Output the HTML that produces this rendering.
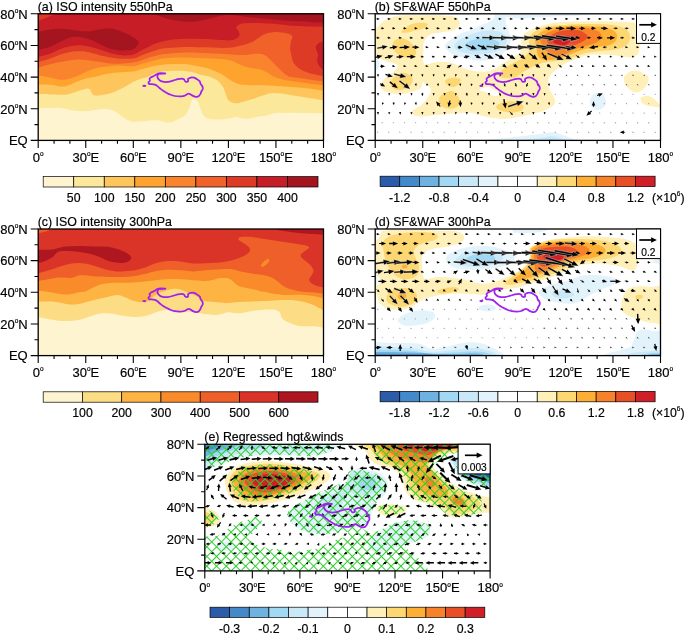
<!DOCTYPE html>
<html><head><meta charset="utf-8"><title>Figure</title>
<style>html,body{margin:0;padding:0;background:#fff}svg{display:block}</style></head>
<body>
<svg width="685" height="634" viewBox="0 0 685 634" font-family="'Liberation Sans', sans-serif" fill="#000"><style>text{stroke:#000;stroke-width:0.18px}</style>
<rect width="685" height="634" fill="#fff"/>
<defs><pattern id="hatch" patternUnits="userSpaceOnUse" width="6.86" height="6.86" patternTransform="translate(260.2 560.6) rotate(45)"><path d="M0 0.5H6.86M0.5 0V6.86" stroke="#2BD02B" stroke-width="1.0" fill="none"/></pattern></defs>
<clipPath id="clipa"><rect x="38.20" y="13.80" width="285.30" height="126.60"/></clipPath>
<g clip-path="url(#clipa)">
<rect x="36.2" y="11.8" width="289.3" height="130.6" fill="#FEF4CF"/>
<path d="M38.2 108.3C40.3 108.2 46.9 108.0 50.9 108.0C54.8 107.9 58.3 107.5 62.0 108.0C65.7 108.4 69.1 110.0 73.1 110.5C77.0 111.0 81.5 111.3 85.8 111.1C90.0 110.9 95.0 109.7 98.4 109.4C101.9 109.0 103.7 108.8 106.4 109.1C109.0 109.4 111.9 110.1 114.3 111.1C116.7 112.2 118.8 114.0 120.6 115.2C122.5 116.5 123.8 117.8 125.4 118.7C127.0 119.6 128.8 120.3 130.1 120.8C131.5 121.3 131.2 121.6 133.3 121.7C135.4 121.8 139.6 121.5 142.8 121.3C146.0 121.0 149.7 120.6 152.3 120.5C155.0 120.3 156.5 120.0 158.7 120.3C160.8 120.6 162.9 121.9 165.0 122.2C167.1 122.5 169.2 122.6 171.3 122.2C173.5 121.8 175.6 120.5 177.7 119.5C179.8 118.5 182.4 117.2 184.0 116.0C185.6 114.9 186.1 114.4 187.2 112.5C188.2 110.7 189.6 106.9 190.4 104.8C191.2 102.7 191.3 101.1 191.9 100.0C192.6 99.0 193.5 98.6 194.3 98.6C195.1 98.6 195.9 99.0 196.7 100.0C197.5 101.1 198.3 102.8 199.1 104.8C199.9 106.7 200.5 109.8 201.5 111.8C202.4 113.7 203.3 115.5 204.6 116.7C205.9 117.8 207.3 118.2 209.4 118.7C211.5 119.2 214.1 119.5 217.3 119.5C220.5 119.5 225.4 119.1 228.4 118.7C231.4 118.3 233.0 117.0 235.4 117.0C237.7 116.9 240.0 118.1 242.3 118.4C244.7 118.7 247.1 119.0 249.5 118.7C251.8 118.5 253.7 117.5 256.5 117.0C259.3 116.5 263.2 116.2 266.3 115.6C269.3 114.9 271.6 113.6 274.7 113.2C277.7 112.7 280.5 112.9 284.5 112.9C288.5 112.8 292.0 112.8 298.5 112.9C305.0 112.9 319.3 113.1 323.5 113.2L328.5 113.2L328.5 8.8L33.2 8.8L33.2 108.3Z" fill="#FBE89A"/>
<path d="M38.2 94.0C40.8 94.1 49.3 94.4 54.1 94.5C58.8 94.6 63.0 95.0 66.7 94.5C70.4 94.0 73.3 92.5 76.2 91.7C79.1 90.8 82.2 89.8 84.2 89.3C86.1 88.8 87.1 88.3 88.1 88.5C89.2 88.7 89.8 89.4 90.5 90.2C91.2 91.1 91.3 92.8 92.1 93.7C92.9 94.6 93.7 95.4 95.3 95.6C96.8 95.9 99.0 95.6 101.6 95.1C104.2 94.7 107.9 94.1 111.1 93.1C114.3 92.1 117.7 90.4 120.6 89.0C123.5 87.6 126.4 85.9 128.5 84.7C130.7 83.5 131.5 82.8 133.3 81.8C135.1 80.9 137.3 79.9 139.6 79.2C142.0 78.4 145.2 78.0 147.6 77.1C149.9 76.2 151.5 74.4 153.9 73.5C156.3 72.5 158.7 71.9 161.8 71.4C165.0 71.0 169.2 70.8 172.9 70.8C176.6 70.7 180.6 70.8 184.0 71.1C187.5 71.4 190.6 71.7 193.5 72.4C196.4 73.0 198.8 74.2 201.5 74.9C204.1 75.6 207.0 75.9 209.4 76.6C211.8 77.4 214.1 78.6 215.7 79.5C217.3 80.3 217.7 80.6 218.9 81.8C220.1 83.1 221.8 85.0 222.9 86.8C223.9 88.5 224.3 90.1 225.2 92.3C226.2 94.5 226.7 98.4 228.4 100.2C230.1 102.0 233.0 102.9 235.4 103.2C237.7 103.5 239.3 102.7 242.3 101.9C245.4 101.2 250.1 99.9 253.6 98.8C257.1 97.7 260.4 96.2 263.4 95.3C266.5 94.4 268.8 93.5 271.8 93.2C274.9 93.0 278.4 93.2 281.7 93.6C284.9 93.9 287.5 94.7 291.5 95.3C295.5 95.9 300.3 96.5 305.6 97.4C310.9 98.2 320.5 99.7 323.5 100.2L328.5 100.2L328.5 8.8L33.2 8.8L33.2 94.0Z" fill="#FDC55B"/>
<path d="M38.2 84.4C40.3 84.4 46.9 84.3 50.9 84.7C54.8 85.1 58.8 86.6 62.0 86.6C65.1 86.6 67.3 85.6 69.9 84.7C72.5 83.8 75.2 82.2 77.8 81.2C80.5 80.2 83.1 79.2 85.8 78.5C88.4 77.8 90.5 77.8 93.7 77.1C96.8 76.4 100.8 75.0 104.8 74.3C108.7 73.5 112.7 72.8 117.5 72.4C122.2 71.9 129.3 71.9 133.3 71.4C137.3 70.9 138.6 70.0 141.2 69.3C143.9 68.7 146.5 67.9 149.2 67.3C151.8 66.6 154.4 65.9 157.1 65.4C159.7 64.9 161.0 64.7 165.0 64.4C169.0 64.2 176.9 64.1 180.9 64.1C184.8 64.1 186.1 64.1 188.8 64.4C191.4 64.7 194.1 65.3 196.7 65.9C199.3 66.4 202.0 66.9 204.6 67.6C207.3 68.3 209.9 69.0 212.6 70.0C215.2 71.0 217.8 72.2 220.5 73.6C223.1 75.1 225.9 77.2 228.4 78.7C230.9 80.2 233.0 81.8 235.4 82.8C237.7 83.8 238.8 84.3 242.3 84.7C245.9 85.1 251.8 85.0 256.5 85.2C261.1 85.3 265.7 85.2 270.4 85.5C275.1 85.7 279.8 86.3 284.5 86.6C289.2 86.9 293.8 87.1 298.5 87.5C303.1 87.9 308.4 88.4 312.6 89.0C316.7 89.5 321.7 90.7 323.5 91.0L328.5 91.0L328.5 8.8L33.2 8.8L33.2 84.4Z" fill="#FDA32E"/>
<path d="M38.2 75.5C39.8 75.8 43.7 76.4 47.7 77.1C51.7 77.8 57.5 79.9 62.0 79.9C66.5 79.9 70.7 78.4 74.7 77.1C78.6 75.8 82.1 73.6 85.8 72.0C89.4 70.5 92.9 68.9 96.8 67.9C100.8 67.0 105.6 66.8 109.5 66.3C113.5 65.9 116.7 65.4 120.6 65.4C124.6 65.4 129.9 66.6 133.3 66.3C136.7 66.1 138.6 64.9 141.2 64.1C143.9 63.4 146.5 62.5 149.2 61.7C151.8 61.0 154.4 60.3 157.1 59.7C159.7 59.1 161.0 58.6 165.0 58.3C169.0 57.9 175.6 57.5 180.9 57.5C186.1 57.4 191.4 57.8 196.7 58.0C202.0 58.1 207.3 58.3 212.6 58.6C217.8 58.9 224.6 59.2 228.4 59.9C232.2 60.5 233.0 61.4 235.4 62.4C237.7 63.3 240.0 64.7 242.3 65.5C244.7 66.4 246.7 67.2 249.5 67.8C252.3 68.4 256.5 68.5 259.3 69.2C262.1 69.9 264.2 70.8 266.3 71.9C268.4 72.9 270.4 74.5 271.8 75.4C273.2 76.2 272.6 76.3 274.7 77.1C276.8 77.9 280.5 79.1 284.5 79.9C288.5 80.8 293.8 81.3 298.5 82.0C303.1 82.7 308.4 83.5 312.6 84.1C316.7 84.6 321.7 85.2 323.5 85.5L328.5 85.5L328.5 8.8L33.2 8.8L33.2 75.5Z" fill="#F9842D"/>
<path d="M38.2 67.9C40.3 67.3 46.9 65.2 50.9 64.1C54.8 63.1 58.3 62.5 62.0 61.7C65.7 61.0 69.6 60.2 73.1 59.9C76.5 59.5 79.1 59.5 82.6 59.7C86.0 59.9 90.0 60.5 93.7 61.0C97.4 61.5 100.8 62.2 104.8 62.7C108.7 63.2 112.7 63.8 117.5 63.8C122.2 63.8 129.3 63.1 133.3 62.5C137.3 62.0 138.6 61.2 141.2 60.3C143.9 59.5 146.5 58.3 149.2 57.5C151.8 56.7 154.4 56.0 157.1 55.4C159.7 54.8 161.0 54.4 165.0 54.0C169.0 53.5 175.6 52.9 180.9 52.7C186.1 52.5 191.4 52.6 196.7 52.7C202.0 52.8 207.3 53.1 212.6 53.4C217.8 53.6 223.4 53.9 228.4 54.2C233.4 54.4 237.7 55.2 242.3 55.1C247.0 55.0 252.9 53.8 256.5 53.7C260.0 53.6 261.3 53.7 263.4 54.5C265.5 55.3 267.3 56.9 269.1 58.6C271.0 60.2 272.8 62.4 274.7 64.3C276.5 66.2 278.4 68.1 280.2 69.8C282.1 71.6 284.0 73.5 285.9 74.7C287.9 75.9 288.3 76.4 291.8 77.1C295.3 77.8 301.7 78.4 307.0 79.2C312.3 79.9 320.8 81.0 323.5 81.4L328.5 81.4L328.5 8.8L33.2 8.8L33.2 67.9Z" fill="#F0622A"/>
<path d="M38.2 62.4C40.3 61.7 46.9 59.7 50.9 58.3C54.8 56.9 58.3 55.1 62.0 54.0C65.7 52.9 69.6 52.1 73.1 51.6C76.5 51.2 79.1 51.0 82.6 51.3C86.0 51.6 90.0 52.5 93.7 53.4C97.4 54.2 100.8 55.4 104.8 56.2C108.7 57.1 112.7 58.1 117.5 58.4C122.2 58.8 129.3 58.9 133.3 58.4C137.3 57.9 138.6 56.4 141.2 55.4C143.9 54.4 146.5 53.3 149.2 52.4C151.8 51.5 154.4 50.6 157.1 49.9C159.7 49.2 161.0 48.7 165.0 48.3C169.0 47.9 175.6 47.4 180.9 47.2C186.1 47.0 191.4 47.1 196.7 47.2C202.0 47.2 207.3 47.4 212.6 47.5C217.8 47.6 223.4 48.2 228.4 47.8C233.4 47.5 238.1 46.4 242.3 45.3C246.5 44.2 250.3 42.8 253.6 41.2C256.9 39.5 259.4 36.9 262.0 35.5C264.6 34.1 266.4 33.4 269.0 32.8C271.6 32.2 274.5 31.9 277.5 32.0C280.6 32.1 284.9 32.7 287.4 33.4C289.8 34.1 291.7 34.9 292.3 36.3C292.9 37.7 291.2 39.7 290.8 41.8C290.5 43.9 290.0 46.5 290.1 48.8C290.2 51.1 291.0 53.6 291.5 55.7C292.0 57.8 292.0 59.6 292.9 61.4C293.9 63.3 295.3 65.3 297.2 67.0C299.1 68.6 301.6 70.1 304.2 71.2C306.7 72.4 309.3 73.3 312.6 74.1C315.8 74.9 321.7 75.8 323.5 76.2L328.5 76.2L328.5 8.8L33.2 8.8L33.2 62.4Z" fill="#DE3B27"/>
<path d="M38.2 56.8C40.3 56.3 46.9 54.8 50.9 53.4C54.8 52.0 58.3 49.7 62.0 48.5C65.7 47.2 69.6 46.3 73.1 45.8C76.5 45.3 79.1 45.1 82.6 45.5C86.0 45.8 90.0 46.8 93.7 47.8C97.4 48.8 100.8 50.1 104.8 51.3C108.7 52.5 114.0 54.1 117.5 54.8C120.9 55.5 122.7 55.4 125.4 55.4C128.0 55.4 130.7 55.4 133.3 54.6C135.9 53.8 138.6 51.9 141.2 50.5C143.9 49.1 146.5 47.7 149.2 46.4C151.8 45.1 154.4 43.8 157.1 42.9C159.7 42.0 162.4 41.4 165.0 40.9C167.6 40.3 169.0 39.8 172.9 39.4C176.9 39.1 183.5 38.9 188.8 38.8C194.1 38.8 198.0 38.9 204.6 39.1C211.2 39.4 223.3 40.4 228.4 40.4C233.5 40.4 233.5 39.9 235.4 39.1C237.2 38.3 239.0 36.9 239.5 35.5C240.0 34.1 238.8 31.9 238.2 30.6C237.7 29.3 236.0 28.8 236.2 27.7C236.4 26.7 237.3 25.0 239.5 24.2C241.7 23.5 244.3 23.1 249.5 23.0C254.6 22.9 263.4 23.2 270.4 23.6C277.4 24.1 284.5 25.2 291.5 25.7C298.5 26.2 307.1 26.5 312.4 26.6C317.7 26.8 321.7 26.6 323.5 26.6L328.5 26.6L328.5 8.8L33.2 8.8L33.2 56.8Z" fill="#C61D27"/>
<path d="M35.0 22.3L46.1 17.9L55.6 13.5L35.0 10.6Z" fill="#DE3B27" />
<path d="M326.7 39.9C326.1 35.0 324.8 40.6 323.5 41.2C322.2 41.7 319.9 42.2 318.6 43.2C317.3 44.3 315.8 45.5 315.7 47.3C315.6 49.2 317.7 52.1 318.0 54.5C318.2 56.8 316.8 59.3 317.2 61.4C317.5 63.5 319.0 65.6 320.0 67.0C321.1 68.4 322.4 69.2 323.5 69.8C324.6 70.5 326.1 75.8 326.7 70.8C327.2 65.8 327.2 44.8 326.7 39.9Z" fill="#C61D27" />
<path d="M33.4 32.2C34.2 29.2 34.8 32.4 38.2 31.8C41.6 31.3 49.3 29.4 54.1 29.0C58.8 28.6 61.4 28.9 66.7 29.3C72.0 29.7 79.9 31.5 85.8 31.5C91.6 31.5 97.1 29.8 101.6 29.3C106.1 28.9 108.7 28.2 112.7 28.8C116.7 29.5 121.9 31.8 125.4 33.3C128.8 34.7 131.1 35.9 133.3 37.4C135.5 38.9 138.8 40.3 138.8 42.3C138.8 44.3 135.5 47.9 133.3 49.2C131.1 50.6 128.0 50.0 125.4 50.2C122.7 50.4 120.1 50.5 117.5 50.2C114.8 49.9 112.2 49.3 109.5 48.5C106.9 47.6 104.2 46.2 101.6 45.0C99.0 43.7 96.3 42.0 93.7 40.9C91.0 39.7 88.4 38.9 85.8 38.2C83.1 37.5 80.5 36.9 77.8 36.7C75.2 36.6 72.5 36.7 69.9 37.4C67.3 38.1 65.1 39.4 62.0 40.9C58.8 42.4 54.8 44.9 50.9 46.4C46.9 47.9 41.1 49.0 38.2 49.6C35.3 50.1 34.2 52.8 33.4 49.9C32.7 47.0 32.7 35.2 33.4 32.2Z" fill="#A5151F" />
<path d="M152.3 13.0C154.4 14.5 160.8 16.6 165.0 17.9C169.2 19.2 173.7 20.1 177.7 20.8C181.6 21.4 185.1 21.7 188.8 21.7C192.5 21.7 195.9 21.4 199.9 20.8C203.8 20.1 208.3 18.9 212.6 17.9C216.8 17.0 221.3 15.5 225.2 15.1C229.2 14.6 232.4 15.0 236.3 15.4C240.3 15.8 243.3 16.6 249.0 17.3C254.7 17.9 263.3 18.5 270.4 19.2C277.5 19.8 284.8 20.6 291.8 21.1C298.8 21.6 307.1 21.9 312.4 22.2C317.7 22.4 320.6 22.5 323.5 22.5C326.4 22.6 328.8 24.7 329.8 22.5C330.9 20.3 359.4 11.3 329.8 9.1C300.3 6.8 181.9 8.4 152.3 9.1C122.7 9.7 150.2 11.5 152.3 13.0Z" fill="#A5151F" />
<path d="M164.6 73.3C163.6 73.2 159.8 73.0 158.4 73.3C156.9 73.5 156.7 74.3 155.9 74.8C155.1 75.3 154.2 75.8 153.4 76.2C152.6 76.7 151.6 77.0 150.9 77.4C150.3 77.9 149.7 78.4 149.5 78.9C149.4 79.5 150.1 80.1 149.9 80.7C149.8 81.3 148.7 81.9 148.5 82.4C148.4 82.9 148.6 83.6 149.1 83.9C149.7 84.2 151.0 84.0 151.9 84.1C152.9 84.2 154.0 84.4 154.9 84.7C155.8 85.0 156.6 85.5 157.4 86.1C158.2 86.7 159.0 87.5 159.9 88.3C160.8 89.0 161.7 89.8 162.8 90.5C164.0 91.3 165.5 92.2 166.8 92.9C168.1 93.6 169.5 94.3 170.8 94.8C172.1 95.3 173.3 95.7 174.8 96.0C176.3 96.3 178.2 96.4 179.7 96.4C181.3 96.4 183.0 96.1 184.2 95.8C185.4 95.5 185.9 94.9 186.7 94.5C187.4 94.2 188.0 93.6 188.7 93.6C189.3 93.6 189.9 94.0 190.7 94.4C191.4 94.8 192.2 95.5 193.1 95.9C194.0 96.3 195.2 96.8 196.1 96.9C197.0 97.0 197.9 96.8 198.6 96.3C199.3 95.8 199.9 94.8 200.4 94.0C200.8 93.2 201.0 92.3 201.4 91.4C201.8 90.6 202.6 89.7 202.8 88.9C202.9 88.0 202.7 87.2 202.4 86.4C202.0 85.6 201.0 84.7 200.6 83.9C200.2 83.1 200.4 82.2 199.8 81.4C199.2 80.7 198.1 79.9 197.1 79.3C196.2 78.7 195.2 78.0 194.1 77.7C193.1 77.5 191.7 77.4 190.7 77.6C189.6 77.8 188.5 78.3 188.1 78.9C187.6 79.5 188.5 80.9 188.1 81.3C187.6 81.7 186.0 81.8 185.3 81.4C184.6 81.1 184.5 79.7 183.9 79.2C183.3 78.8 182.7 78.6 181.7 78.6C180.7 78.6 179.2 78.9 177.7 79.2C176.3 79.6 174.4 80.3 172.8 80.7C171.1 81.2 169.5 81.7 167.8 81.9C166.2 82.1 164.2 82.0 162.8 81.7C161.5 81.4 160.4 80.9 159.6 80.3C158.7 79.7 158.0 78.7 157.7 77.9C157.3 77.2 157.3 76.4 157.5 75.8C157.7 75.1 157.7 74.3 158.9 74.0C160.1 73.6 163.7 73.8 164.6 73.7C165.6 73.6 165.7 73.3 164.6 73.3Z" fill="none" stroke="#A020F0" stroke-width="1.75" stroke-linejoin="round"/>
<ellipse cx="144.3" cy="85.9" rx="2.0" ry="1.1" fill="#A020F0"/>
</g>
<path d="M38.20 140.40v7.5M54.05 140.40v3.4M69.90 140.40v3.4M85.75 140.40v7.5M101.60 140.40v3.4M117.45 140.40v3.4M133.30 140.40v7.5M149.15 140.40v3.4M165.00 140.40v3.4M180.85 140.40v7.5M196.70 140.40v3.4M212.55 140.40v3.4M228.40 140.40v7.5M244.25 140.40v3.4M260.10 140.40v3.4M275.95 140.40v7.5M291.80 140.40v3.4M307.65 140.40v3.4M323.50 140.40v7.5M38.20 140.40h-7.5M38.20 124.58h-3.7M38.20 108.75h-7.5M38.20 92.92h-3.7M38.20 77.10h-7.5M38.20 61.28h-3.7M38.20 45.45h-7.5M38.20 29.62h-3.7M38.20 13.80h-7.5" stroke="#000" stroke-width="1.1" fill="none"/>
<rect x="38.20" y="13.80" width="285.30" height="126.60" fill="none" stroke="#000" stroke-width="1.3"/>
<text x="27.7" y="18.5" text-anchor="end" font-size="13">80<tspan font-size="6.5" dy="-5.5">o</tspan><tspan dy="5.5">N</tspan></text>
<text x="27.7" y="50.2" text-anchor="end" font-size="13">60<tspan font-size="6.5" dy="-5.5">o</tspan><tspan dy="5.5">N</tspan></text>
<text x="27.7" y="81.8" text-anchor="end" font-size="13">40<tspan font-size="6.5" dy="-5.5">o</tspan><tspan dy="5.5">N</tspan></text>
<text x="27.7" y="113.5" text-anchor="end" font-size="13">20<tspan font-size="6.5" dy="-5.5">o</tspan><tspan dy="5.5">N</tspan></text>
<text x="27.7" y="145.1" text-anchor="end" font-size="13">EQ</text>
<text x="38.2" y="161.7" text-anchor="middle" font-size="13">0<tspan font-size="6.5" dy="-5.5">o</tspan></text>
<text x="85.8" y="161.7" text-anchor="middle" font-size="13">30<tspan font-size="6.5" dy="-5.5">o</tspan><tspan dy="5.5">E</tspan></text>
<text x="133.3" y="161.7" text-anchor="middle" font-size="13">60<tspan font-size="6.5" dy="-5.5">o</tspan><tspan dy="5.5">E</tspan></text>
<text x="180.9" y="161.7" text-anchor="middle" font-size="13">90<tspan font-size="6.5" dy="-5.5">o</tspan><tspan dy="5.5">E</tspan></text>
<text x="228.4" y="161.7" text-anchor="middle" font-size="13">120<tspan font-size="6.5" dy="-5.5">o</tspan><tspan dy="5.5">E</tspan></text>
<text x="275.9" y="161.7" text-anchor="middle" font-size="13">150<tspan font-size="6.5" dy="-5.5">o</tspan><tspan dy="5.5">E</tspan></text>
<text x="323.5" y="161.7" text-anchor="middle" font-size="13">180<tspan font-size="6.5" dy="-5.5">o</tspan></text>
<text x="37.7" y="10.9" font-size="12.4">(a) ISO intensity 550hPa</text>
<clipPath id="clipb"><rect x="375.20" y="13.80" width="285.30" height="126.60"/></clipPath>
<g clip-path="url(#clipb)">
<path d="M372.9 31.7C373.9 26.7 376.4 28.3 378.1 26.5C379.9 24.8 380.9 22.9 383.4 21.3C385.8 19.7 389.3 17.9 392.7 16.9C396.2 15.9 397.8 15.5 404.2 15.3C410.7 15.0 424.4 15.2 431.4 15.3C438.3 15.3 442.0 15.4 446.0 15.7C450.0 16.0 453.1 16.2 455.4 17.1C457.6 18.1 459.0 19.7 459.6 21.3C460.1 22.9 459.6 25.0 458.5 26.5C457.5 28.0 456.1 29.3 453.3 30.3C450.5 31.2 445.3 31.6 441.8 32.2C438.3 32.8 435.0 32.9 432.4 33.8C429.8 34.8 427.6 36.3 426.1 38.0C424.7 39.7 423.9 42.0 423.4 44.3C423.0 46.5 423.6 49.1 423.4 51.6C423.3 54.0 422.5 56.6 422.6 58.9C422.7 61.1 424.5 64.0 424.3 65.1C424.1 66.3 421.4 64.4 421.4 66.0C421.4 67.6 424.0 71.5 424.0 75.0C424.0 78.5 422.6 84.2 421.4 86.8C420.2 89.3 418.6 89.3 416.7 90.3C414.8 91.3 412.2 91.9 409.7 92.6C407.2 93.2 404.2 94.0 401.5 94.2C398.8 94.4 396.1 94.0 393.4 93.5C390.7 93.0 387.2 92.3 385.2 91.5C383.1 90.7 381.9 89.7 381.1 88.6C380.3 87.5 380.2 86.3 380.5 85.0C380.8 83.7 381.7 82.5 382.9 81.0C384.1 79.5 385.9 77.7 387.5 76.3C389.1 74.9 390.7 74.0 392.2 72.8C393.7 71.6 395.4 70.6 396.3 69.3C397.2 68.0 398.0 66.3 397.5 65.2C397.0 64.1 395.1 63.5 393.4 62.9C391.7 62.3 389.6 62.4 387.5 61.7C385.4 61.0 382.4 59.5 380.5 58.8C378.6 58.1 377.4 57.8 376.0 57.5C374.6 57.2 372.5 61.3 372.0 57.0C371.5 52.7 371.9 36.8 372.9 31.7Z" fill="#FEF0B8" />
<path d="M421.4 66.0C423.1 64.6 427.4 64.2 430.5 63.5C433.6 62.8 436.5 61.8 440.0 61.7C443.5 61.6 448.4 62.1 451.7 62.9C455.0 63.7 457.0 65.2 459.9 66.4C462.8 67.6 466.1 69.0 469.2 69.9C472.3 70.8 475.7 71.3 478.6 71.6C481.5 71.9 484.2 72.0 486.7 71.6C489.2 71.2 491.4 70.4 493.7 69.3C496.0 68.2 498.3 66.7 500.7 65.2C503.1 63.7 505.5 62.0 507.8 60.5C510.1 59.0 512.4 57.7 514.4 56.4C516.4 55.1 518.6 54.3 519.9 52.8C521.2 51.3 521.8 49.4 522.0 47.3C522.2 45.2 521.1 42.5 521.3 40.4C521.5 38.3 522.2 36.3 523.4 34.8C524.6 33.3 526.3 32.5 528.3 31.3C530.3 30.2 532.4 28.9 535.2 27.9C538.0 26.9 541.4 26.0 544.9 25.1C548.4 24.2 552.6 23.1 556.0 22.6C559.4 22.1 561.2 22.2 565.0 22.0C568.8 21.8 574.3 21.7 579.0 21.6C583.7 21.5 588.3 21.4 593.0 21.3C597.7 21.2 602.3 21.2 607.0 21.3C611.7 21.4 616.8 21.5 621.0 21.7C625.2 21.9 629.5 21.9 632.3 22.4C635.0 22.9 636.2 22.9 637.5 24.5C638.8 26.1 639.6 28.7 640.0 32.0C640.4 35.3 639.9 41.0 639.8 44.1C639.7 47.2 639.8 48.5 639.3 50.4C638.8 52.3 637.9 54.1 636.5 55.3C635.1 56.5 633.0 57.2 630.9 57.4C628.8 57.6 626.7 57.1 623.9 56.7C621.1 56.4 617.3 55.6 614.0 55.3C610.7 54.9 607.7 54.7 604.2 54.6C600.7 54.5 596.3 54.4 593.0 54.6C589.7 54.8 587.4 55.3 584.6 56.0C581.8 56.7 578.8 57.8 576.2 58.8C573.6 59.8 571.1 60.9 569.2 61.7C567.3 62.5 566.7 62.8 565.0 63.8C563.3 64.8 560.8 66.4 558.8 67.8C556.8 69.2 554.8 70.8 553.2 72.3C551.6 73.8 549.8 75.3 549.0 77.0C548.2 78.7 548.5 80.8 548.5 82.5C548.5 84.2 548.6 85.8 549.0 87.4C549.4 89.0 550.2 90.8 551.0 92.3C551.8 93.8 552.8 95.0 553.5 96.4C554.2 97.8 554.9 99.2 555.0 100.6C555.1 102.0 555.0 103.4 554.0 104.7C553.0 106.0 551.2 107.0 549.0 108.2C546.8 109.4 544.0 110.7 541.0 111.7C538.0 112.7 534.5 113.4 531.0 114.2C527.5 115.0 523.5 116.1 520.0 116.8C516.5 117.5 513.0 117.9 510.2 118.3C507.4 118.7 505.4 119.2 503.3 119.3C501.2 119.3 500.2 118.9 497.7 118.6C495.1 118.2 491.2 117.8 488.0 117.2C484.8 116.6 481.3 115.5 478.3 114.8C475.3 114.1 474.5 113.0 470.0 112.8C465.5 112.6 456.7 113.4 451.3 113.8C445.9 114.2 442.0 114.6 437.4 115.1C432.8 115.5 427.2 116.4 423.5 116.5C419.8 116.6 417.1 116.4 415.2 115.8C413.2 115.2 412.0 114.1 411.8 113.1C411.6 112.1 412.4 110.8 413.8 109.6C415.2 108.4 418.4 107.5 420.2 106.1C422.0 104.7 423.5 103.0 424.9 101.4C426.3 99.8 427.4 98.2 428.4 96.7C429.4 95.2 430.4 93.6 430.7 92.1C431.0 90.5 431.0 88.6 430.2 87.4C429.4 86.2 427.5 86.2 426.1 85.0C424.7 83.8 423.0 82.2 422.0 80.0C421.0 77.8 420.1 74.3 420.0 72.0C419.9 69.7 419.6 67.4 421.4 66.0Z" fill="#FEF0B8" />
<path d="M479.7 89.1C480.3 88.5 482.6 87.7 484.4 87.4C486.1 87.1 488.4 86.9 490.2 87.4C491.9 87.9 493.3 89.2 494.9 90.3C496.5 91.4 499.2 92.8 499.6 93.8C500.0 94.8 498.6 95.9 497.2 96.1C495.8 96.3 493.3 95.7 491.4 95.0C489.5 94.3 487.4 92.8 485.6 92.1C483.9 91.4 481.9 91.4 480.9 90.9C479.9 90.4 479.1 89.7 479.7 89.1Z" fill="#fff" />
<path d="M623.9 77.0C623.8 78.2 623.9 80.7 624.6 82.6C625.3 84.5 626.4 86.6 628.1 88.2C629.9 89.8 632.8 92.1 635.1 92.4C637.4 92.8 640.1 91.6 642.1 90.3C644.1 89.0 646.0 86.9 647.0 84.7C648.0 82.5 649.0 78.9 648.4 77.0C647.8 75.1 645.2 74.3 643.5 73.3C641.8 72.3 639.8 71.4 637.9 71.0C636.0 70.6 633.9 70.5 632.3 70.8C630.7 71.1 629.3 72.1 628.1 72.9C626.9 73.7 626.0 74.8 625.3 75.5C624.6 76.2 624.0 75.8 623.9 77.0Z" fill="#FEF0B8" />
<path d="M640.7 98.0C641.2 96.8 643.3 96.1 644.9 95.9C646.5 95.7 648.6 95.8 650.5 96.6C652.4 97.4 654.6 99.5 656.1 100.8C657.6 102.1 658.5 103.4 659.6 104.3C660.8 105.2 662.4 105.4 663.0 106.0C663.6 106.6 664.4 107.9 663.0 108.0C661.6 108.1 657.2 107.1 654.7 106.7C652.2 106.3 649.8 106.3 647.7 105.7C645.6 105.1 643.3 104.2 642.1 102.9C640.9 101.6 640.2 99.2 640.7 98.0Z" fill="#FEF0B8" />
<path d="M401.4 32.0C401.6 30.9 405.8 27.3 408.3 25.8C410.8 24.3 413.8 23.5 416.6 23.0C419.4 22.5 423.0 22.6 424.9 23.0C426.8 23.4 427.9 24.2 427.7 25.1C427.5 26.0 425.6 27.7 423.5 28.6C421.4 29.5 418.0 29.9 415.2 30.6C412.4 31.3 409.2 32.5 406.9 32.7C404.6 32.9 401.2 33.1 401.4 32.0Z" fill="#FDD772" />
<path d="M393.0 44.5C393.0 42.3 394.2 40.7 395.8 39.7C397.4 38.7 400.4 38.0 402.7 38.3C405.0 38.6 407.6 40.0 409.7 41.7C411.8 43.4 414.2 46.6 415.2 48.7C416.2 50.8 416.6 52.7 415.9 54.2C415.2 55.7 413.3 57.2 411.1 57.7C408.9 58.2 405.2 57.8 402.7 57.0C400.1 56.2 397.4 54.9 395.8 52.8C394.2 50.7 393.0 46.7 393.0 44.5Z" fill="#FDD772" />
<path d="M390.4 83.9C390.2 82.3 391.1 80.7 392.2 79.2C393.3 77.7 394.9 76.2 396.9 75.1C398.8 74.0 401.8 72.8 403.9 72.8C406.0 72.8 408.2 74.0 409.7 75.1C411.1 76.2 412.4 77.6 412.6 79.2C412.8 80.8 412.0 82.9 410.9 84.5C409.8 86.1 408.1 87.6 406.2 88.6C404.2 89.6 401.3 90.3 399.2 90.3C397.1 90.3 394.9 89.7 393.4 88.6C391.9 87.5 390.6 85.5 390.4 83.9Z" fill="#FDD772" />
<path d="M445.0 81.2C445.4 80.3 446.8 79.0 448.5 78.4C450.2 77.8 453.4 77.6 455.4 77.7C457.4 77.8 459.6 78.2 460.3 79.1C461.0 80.0 460.4 82.0 459.6 83.2C458.8 84.4 456.9 85.8 455.4 86.4C453.9 87.0 452.1 87.1 450.6 86.7C449.1 86.3 447.3 84.8 446.4 83.9C445.5 83.0 444.6 82.1 445.0 81.2Z" fill="#FDD772" />
<path d="M438.8 99.9C438.9 98.2 440.2 96.3 441.6 95.0C443.0 93.7 445.4 93.0 447.1 92.3C448.8 91.6 450.4 90.6 452.0 90.9C453.6 91.2 455.5 92.7 456.8 94.3C458.1 95.9 459.4 98.6 459.6 100.6C459.8 102.6 459.4 104.8 458.2 106.1C457.0 107.4 454.8 108.2 452.7 108.6C450.6 108.9 447.7 108.7 445.7 108.2C443.7 107.7 442.0 106.8 440.9 105.4C439.8 104.0 438.7 101.6 438.8 99.9Z" fill="#FDD772" />
<path d="M496.4 106.1C497.0 104.9 499.6 103.5 501.9 102.7C504.2 101.9 507.4 101.3 510.2 101.3C513.0 101.3 516.3 101.9 518.5 102.7C520.7 103.5 522.8 104.8 523.4 106.1C524.0 107.4 523.5 109.2 522.0 110.3C520.5 111.3 517.3 112.2 514.4 112.4C511.5 112.6 507.4 112.2 504.7 111.7C502.0 111.2 499.8 110.5 498.4 109.6C497.0 108.7 495.8 107.2 496.4 106.1Z" fill="#FDD772" />
<path d="M547.7 26.5C543.2 27.3 540.8 28.6 538.0 30.0C535.2 31.4 532.5 32.8 531.0 34.8C529.5 36.8 529.2 39.4 529.0 41.7C528.8 44.0 530.0 46.6 529.6 48.7C529.2 50.8 528.5 52.4 526.9 54.2C525.3 56.1 522.4 58.2 519.9 59.8C517.4 61.4 514.1 62.5 511.6 63.9C509.1 65.3 506.6 66.7 504.7 68.1C502.8 69.5 501.2 70.9 500.5 72.3C499.8 73.7 499.8 75.5 500.5 76.5C501.2 77.5 503.2 78.0 505.0 78.2C506.8 78.5 509.0 78.3 511.0 78.0C513.0 77.7 515.2 77.5 517.2 76.5C519.2 75.5 520.4 73.8 522.7 72.3C525.0 70.8 528.2 68.8 531.0 67.4C533.8 66.0 536.5 64.8 539.3 63.9C542.1 63.0 544.9 62.3 547.7 61.9C550.5 61.5 553.1 61.4 556.0 61.2C558.9 61.0 561.6 61.3 565.0 60.5C568.4 59.7 572.7 57.5 576.2 56.3C579.7 55.0 582.0 53.9 586.0 53.0C590.0 52.1 595.5 51.4 600.0 50.9C604.5 50.4 609.0 50.4 612.7 49.9C616.5 49.4 619.9 48.7 622.5 47.6C625.1 46.5 626.8 45.0 628.1 43.4C629.4 41.8 630.1 39.7 630.2 37.8C630.3 35.9 629.8 33.8 628.8 32.2C627.8 30.6 626.4 29.2 623.9 28.0C621.4 26.8 618.0 25.8 614.0 25.2C610.0 24.6 605.8 24.3 600.0 24.1C594.2 23.9 584.8 24.0 579.0 24.1C573.2 24.2 570.2 24.6 565.0 25.0C559.8 25.4 552.2 25.7 547.7 26.5Z" fill="#FDD772" />
<path d="M565.0 26.2C560.2 26.4 556.8 26.7 553.2 27.4C549.6 28.1 546.3 29.1 543.5 30.6C540.7 32.1 538.0 34.4 536.6 36.2C535.2 38.1 535.2 39.6 535.2 41.7C535.2 43.8 536.1 46.4 536.6 48.7C537.1 51.0 537.1 53.8 538.0 55.6C538.9 57.4 540.0 58.9 542.1 59.6C544.2 60.3 547.6 60.1 550.4 60.0C553.2 59.9 556.4 59.3 558.8 58.8C561.2 58.3 562.1 57.9 565.0 56.8C567.9 55.7 572.7 53.3 576.2 52.0C579.7 50.7 582.3 49.6 586.0 48.8C589.7 47.9 594.9 47.4 598.6 46.9C602.3 46.4 605.7 46.3 608.4 45.5C611.1 44.7 613.3 43.4 614.8 42.0C616.2 40.6 617.0 38.7 617.1 37.1C617.2 35.5 616.7 33.6 615.5 32.2C614.3 30.8 612.4 29.6 609.8 28.7C607.2 27.8 604.7 27.1 600.0 26.6C595.3 26.1 587.6 26.0 581.8 25.9C576.0 25.8 569.8 25.9 565.0 26.2Z" fill="#FDAE35" />
<path d="M565.0 27.9C560.9 28.3 557.7 29.1 554.6 30.0C551.5 30.9 548.6 32.0 546.3 33.4C544.0 34.8 541.5 36.6 540.7 38.3C539.9 40.0 540.7 42.1 541.4 43.8C542.1 45.5 543.4 47.0 544.9 48.7C546.4 50.4 548.5 52.9 550.4 54.2C552.2 55.5 553.6 56.5 556.0 56.5C558.4 56.5 561.9 55.7 565.0 54.5C568.1 53.3 571.5 50.7 574.8 49.3C578.1 47.9 581.3 47.0 584.6 46.0C587.9 45.0 591.8 44.4 594.4 43.4C597.0 42.4 598.8 41.2 600.0 39.9C601.2 38.6 601.9 37.1 601.7 35.7C601.5 34.3 600.3 32.7 598.6 31.5C596.9 30.3 594.9 29.3 591.6 28.7C588.3 28.1 583.4 27.8 579.0 27.7C574.6 27.6 569.1 27.5 565.0 27.9Z" fill="#F68329" />
<path d="M565.0 30.3C561.6 30.7 558.7 31.6 556.0 32.7C553.3 33.8 550.5 35.5 549.0 36.9C547.5 38.3 546.8 39.6 547.0 41.0C547.2 42.4 548.9 43.9 550.4 45.2C551.9 46.5 553.6 48.1 556.0 48.7C558.4 49.3 562.3 49.5 565.0 49.0C567.7 48.5 569.4 47.0 572.0 46.0C574.6 45.0 578.1 43.8 580.4 42.7C582.7 41.6 584.8 40.4 586.0 39.2C587.2 38.0 587.9 36.9 587.4 35.7C586.9 34.5 585.1 33.1 583.2 32.2C581.3 31.3 579.2 30.4 576.2 30.1C573.2 29.8 568.4 29.9 565.0 30.3Z" fill="#E84F26" />
<path d="M565.0 36.0C563.0 36.2 560.8 36.8 558.8 37.6C556.8 38.4 553.7 40.0 553.2 41.0C552.7 42.0 554.0 43.1 556.0 43.8C558.0 44.5 563.0 45.5 565.0 45.4C567.0 45.3 566.6 44.3 567.8 43.4C569.0 42.5 571.5 41.1 572.0 39.9C572.5 38.7 571.8 37.0 570.6 36.4C569.4 35.8 567.0 35.8 565.0 36.0Z" fill="#D01F27" />
<path d="M445.0 45.2C445.9 43.2 450.0 40.3 452.7 38.3C455.4 36.3 458.1 34.7 461.0 33.4C463.9 32.1 467.1 31.8 470.0 30.6C472.9 29.5 475.3 27.9 478.3 26.5C481.3 25.1 485.4 23.7 488.0 22.3C490.6 20.9 492.8 19.9 494.0 18.2C495.2 16.5 493.5 13.0 495.5 12.0C497.5 11.0 504.3 11.0 506.0 12.0C507.7 13.0 505.4 16.0 505.5 18.2C505.6 20.4 506.1 22.8 506.6 25.1C507.2 27.4 508.0 29.9 508.8 32.0C509.6 34.1 511.4 35.8 511.6 37.6C511.8 39.5 510.9 41.2 510.2 43.1C509.5 45.0 508.8 46.9 507.4 48.7C506.0 50.6 504.2 52.6 501.9 54.2C499.6 55.8 496.6 57.4 493.6 58.4C490.6 59.4 486.9 60.1 483.9 60.5C480.9 60.9 477.8 60.7 475.5 60.5C473.2 60.3 472.4 59.7 470.0 59.1C467.6 58.5 463.9 57.8 461.0 57.0C458.1 56.2 455.0 55.4 452.7 54.2C450.4 53.1 448.4 51.6 447.1 50.1C445.8 48.6 444.1 47.2 445.0 45.2Z" fill="#E3F3FB" />
<path d="M454.1 45.2C454.3 43.4 457.0 41.4 459.6 39.7C462.2 38.0 466.9 36.1 470.0 34.8C473.1 33.5 475.3 32.7 478.3 32.0C481.3 31.3 484.8 30.7 488.0 30.6C491.2 30.5 494.9 30.6 497.7 31.3C500.5 32.0 503.2 33.3 504.7 34.8C506.2 36.3 506.8 38.5 506.8 40.4C506.8 42.2 506.0 44.3 504.7 45.9C503.4 47.5 501.4 49.0 499.1 50.1C496.8 51.2 493.8 52.1 490.8 52.8C487.8 53.5 484.6 54.0 481.1 54.2C477.6 54.4 473.8 54.8 470.0 54.2C466.2 53.6 460.8 52.3 458.2 50.8C455.6 49.3 453.9 47.1 454.1 45.2Z" fill="#C9E9F8" />
<path d="M465.2 44.5C465.2 42.9 468.1 41.9 470.0 41.0C471.9 40.1 474.3 39.5 476.9 39.0C479.4 38.5 482.5 38.2 485.3 38.3C488.1 38.4 491.3 39.0 493.6 39.7C495.9 40.4 498.4 41.2 499.1 42.4C499.8 43.5 499.1 45.4 497.7 46.6C496.3 47.8 493.6 48.8 490.8 49.4C488.0 50.0 484.6 50.1 481.1 50.3C477.6 50.5 472.6 51.8 470.0 50.8C467.4 49.8 465.2 46.1 465.2 44.5Z" fill="#A1D8F4" />
<path d="M500.0 12.0L500.0 16.5L520.0 18.5L535.0 17.5L560.0 16.2L580.0 15.6L592.0 14.2L592.0 12.0Z" fill="#E3F3FB" />
<ellipse cx="375.2" cy="64.3" rx="4.3" ry="6.2" fill="#E3F3FB"/>
<ellipse cx="597.9" cy="101.5" rx="8.1" ry="8.4" fill="#E3F3FB"/>
<path d="M475.0 142.0C459.2 141.6 483.0 140.5 488.0 139.8C493.0 139.1 499.3 138.6 505.0 138.0C510.7 137.4 516.2 136.9 522.0 136.2C527.8 135.5 535.2 134.7 540.0 134.0C544.8 133.3 548.0 132.3 551.0 132.2C554.0 132.1 555.2 132.8 558.0 133.6C560.8 134.4 565.2 136.0 568.0 137.0C570.8 138.0 572.5 138.7 575.0 139.5C577.5 140.3 599.7 141.6 583.0 142.0C566.3 142.4 490.8 142.4 475.0 142.0Z" fill="#E3F3FB" />
<path d="M512.0 142.0C505.2 141.6 524.5 140.1 530.0 139.3C535.5 138.5 541.3 137.7 545.0 137.2C548.7 136.7 549.5 136.0 552.0 136.2C554.5 136.4 556.8 137.2 560.0 138.2C563.2 139.2 579.0 141.4 571.0 142.0C563.0 142.6 518.8 142.4 512.0 142.0Z" fill="#C9E9F8" />
<path d="M532.0 142.0C529.0 141.6 542.5 140.3 546.0 139.8C549.5 139.3 550.0 138.8 553.0 139.2C556.0 139.6 567.5 141.5 564.0 142.0C560.5 142.5 535.0 142.4 532.0 142.0Z" fill="#A1D8F4" />
<ellipse cx="393.0" cy="141.2" rx="12.0" ry="1.4" fill="#FEF0B8"/>
<path d="M376.4 18.8L377.7 18.9" stroke="#000" stroke-width="0.80"/><path d="M379.8 19.0L377.1 20.0L377.2 17.7Z"/><path d="M387.5 18.8L388.8 18.9" stroke="#000" stroke-width="0.80"/><path d="M390.9 19.0L388.2 20.0L388.3 17.7Z"/><path d="M398.6 18.8L399.9 18.9" stroke="#000" stroke-width="0.80"/><path d="M401.9 19.0L399.3 20.0L399.4 17.7Z"/><path d="M409.7 18.8L411.0 18.9" stroke="#000" stroke-width="0.80"/><path d="M413.1 19.0L410.4 20.0L410.5 17.7Z"/><path d="M420.8 18.8L422.1 18.9" stroke="#000" stroke-width="0.80"/><path d="M424.1 19.0L421.5 20.0L421.6 17.7Z"/><path d="M431.9 18.8L433.2 18.9" stroke="#000" stroke-width="0.80"/><path d="M435.2 19.0L432.6 20.0L432.7 17.7Z"/><path d="M442.9 18.8L444.3 18.9" stroke="#000" stroke-width="0.80"/><path d="M446.3 19.0L443.7 20.0L443.8 17.7Z"/><path d="M454.1 18.8L455.4 18.9" stroke="#000" stroke-width="0.80"/><path d="M457.4 19.0L454.8 20.0L454.9 17.7Z"/><path d="M465.2 18.8L466.5 18.9" stroke="#000" stroke-width="0.80"/><path d="M468.6 19.0L465.9 20.0L466.0 17.7Z"/><path d="M476.2 18.8L477.6 18.9" stroke="#000" stroke-width="0.80"/><path d="M479.6 19.0L477.0 20.0L477.1 17.7Z"/><path d="M487.4 18.8L488.7 18.9" stroke="#000" stroke-width="0.80"/><path d="M490.8 19.0L488.1 20.0L488.2 17.7Z"/><path d="M498.4 18.8L499.8 18.9" stroke="#000" stroke-width="0.80"/><path d="M501.8 19.0L499.2 20.0L499.3 17.7Z"/><path d="M509.6 18.8L510.9 18.9" stroke="#000" stroke-width="0.80"/><path d="M513.0 19.0L510.3 20.0L510.4 17.7Z"/><path d="M520.6 18.8L522.0 18.9" stroke="#000" stroke-width="0.80"/><path d="M524.1 19.0L521.4 20.0L521.5 17.7Z"/><path d="M531.8 18.8L533.1 18.9" stroke="#000" stroke-width="0.80"/><path d="M535.2 19.0L532.5 20.0L532.6 17.7Z"/><path d="M542.8 18.8L544.2 18.9" stroke="#000" stroke-width="0.80"/><path d="M546.2 19.0L543.6 20.0L543.7 17.7Z"/><path d="M553.9 18.8L555.3 18.9" stroke="#000" stroke-width="0.80"/><path d="M557.4 19.0L554.7 20.0L554.8 17.7Z"/><path d="M565.0 18.8L566.4 18.9" stroke="#000" stroke-width="0.80"/><path d="M568.5 19.0L565.8 20.0L565.9 17.7Z"/><path d="M576.1 18.8L577.5 18.9" stroke="#000" stroke-width="0.80"/><path d="M579.6 19.0L576.9 20.0L577.0 17.7Z"/><path d="M587.2 18.8L588.6 18.9" stroke="#000" stroke-width="0.80"/><path d="M590.7 19.0L588.0 20.0L588.1 17.7Z"/><path d="M598.3 18.8L599.7 18.9" stroke="#000" stroke-width="0.80"/><path d="M601.8 19.0L599.1 20.0L599.2 17.7Z"/><path d="M609.4 18.8L610.8 18.9" stroke="#000" stroke-width="0.80"/><path d="M612.9 19.0L610.2 20.0L610.3 17.7Z"/><path d="M620.5 18.8L621.9 18.9" stroke="#000" stroke-width="0.80"/><path d="M624.0 19.0L621.3 20.0L621.4 17.7Z"/><path d="M631.6 18.8L633.0 18.9" stroke="#000" stroke-width="0.80"/><path d="M635.1 19.0L632.4 20.0L632.5 17.7Z"/><path d="M380.9 28.2L382.3 28.3" stroke="#000" stroke-width="0.80"/><path d="M384.3 28.4L381.7 29.4L381.8 27.1Z"/><path d="M392.1 28.2L393.4 28.3" stroke="#000" stroke-width="0.80"/><path d="M395.4 28.4L392.8 29.4L392.9 27.1Z"/><path d="M403.1 28.2L404.5 28.3" stroke="#000" stroke-width="0.80"/><path d="M406.5 28.4L403.9 29.4L404.0 27.1Z"/><path d="M414.2 28.2L415.6 28.3" stroke="#000" stroke-width="0.80"/><path d="M417.6 28.4L415.0 29.4L415.1 27.1Z"/><path d="M425.3 28.2L426.7 28.3" stroke="#000" stroke-width="0.80"/><path d="M428.7 28.4L426.1 29.4L426.2 27.1Z"/><path d="M436.4 28.2L437.8 28.3" stroke="#000" stroke-width="0.80"/><path d="M439.8 28.4L437.2 29.4L437.3 27.1Z"/><path d="M447.6 28.2L448.9 28.3" stroke="#000" stroke-width="0.80"/><path d="M450.9 28.4L448.3 29.4L448.4 27.1Z"/><path d="M458.6 28.2L460.0 28.3" stroke="#000" stroke-width="0.80"/><path d="M462.0 28.4L459.4 29.4L459.5 27.1Z"/><path d="M469.8 28.2L471.1 28.3" stroke="#000" stroke-width="0.80"/><path d="M473.1 28.4L470.5 29.4L470.6 27.1Z"/><path d="M480.8 28.2L482.2 28.3" stroke="#000" stroke-width="0.80"/><path d="M484.2 28.4L481.6 29.4L481.7 27.1Z"/><path d="M491.9 28.2L493.3 28.3" stroke="#000" stroke-width="0.80"/><path d="M495.3 28.4L492.7 29.4L492.8 27.1Z"/><path d="M503.1 28.2L504.4 28.3" stroke="#000" stroke-width="0.80"/><path d="M506.4 28.4L503.8 29.4L503.9 27.1Z"/><path d="M514.1 28.2L515.5 28.3" stroke="#000" stroke-width="0.80"/><path d="M517.5 28.4L514.9 29.4L515.0 27.1Z"/><path d="M525.2 28.2L526.6 28.3" stroke="#000" stroke-width="0.80"/><path d="M528.6 28.4L526.0 29.4L526.1 27.1Z"/><path d="M535.5 28.3L536.9 28.3" stroke="#000" stroke-width="1.07"/><path d="M540.5 28.3L536.4 30.1L536.4 26.6Z"/><path d="M545.6 28.3L548.4 28.3" stroke="#000" stroke-width="1.21"/><path d="M552.6 28.3L547.9 30.3L547.9 26.4Z"/><path d="M555.8 28.1L559.9 28.3" stroke="#000" stroke-width="1.34"/><path d="M564.8 28.5L559.3 30.5L559.5 26.1Z"/><path d="M566.3 28.1L571.3 28.3" stroke="#000" stroke-width="1.40"/><path d="M576.3 28.5L570.7 30.6L570.8 26.0Z"/><path d="M579.4 28.3L581.5 28.3" stroke="#000" stroke-width="1.14"/><path d="M585.4 28.3L581.0 30.2L581.0 26.5Z"/><path d="M591.0 28.3L592.4 28.3" stroke="#000" stroke-width="1.07"/><path d="M596.0 28.3L591.9 30.1L591.9 26.6Z"/><path d="M601.1 28.1L603.9 28.3" stroke="#000" stroke-width="1.21"/><path d="M608.1 28.5L603.3 30.2L603.5 26.3Z"/><path d="M613.5 28.3L615.9 28.3" stroke="#000" stroke-width="0.80"/><path d="M618.0 28.3L615.4 29.5L615.4 27.2Z"/><path d="M624.8 28.3L626.7 28.3" stroke="#000" stroke-width="0.80"/><path d="M628.8 28.3L626.2 29.5L626.2 27.2Z"/><path d="M376.4 37.7L377.7 37.8" stroke="#000" stroke-width="0.80"/><path d="M379.8 37.9L377.1 38.9L377.2 36.6Z"/><path d="M387.5 37.7L388.8 37.8" stroke="#000" stroke-width="0.80"/><path d="M390.9 37.9L388.2 38.9L388.3 36.6Z"/><path d="M398.6 37.7L399.9 37.8" stroke="#000" stroke-width="0.80"/><path d="M401.9 37.9L399.3 38.9L399.4 36.6Z"/><path d="M409.7 37.7L411.0 37.8" stroke="#000" stroke-width="0.80"/><path d="M413.1 37.9L410.4 38.9L410.5 36.6Z"/><path d="M420.8 37.7L422.1 37.8" stroke="#000" stroke-width="0.80"/><path d="M424.1 37.9L421.5 38.9L421.6 36.6Z"/><path d="M431.9 37.7L433.2 37.8" stroke="#000" stroke-width="0.80"/><path d="M435.2 37.9L432.6 38.9L432.7 36.6Z"/><path d="M442.9 37.7L444.3 37.8" stroke="#000" stroke-width="0.80"/><path d="M446.3 37.9L443.7 38.9L443.8 36.6Z"/><path d="M454.1 37.7L455.4 37.8" stroke="#000" stroke-width="0.80"/><path d="M457.4 37.9L454.8 38.9L454.9 36.6Z"/><path d="M465.2 37.7L466.5 37.8" stroke="#000" stroke-width="0.80"/><path d="M468.6 37.9L465.9 38.9L466.0 36.6Z"/><path d="M475.9 37.6L477.9 37.8" stroke="#000" stroke-width="0.80"/><path d="M479.9 37.9L477.3 38.9L477.4 36.6Z"/><path d="M575.4 37.5L576.7 37.7" stroke="#000" stroke-width="1.08"/><path d="M580.4 38.0L576.0 39.3L576.4 35.9Z"/><path d="M587.0 37.8L588.9 37.8" stroke="#000" stroke-width="0.80"/><path d="M591.0 37.8L588.4 38.9L588.4 36.6Z"/><path d="M597.0 37.6L599.1 37.8" stroke="#000" stroke-width="1.14"/><path d="M603.0 37.9L598.5 39.5L598.7 35.9Z"/><path d="M607.1 37.8L610.6 37.8" stroke="#000" stroke-width="1.27"/><path d="M615.1 37.8L610.1 39.9L610.1 35.7Z"/><path d="M620.2 37.8L622.1 37.8" stroke="#000" stroke-width="0.80"/><path d="M624.2 37.8L621.6 38.9L621.6 36.6Z"/><path d="M631.6 37.7L633.0 37.8" stroke="#000" stroke-width="0.80"/><path d="M635.1 37.9L632.4 38.9L632.5 36.6Z"/><path d="M389.8 47.8L393.2 47.3" stroke="#000" stroke-width="1.27"/><path d="M397.8 46.8L393.0 49.4L392.5 45.3Z"/><path d="M399.6 47.6L404.8 47.3" stroke="#000" stroke-width="1.43"/><path d="M410.0 46.9L404.5 49.6L404.2 44.9Z"/><path d="M412.4 47.2L415.2 47.2" stroke="#000" stroke-width="1.21"/><path d="M419.4 47.2L414.7 49.2L414.7 45.3Z"/><path d="M425.4 47.0L426.6 47.2" stroke="#000" stroke-width="0.80"/><path d="M428.7 47.5L425.9 48.2L426.3 46.0Z"/><path d="M436.5 47.0L437.7 47.2" stroke="#000" stroke-width="0.80"/><path d="M439.8 47.5L437.0 48.2L437.4 46.0Z"/><path d="M447.6 47.0L448.8 47.2" stroke="#000" stroke-width="0.80"/><path d="M450.9 47.5L448.1 48.2L448.5 46.0Z"/><path d="M457.8 47.1L459.2 47.2" stroke="#000" stroke-width="1.08"/><path d="M462.8 47.4L458.6 48.9L458.8 45.5Z"/><path d="M477.8 45.1L482.5 47.2" stroke="#000" stroke-width="1.42"/><path d="M487.2 49.4L481.1 49.2L483.0 44.9Z"/><path d="M580.4 47.8L582.4 47.3" stroke="#000" stroke-width="0.80"/><path d="M584.4 46.8L582.2 48.5L581.6 46.3Z"/><path d="M598.0 46.5L593.8 47.2" stroke="#000" stroke-width="1.34"/><path d="M589.0 48.0L594.0 45.0L594.7 49.3Z"/><path d="M606.6 47.2L604.8 47.2" stroke="#000" stroke-width="0.80"/><path d="M602.6 47.2L605.2 46.1L605.2 48.4Z"/><path d="M614.5 47.0L614.9 47.1" stroke="#000" stroke-width="0.60"/><path d="M617.0 47.5L614.3 48.2L614.6 45.9Z"/><path d="M625.5 47.0L626.0 47.1" stroke="#000" stroke-width="0.60"/><path d="M628.1 47.5L625.4 48.2L625.7 45.9Z"/><path d="M636.6 47.0L637.1 47.1" stroke="#000" stroke-width="0.60"/><path d="M639.2 47.5L636.5 48.2L636.8 45.9Z"/><path d="M647.8 47.0L648.2 47.1" stroke="#000" stroke-width="0.60"/><path d="M650.3 47.5L647.6 48.2L647.9 45.9Z"/><path d="M373.6 57.7L377.8 56.8" stroke="#000" stroke-width="1.35"/><path d="M382.6 55.7L377.8 59.0L376.8 54.7Z"/><path d="M385.0 57.9L388.8 56.8" stroke="#000" stroke-width="1.32"/><path d="M393.4 55.4L388.9 59.0L387.7 54.9Z"/><path d="M396.6 57.2L399.6 56.8" stroke="#000" stroke-width="1.23"/><path d="M403.9 56.2L399.4 58.8L398.8 54.9Z"/><path d="M406.9 56.7L411.0 56.7" stroke="#000" stroke-width="1.33"/><path d="M415.9 56.7L410.5 58.9L410.5 54.5Z"/><path d="M420.8 56.4L422.0 56.6" stroke="#000" stroke-width="0.80"/><path d="M424.1 57.0L421.3 57.7L421.7 55.4Z"/><path d="M431.9 56.4L433.1 56.6" stroke="#000" stroke-width="0.80"/><path d="M435.2 57.0L432.4 57.7L432.8 55.4Z"/><path d="M443.0 56.4L444.2 56.6" stroke="#000" stroke-width="0.80"/><path d="M446.3 57.0L443.5 57.7L443.9 55.4Z"/><path d="M453.2 57.4L454.7 57.0" stroke="#000" stroke-width="1.09"/><path d="M458.2 55.9L454.7 58.8L453.7 55.5Z"/><path d="M463.9 57.4L466.0 56.9" stroke="#000" stroke-width="1.15"/><path d="M469.9 55.9L465.9 58.8L465.0 55.3Z"/><path d="M474.8 55.2L477.3 56.4" stroke="#000" stroke-width="1.20"/><path d="M481.1 58.2L476.0 57.9L477.7 54.4Z"/><path d="M484.4 54.6L489.0 56.7" stroke="#000" stroke-width="1.42"/><path d="M493.8 58.8L487.6 58.6L489.5 54.4Z"/><path d="M495.4 54.1L500.2 56.7" stroke="#000" stroke-width="1.45"/><path d="M504.8 59.3L498.6 58.6L500.9 54.4Z"/><path d="M507.1 54.1L511.1 56.6" stroke="#000" stroke-width="1.39"/><path d="M515.5 59.3L509.5 58.3L511.9 54.4Z"/><path d="M519.2 54.1L522.0 56.4" stroke="#000" stroke-width="1.28"/><path d="M525.5 59.3L520.3 57.7L522.9 54.5Z"/><path d="M529.2 53.2L533.5 56.8" stroke="#000" stroke-width="1.46"/><path d="M537.7 60.1L531.6 58.3L534.7 54.6Z"/><path d="M541.9 52.7L544.4 56.5" stroke="#000" stroke-width="1.37"/><path d="M547.1 60.7L542.3 57.3L546.0 54.9Z"/><path d="M575.9 55.4L578.1 56.8" stroke="#000" stroke-width="0.80"/><path d="M579.9 57.9L577.0 57.5L578.3 55.6Z"/><path d="M587.7 56.5L588.1 56.6" stroke="#000" stroke-width="0.60"/><path d="M590.2 56.9L587.5 57.6L587.8 55.4Z"/><path d="M598.8 56.5L599.2 56.6" stroke="#000" stroke-width="0.60"/><path d="M601.3 56.9L598.6 57.6L598.9 55.4Z"/><path d="M609.9 56.5L610.3 56.6" stroke="#000" stroke-width="0.60"/><path d="M612.4 56.9L609.7 57.6L610.0 55.4Z"/><path d="M621.0 56.5L621.4 56.6" stroke="#000" stroke-width="0.60"/><path d="M623.5 56.9L620.8 57.6L621.1 55.4Z"/><path d="M632.1 56.5L632.5 56.6" stroke="#000" stroke-width="0.60"/><path d="M634.6 56.9L631.9 57.6L632.2 55.4Z"/><path d="M643.2 56.5L643.6 56.6" stroke="#000" stroke-width="0.60"/><path d="M645.8 56.9L643.0 57.6L643.3 55.4Z"/><path d="M654.2 56.5L654.7 56.6" stroke="#000" stroke-width="0.60"/><path d="M656.8 56.9L654.1 57.6L654.4 55.4Z"/><path d="M380.1 66.2L381.5 66.2" stroke="#000" stroke-width="1.07"/><path d="M385.1 66.2L381.0 67.9L381.0 64.4Z"/><path d="M392.1 65.9L393.3 66.1" stroke="#000" stroke-width="0.80"/><path d="M395.4 66.5L392.6 67.1L393.0 64.9Z"/><path d="M403.2 65.9L404.4 66.1" stroke="#000" stroke-width="0.80"/><path d="M406.5 66.5L403.7 67.1L404.1 64.9Z"/><path d="M414.3 65.9L415.5 66.1" stroke="#000" stroke-width="0.80"/><path d="M417.6 66.5L414.8 67.1L415.2 64.9Z"/><path d="M425.4 65.9L426.6 66.1" stroke="#000" stroke-width="0.80"/><path d="M428.7 66.5L425.9 67.1L426.3 64.9Z"/><path d="M436.5 65.9L437.7 66.1" stroke="#000" stroke-width="0.80"/><path d="M439.8 66.5L437.0 67.1L437.4 64.9Z"/><path d="M446.9 67.9L448.5 66.7" stroke="#000" stroke-width="1.14"/><path d="M451.6 64.4L449.1 68.5L447.0 65.5Z"/><path d="M458.3 67.2L460.5 66.1" stroke="#000" stroke-width="0.80"/><path d="M462.3 65.2L460.5 67.3L459.5 65.3Z"/><path d="M469.8 65.9L471.0 66.1" stroke="#000" stroke-width="0.80"/><path d="M473.1 66.5L470.3 67.1L470.7 64.9Z"/><path d="M480.9 65.9L482.1 66.1" stroke="#000" stroke-width="0.80"/><path d="M484.2 66.5L481.4 67.1L481.8 64.9Z"/><path d="M492.0 65.9L493.2 66.1" stroke="#000" stroke-width="0.80"/><path d="M495.3 66.5L492.5 67.1L492.9 64.9Z"/><path d="M502.8 64.7L503.8 65.5" stroke="#000" stroke-width="1.07"/><path d="M506.8 67.7L502.4 66.5L504.5 63.8Z"/><path d="M513.6 64.7L515.0 65.6" stroke="#000" stroke-width="1.10"/><path d="M518.1 67.7L513.6 66.7L515.5 63.8Z"/><path d="M524.4 64.7L526.1 65.6" stroke="#000" stroke-width="1.13"/><path d="M529.4 67.7L524.8 66.9L526.6 63.8Z"/><path d="M535.6 64.7L537.2 65.6" stroke="#000" stroke-width="1.12"/><path d="M540.4 67.7L535.8 66.9L537.7 63.8Z"/><path d="M547.0 64.7L548.2 65.5" stroke="#000" stroke-width="1.09"/><path d="M551.2 67.7L546.8 66.6L548.8 63.8Z"/><path d="M558.5 64.8L560.4 66.3" stroke="#000" stroke-width="0.80"/><path d="M562.0 67.6L559.3 66.9L560.7 65.0Z"/><path d="M569.7 65.9L570.9 66.1" stroke="#000" stroke-width="0.80"/><path d="M573.0 66.5L570.2 67.1L570.6 64.9Z"/><path d="M581.1 66.0L581.6 66.0" stroke="#000" stroke-width="0.60"/><path d="M583.7 66.4L581.0 67.1L581.3 64.8Z"/><path d="M592.2 66.0L592.7 66.0" stroke="#000" stroke-width="0.60"/><path d="M594.8 66.4L592.1 67.1L592.4 64.8Z"/><path d="M603.4 66.0L603.8 66.0" stroke="#000" stroke-width="0.60"/><path d="M605.9 66.4L603.2 67.1L603.5 64.8Z"/><path d="M614.5 66.0L614.9 66.0" stroke="#000" stroke-width="0.60"/><path d="M617.0 66.4L614.3 67.1L614.6 64.8Z"/><path d="M625.5 66.0L626.0 66.0" stroke="#000" stroke-width="0.60"/><path d="M628.1 66.4L625.4 67.1L625.7 64.8Z"/><path d="M636.6 66.0L637.1 66.0" stroke="#000" stroke-width="0.60"/><path d="M639.2 66.4L636.5 67.1L636.8 64.8Z"/><path d="M647.8 66.0L648.2 66.0" stroke="#000" stroke-width="0.60"/><path d="M650.3 66.4L647.6 67.1L647.9 64.8Z"/><path d="M377.9 74.3L378.0 74.8" stroke="#000" stroke-width="0.60"/><path d="M378.2 76.9L376.8 74.4L379.0 74.2Z"/><path d="M385.5 74.3L388.6 75.4" stroke="#000" stroke-width="1.25"/><path d="M392.8 76.8L387.5 77.2L388.8 73.3Z"/><path d="M411.6 74.4L411.5 74.9" stroke="#000" stroke-width="0.60"/><path d="M411.2 76.8L410.5 74.2L412.6 74.6Z"/><path d="M422.3 74.3L422.4 74.8" stroke="#000" stroke-width="0.60"/><path d="M422.6 76.9L421.2 74.4L423.4 74.2Z"/><path d="M433.8 74.4L433.7 74.9" stroke="#000" stroke-width="0.60"/><path d="M433.4 76.8L432.7 74.2L434.8 74.6Z"/><path d="M444.5 74.3L444.6 74.8" stroke="#000" stroke-width="0.60"/><path d="M444.8 76.9L443.4 74.4L445.6 74.2Z"/><path d="M455.9 74.4L455.9 74.9" stroke="#000" stroke-width="0.60"/><path d="M455.6 76.8L454.9 74.2L457.0 74.6Z"/><path d="M466.7 74.3L466.8 74.8" stroke="#000" stroke-width="0.60"/><path d="M467.0 76.9L465.6 74.4L467.8 74.2Z"/><path d="M478.1 74.4L478.1 74.9" stroke="#000" stroke-width="0.60"/><path d="M477.8 76.8L477.1 74.2L479.2 74.6Z"/><path d="M488.9 74.3L489.0 74.8" stroke="#000" stroke-width="0.60"/><path d="M489.2 76.9L487.8 74.4L490.0 74.2Z"/><path d="M500.3 74.4L500.3 74.9" stroke="#000" stroke-width="0.60"/><path d="M499.9 76.8L499.3 74.2L501.4 74.6Z"/><path d="M511.1 74.3L511.2 74.8" stroke="#000" stroke-width="0.60"/><path d="M511.4 76.9L510.0 74.4L512.2 74.2Z"/><path d="M522.6 74.4L522.5 74.9" stroke="#000" stroke-width="0.60"/><path d="M522.1 76.8L521.5 74.2L523.6 74.6Z"/><path d="M533.3 74.3L533.4 74.8" stroke="#000" stroke-width="0.60"/><path d="M533.6 76.9L532.2 74.4L534.4 74.2Z"/><path d="M544.8 74.4L544.7 74.9" stroke="#000" stroke-width="0.60"/><path d="M544.3 76.8L543.7 74.2L545.8 74.6Z"/><path d="M554.9 75.0L555.3 75.3" stroke="#555" stroke-width="0.60"/><path d="M556.4 76.2L554.4 75.6L555.5 74.4Z" fill="#555"/><path d="M566.0 75.0L566.4 75.3" stroke="#555" stroke-width="0.60"/><path d="M567.5 76.2L565.5 75.6L566.6 74.4Z" fill="#555"/><path d="M577.1 75.0L577.5 75.3" stroke="#555" stroke-width="0.60"/><path d="M578.6 76.2L576.6 75.6L577.7 74.4Z" fill="#555"/><path d="M588.2 75.0L588.6 75.3" stroke="#555" stroke-width="0.60"/><path d="M589.7 76.2L587.7 75.6L588.8 74.4Z" fill="#555"/><path d="M599.3 75.0L599.7 75.3" stroke="#555" stroke-width="0.60"/><path d="M600.8 76.2L598.8 75.6L599.9 74.4Z" fill="#555"/><path d="M610.4 75.0L610.8 75.3" stroke="#555" stroke-width="0.60"/><path d="M611.9 76.2L609.9 75.6L611.0 74.4Z" fill="#555"/><path d="M621.5 75.0L621.9 75.3" stroke="#555" stroke-width="0.60"/><path d="M623.0 76.2L621.0 75.6L622.1 74.4Z" fill="#555"/><path d="M632.6 75.0L633.0 75.3" stroke="#555" stroke-width="0.60"/><path d="M634.1 76.2L632.1 75.6L633.2 74.4Z" fill="#555"/><path d="M643.8 75.0L644.1 75.3" stroke="#555" stroke-width="0.60"/><path d="M645.2 76.2L643.2 75.6L644.3 74.4Z" fill="#555"/><path d="M654.8 75.0L655.2 75.3" stroke="#555" stroke-width="0.60"/><path d="M656.2 76.2L654.3 75.6L655.4 74.4Z" fill="#555"/><path d="M380.0 83.7L381.8 84.6" stroke="#000" stroke-width="1.13"/><path d="M385.2 86.4L380.5 86.0L382.2 82.8Z"/><path d="M389.8 81.9L393.7 85.0" stroke="#000" stroke-width="1.41"/><path d="M397.8 88.2L391.9 86.5L394.7 82.9Z"/><path d="M415.8 83.7L415.9 84.2" stroke="#000" stroke-width="0.60"/><path d="M416.1 86.3L414.7 83.9L416.9 83.6Z"/><path d="M427.2 83.8L427.2 84.3" stroke="#000" stroke-width="0.60"/><path d="M426.8 86.2L426.2 83.7L428.3 84.0Z"/><path d="M438.0 83.7L438.1 84.2" stroke="#000" stroke-width="0.60"/><path d="M438.3 86.3L436.9 83.9L439.1 83.6Z"/><path d="M449.4 83.8L449.4 84.3" stroke="#000" stroke-width="0.60"/><path d="M449.1 86.2L448.4 83.7L450.5 84.0Z"/><path d="M460.2 83.7L460.3 84.2" stroke="#000" stroke-width="0.60"/><path d="M460.5 86.3L459.1 83.9L461.3 83.6Z"/><path d="M471.6 83.8L471.6 84.3" stroke="#000" stroke-width="0.60"/><path d="M471.2 86.2L470.6 83.7L472.7 84.0Z"/><path d="M482.4 83.7L482.5 84.2" stroke="#000" stroke-width="0.60"/><path d="M482.7 86.3L481.3 83.9L483.5 83.6Z"/><path d="M493.8 83.8L493.8 84.3" stroke="#000" stroke-width="0.60"/><path d="M493.4 86.2L492.8 83.7L494.9 84.0Z"/><path d="M504.2 83.0L504.7 85.0" stroke="#000" stroke-width="0.80"/><path d="M505.2 87.0L503.5 84.8L505.7 84.2Z"/><path d="M515.2 83.0L515.8 85.0" stroke="#000" stroke-width="0.80"/><path d="M516.4 87.0L514.6 84.9L516.8 84.2Z"/><path d="M527.7 83.0L526.9 85.1" stroke="#000" stroke-width="0.80"/><path d="M526.2 87.0L526.0 84.2L528.2 85.0Z"/><path d="M538.2 83.8L538.2 84.3" stroke="#000" stroke-width="0.60"/><path d="M537.8 86.2L537.2 83.7L539.3 84.0Z"/><path d="M549.0 83.7L549.1 84.2" stroke="#000" stroke-width="0.60"/><path d="M549.3 86.3L547.9 83.9L550.1 83.6Z"/><path d="M559.5 84.4L559.9 84.8" stroke="#555" stroke-width="0.60"/><path d="M561.0 85.6L559.0 85.0L560.1 83.9Z" fill="#555"/><path d="M570.6 84.4L571.0 84.8" stroke="#555" stroke-width="0.60"/><path d="M572.0 85.6L570.1 85.0L571.2 83.9Z" fill="#555"/><path d="M581.7 84.4L582.1 84.8" stroke="#555" stroke-width="0.60"/><path d="M583.1 85.6L581.2 85.0L582.3 83.9Z" fill="#555"/><path d="M592.8 84.4L593.2 84.8" stroke="#555" stroke-width="0.60"/><path d="M594.2 85.6L592.3 85.0L593.4 83.9Z" fill="#555"/><path d="M603.9 84.4L604.3 84.8" stroke="#555" stroke-width="0.60"/><path d="M605.4 85.6L603.4 85.0L604.5 83.9Z" fill="#555"/><path d="M615.0 84.4L615.4 84.8" stroke="#555" stroke-width="0.60"/><path d="M616.5 85.6L614.5 85.0L615.6 83.9Z" fill="#555"/><path d="M626.1 84.4L626.5 84.8" stroke="#555" stroke-width="0.60"/><path d="M627.5 85.6L625.6 85.0L626.7 83.9Z" fill="#555"/><path d="M637.2 84.4L637.6 84.8" stroke="#555" stroke-width="0.60"/><path d="M638.6 85.6L636.7 85.0L637.8 83.9Z" fill="#555"/><path d="M648.3 84.4L648.7 84.8" stroke="#555" stroke-width="0.60"/><path d="M649.8 85.6L647.8 85.0L648.9 83.9Z" fill="#555"/><path d="M377.9 93.2L378.0 93.7" stroke="#000" stroke-width="0.60"/><path d="M378.2 95.8L376.8 93.3L379.0 93.1Z"/><path d="M389.4 93.3L389.3 93.8" stroke="#000" stroke-width="0.60"/><path d="M389.0 95.7L388.3 93.1L390.4 93.5Z"/><path d="M400.1 93.2L400.2 93.7" stroke="#000" stroke-width="0.60"/><path d="M400.4 95.8L399.0 93.3L401.2 93.1Z"/><path d="M411.6 93.3L411.5 93.8" stroke="#000" stroke-width="0.60"/><path d="M411.2 95.7L410.5 93.1L412.6 93.5Z"/><path d="M422.3 92.8L422.4 94.1" stroke="#000" stroke-width="0.80"/><path d="M422.6 96.2L421.2 93.7L423.5 93.5Z"/><path d="M433.8 93.3L433.7 93.8" stroke="#000" stroke-width="0.60"/><path d="M433.4 95.7L432.7 93.1L434.8 93.5Z"/><path d="M444.5 93.2L444.6 93.7" stroke="#000" stroke-width="0.60"/><path d="M444.8 95.8L443.4 93.3L445.6 93.1Z"/><path d="M455.9 93.3L455.9 93.8" stroke="#000" stroke-width="0.60"/><path d="M455.6 95.7L454.9 93.1L457.0 93.5Z"/><path d="M466.6 92.8L466.8 94.1" stroke="#000" stroke-width="0.80"/><path d="M467.1 96.2L465.6 93.8L467.9 93.5Z"/><path d="M478.1 93.3L478.1 93.8" stroke="#000" stroke-width="0.60"/><path d="M477.8 95.7L477.1 93.1L479.2 93.5Z"/><path d="M488.9 93.2L489.0 93.7" stroke="#000" stroke-width="0.60"/><path d="M489.2 95.8L487.8 93.3L490.0 93.1Z"/><path d="M499.3 92.7L500.1 94.4" stroke="#000" stroke-width="0.80"/><path d="M500.9 96.3L498.8 94.4L500.9 93.5Z"/><path d="M511.6 92.7L511.3 94.3" stroke="#000" stroke-width="0.80"/><path d="M510.9 96.3L510.3 93.5L512.5 94.0Z"/><path d="M522.6 93.3L522.5 93.8" stroke="#000" stroke-width="0.60"/><path d="M522.1 95.7L521.5 93.1L523.6 93.5Z"/><path d="M533.3 93.2L533.4 93.7" stroke="#000" stroke-width="0.60"/><path d="M533.6 95.8L532.2 93.3L534.4 93.1Z"/><path d="M544.8 93.3L544.7 93.8" stroke="#000" stroke-width="0.60"/><path d="M544.3 95.7L543.7 93.1L545.8 93.5Z"/><path d="M555.1 94.1L555.3 94.2" stroke="#999" stroke-width="0.60"/><path d="M556.1 94.9L554.5 94.4L555.3 93.4Z" fill="#999"/><path d="M566.2 94.1L566.4 94.2" stroke="#999" stroke-width="0.60"/><path d="M567.2 94.9L565.6 94.4L566.4 93.4Z" fill="#999"/><path d="M577.4 94.1L577.5 94.2" stroke="#999" stroke-width="0.60"/><path d="M578.4 94.9L576.7 94.4L577.5 93.4Z" fill="#999"/><path d="M588.5 94.1L588.6 94.2" stroke="#999" stroke-width="0.60"/><path d="M589.5 94.9L587.8 94.4L588.6 93.4Z" fill="#999"/><path d="M597.1 95.5L599.2 94.8" stroke="#000" stroke-width="1.15"/><path d="M602.9 93.5L599.3 96.7L598.1 93.2Z"/><path d="M610.6 94.1L610.8 94.2" stroke="#999" stroke-width="0.60"/><path d="M611.6 94.9L610.0 94.4L610.8 93.4Z" fill="#999"/><path d="M621.8 94.1L621.9 94.2" stroke="#999" stroke-width="0.60"/><path d="M622.8 94.9L621.1 94.4L621.9 93.4Z" fill="#999"/><path d="M632.9 94.1L633.0 94.2" stroke="#999" stroke-width="0.60"/><path d="M633.9 94.9L632.2 94.4L633.0 93.4Z" fill="#999"/><path d="M644.0 94.1L644.1 94.2" stroke="#999" stroke-width="0.60"/><path d="M645.0 94.9L643.3 94.4L644.1 93.4Z" fill="#999"/><path d="M655.0 94.1L655.2 94.2" stroke="#999" stroke-width="0.60"/><path d="M656.0 94.9L654.4 94.4L655.2 93.4Z" fill="#999"/><path d="M382.8 102.7L382.8 103.2" stroke="#000" stroke-width="0.60"/><path d="M382.4 105.1L381.8 102.6L383.9 102.9Z"/><path d="M393.6 102.6L393.7 103.1" stroke="#000" stroke-width="0.60"/><path d="M393.9 105.2L392.5 102.8L394.7 102.5Z"/><path d="M405.0 102.7L405.0 103.2" stroke="#000" stroke-width="0.60"/><path d="M404.6 105.1L404.0 102.6L406.1 102.9Z"/><path d="M415.8 102.6L415.9 103.1" stroke="#000" stroke-width="0.60"/><path d="M416.1 105.2L414.7 102.8L416.9 102.5Z"/><path d="M427.2 102.7L427.2 103.2" stroke="#000" stroke-width="0.60"/><path d="M426.8 105.1L426.2 102.6L428.3 102.9Z"/><path d="M440.2 106.5L438.7 104.6" stroke="#000" stroke-width="1.18"/><path d="M436.0 101.3L440.4 103.8L437.5 106.2Z"/><path d="M449.9 100.5L449.4 103.2" stroke="#000" stroke-width="1.20"/><path d="M448.6 107.3L447.6 102.4L451.4 103.1Z"/><path d="M460.2 100.5L460.3 103.2" stroke="#000" stroke-width="1.19"/><path d="M460.5 107.3L458.4 102.8L462.2 102.6Z"/><path d="M471.6 102.7L471.6 103.2" stroke="#000" stroke-width="0.60"/><path d="M471.2 105.1L470.6 102.6L472.7 102.9Z"/><path d="M482.4 102.6L482.5 103.1" stroke="#000" stroke-width="0.60"/><path d="M482.7 105.2L481.3 102.8L483.5 102.5Z"/><path d="M493.8 102.7L493.8 103.2" stroke="#000" stroke-width="0.60"/><path d="M493.4 105.1L492.8 102.6L494.9 102.9Z"/><path d="M503.9 99.2L504.7 103.8" stroke="#000" stroke-width="1.37"/><path d="M505.6 108.6L502.4 103.7L506.8 102.9Z"/><path d="M526.8 102.6L526.9 103.1" stroke="#000" stroke-width="0.60"/><path d="M527.1 105.2L525.7 102.8L527.9 102.5Z"/><path d="M538.2 102.7L538.2 103.2" stroke="#000" stroke-width="0.60"/><path d="M537.8 105.1L537.2 102.6L539.3 102.9Z"/><path d="M549.0 102.6L549.1 103.1" stroke="#000" stroke-width="0.60"/><path d="M549.3 105.2L547.9 102.8L550.1 102.5Z"/><path d="M559.8 103.5L559.9 103.7" stroke="#999" stroke-width="0.60"/><path d="M560.8 104.3L559.1 103.9L559.9 102.8Z" fill="#999"/><path d="M570.8 103.5L571.0 103.7" stroke="#999" stroke-width="0.60"/><path d="M571.8 104.3L570.2 103.9L571.0 102.8Z" fill="#999"/><path d="M581.9 103.5L582.1 103.7" stroke="#999" stroke-width="0.60"/><path d="M582.9 104.3L581.3 103.9L582.1 102.8Z" fill="#999"/><path d="M593.5 106.7L593.5 105.0" stroke="#000" stroke-width="1.11"/><path d="M593.5 101.1L595.3 105.5L591.8 105.5Z"/><path d="M604.1 103.5L604.3 103.7" stroke="#999" stroke-width="0.60"/><path d="M605.1 104.3L603.5 103.9L604.3 102.8Z" fill="#999"/><path d="M615.2 103.5L615.4 103.7" stroke="#999" stroke-width="0.60"/><path d="M616.2 104.3L614.6 103.9L615.4 102.8Z" fill="#999"/><path d="M626.3 103.5L626.5 103.7" stroke="#999" stroke-width="0.60"/><path d="M627.3 104.3L625.7 103.9L626.5 102.8Z" fill="#999"/><path d="M637.4 103.5L637.6 103.7" stroke="#999" stroke-width="0.60"/><path d="M638.4 104.3L636.8 103.9L637.6 102.8Z" fill="#999"/><path d="M648.5 103.5L648.7 103.7" stroke="#999" stroke-width="0.60"/><path d="M649.5 104.3L647.9 103.9L648.7 102.8Z" fill="#999"/><path d="M377.9 112.1L378.0 112.6" stroke="#000" stroke-width="0.60"/><path d="M378.2 114.7L376.8 112.2L379.0 112.0Z"/><path d="M389.4 112.2L389.3 112.7" stroke="#000" stroke-width="0.60"/><path d="M389.0 114.6L388.3 112.0L390.4 112.4Z"/><path d="M400.1 112.1L400.2 112.6" stroke="#000" stroke-width="0.60"/><path d="M400.4 114.7L399.0 112.2L401.2 112.0Z"/><path d="M411.6 112.2L411.5 112.7" stroke="#000" stroke-width="0.60"/><path d="M411.2 114.6L410.5 112.0L412.6 112.4Z"/><path d="M422.3 112.1L422.4 112.6" stroke="#000" stroke-width="0.60"/><path d="M422.6 114.7L421.2 112.2L423.4 112.0Z"/><path d="M433.8 112.2L433.7 112.7" stroke="#000" stroke-width="0.60"/><path d="M433.4 114.6L432.7 112.0L434.8 112.4Z"/><path d="M444.5 112.1L444.6 112.6" stroke="#000" stroke-width="0.60"/><path d="M444.8 114.7L443.4 112.2L445.6 112.0Z"/><path d="M455.9 112.2L455.9 112.7" stroke="#000" stroke-width="0.60"/><path d="M455.6 114.6L454.9 112.0L457.0 112.4Z"/><path d="M466.7 112.1L466.8 112.6" stroke="#000" stroke-width="0.60"/><path d="M467.0 114.7L465.6 112.2L467.8 112.0Z"/><path d="M478.1 112.2L478.1 112.7" stroke="#000" stroke-width="0.60"/><path d="M477.8 114.6L477.1 112.0L479.2 112.4Z"/><path d="M488.9 112.1L489.0 112.6" stroke="#000" stroke-width="0.60"/><path d="M489.2 114.7L487.8 112.2L490.0 112.0Z"/><path d="M500.3 112.2L500.3 112.7" stroke="#000" stroke-width="0.60"/><path d="M499.9 114.6L499.3 112.0L501.4 112.4Z"/><path d="M509.6 111.6L511.5 113.6" stroke="#000" stroke-width="0.80"/><path d="M512.9 115.2L510.3 114.0L512.0 112.5Z"/><path d="M522.6 112.2L522.5 112.7" stroke="#000" stroke-width="0.60"/><path d="M522.1 114.6L521.5 112.0L523.6 112.4Z"/><path d="M533.3 112.1L533.4 112.6" stroke="#000" stroke-width="0.60"/><path d="M533.6 114.7L532.2 112.2L534.4 112.0Z"/><path d="M544.8 112.2L544.7 112.7" stroke="#000" stroke-width="0.60"/><path d="M544.3 114.6L543.7 112.0L545.8 112.4Z"/><path d="M555.1 113.0L555.3 113.1" stroke="#999" stroke-width="0.60"/><path d="M556.1 113.8L554.5 113.3L555.3 112.3Z" fill="#999"/><path d="M566.2 113.0L566.4 113.1" stroke="#999" stroke-width="0.60"/><path d="M567.2 113.8L565.6 113.3L566.4 112.3Z" fill="#999"/><path d="M577.4 113.0L577.5 113.1" stroke="#999" stroke-width="0.60"/><path d="M578.4 113.8L576.7 113.3L577.5 112.3Z" fill="#999"/><path d="M591.6 111.0L589.5 112.9" stroke="#000" stroke-width="1.21"/><path d="M586.4 115.8L588.5 111.1L591.2 114.0Z"/><path d="M599.5 113.0L599.7 113.1" stroke="#999" stroke-width="0.60"/><path d="M600.5 113.8L598.9 113.3L599.7 112.3Z" fill="#999"/><path d="M610.6 113.0L610.8 113.1" stroke="#999" stroke-width="0.60"/><path d="M611.6 113.8L610.0 113.3L610.8 112.3Z" fill="#999"/><path d="M621.8 113.0L621.9 113.1" stroke="#999" stroke-width="0.60"/><path d="M622.8 113.8L621.1 113.3L621.9 112.3Z" fill="#999"/><path d="M632.9 113.0L633.0 113.1" stroke="#999" stroke-width="0.60"/><path d="M633.9 113.8L632.2 113.3L633.0 112.3Z" fill="#999"/><path d="M644.0 113.0L644.1 113.1" stroke="#999" stroke-width="0.60"/><path d="M645.0 113.8L643.3 113.3L644.1 112.3Z" fill="#999"/><path d="M655.0 113.0L655.2 113.1" stroke="#999" stroke-width="0.60"/><path d="M656.0 113.8L654.4 113.3L655.2 112.3Z" fill="#999"/><path d="M382.0 122.7L382.2 122.8" stroke="#999" stroke-width="0.60"/><path d="M383.3 123.0L381.6 123.3L381.9 122.0Z" fill="#999"/><path d="M393.1 122.7L393.3 122.8" stroke="#999" stroke-width="0.60"/><path d="M394.4 123.0L392.7 123.3L393.0 122.0Z" fill="#999"/><path d="M404.2 122.7L404.4 122.8" stroke="#999" stroke-width="0.60"/><path d="M405.5 123.0L403.8 123.3L404.1 122.0Z" fill="#999"/><path d="M415.3 122.7L415.5 122.8" stroke="#999" stroke-width="0.60"/><path d="M416.6 123.0L414.9 123.3L415.2 122.0Z" fill="#999"/><path d="M426.4 122.7L426.6 122.8" stroke="#999" stroke-width="0.60"/><path d="M427.7 123.0L426.0 123.3L426.3 122.0Z" fill="#999"/><path d="M437.5 122.7L437.7 122.8" stroke="#999" stroke-width="0.60"/><path d="M438.8 123.0L437.1 123.3L437.4 122.0Z" fill="#999"/><path d="M448.6 122.7L448.8 122.8" stroke="#999" stroke-width="0.60"/><path d="M449.9 123.0L448.2 123.3L448.5 122.0Z" fill="#999"/><path d="M459.7 122.7L459.9 122.8" stroke="#999" stroke-width="0.60"/><path d="M461.0 123.0L459.3 123.3L459.6 122.0Z" fill="#999"/><path d="M470.8 122.7L471.0 122.8" stroke="#999" stroke-width="0.60"/><path d="M472.1 123.0L470.4 123.3L470.7 122.0Z" fill="#999"/><path d="M481.9 122.7L482.1 122.8" stroke="#999" stroke-width="0.60"/><path d="M483.2 123.0L481.5 123.3L481.8 122.0Z" fill="#999"/><path d="M493.0 122.7L493.2 122.8" stroke="#999" stroke-width="0.60"/><path d="M494.3 123.0L492.6 123.3L492.9 122.0Z" fill="#999"/><path d="M504.1 122.7L504.3 122.8" stroke="#999" stroke-width="0.60"/><path d="M505.4 123.0L503.7 123.3L504.0 122.0Z" fill="#999"/><path d="M515.2 122.7L515.4 122.8" stroke="#999" stroke-width="0.60"/><path d="M516.5 123.0L514.8 123.3L515.1 122.0Z" fill="#999"/><path d="M526.1 122.8L526.6 122.8" stroke="#999" stroke-width="0.60"/><path d="M527.7 122.9L526.1 123.4L526.2 122.1Z" fill="#999"/><path d="M537.2 122.8L537.7 122.8" stroke="#999" stroke-width="0.60"/><path d="M538.8 122.9L537.2 123.4L537.3 122.1Z" fill="#999"/><path d="M548.4 122.8L548.8 122.8" stroke="#999" stroke-width="0.60"/><path d="M549.9 122.9L548.3 123.4L548.4 122.1Z" fill="#999"/><path d="M559.5 122.8L559.9 122.8" stroke="#999" stroke-width="0.60"/><path d="M561.0 122.9L559.4 123.4L559.5 122.1Z" fill="#999"/><path d="M570.5 122.8L571.0 122.8" stroke="#999" stroke-width="0.60"/><path d="M572.1 122.9L570.5 123.4L570.6 122.1Z" fill="#999"/><path d="M581.6 122.8L582.1 122.8" stroke="#999" stroke-width="0.60"/><path d="M583.2 122.9L581.6 123.4L581.7 122.1Z" fill="#999"/><path d="M592.8 122.8L593.2 122.8" stroke="#999" stroke-width="0.60"/><path d="M594.3 122.9L592.7 123.4L592.8 122.1Z" fill="#999"/><path d="M603.9 122.8L604.3 122.8" stroke="#999" stroke-width="0.60"/><path d="M605.4 122.9L603.8 123.4L603.9 122.1Z" fill="#999"/><path d="M615.0 122.8L615.4 122.8" stroke="#999" stroke-width="0.60"/><path d="M616.5 122.9L614.9 123.4L615.0 122.1Z" fill="#999"/><path d="M626.0 122.8L626.5 122.8" stroke="#999" stroke-width="0.60"/><path d="M627.6 122.9L626.0 123.4L626.1 122.1Z" fill="#999"/><path d="M637.1 122.8L637.6 122.8" stroke="#999" stroke-width="0.60"/><path d="M638.7 122.9L637.1 123.4L637.2 122.1Z" fill="#999"/><path d="M648.2 122.8L648.7 122.8" stroke="#999" stroke-width="0.60"/><path d="M649.8 122.9L648.2 123.4L648.3 122.1Z" fill="#999"/><path d="M377.4 132.1L377.6 132.2" stroke="#999" stroke-width="0.60"/><path d="M378.7 132.4L377.0 132.8L377.3 131.4Z" fill="#999"/><path d="M388.5 132.1L388.7 132.2" stroke="#999" stroke-width="0.60"/><path d="M389.8 132.4L388.1 132.8L388.4 131.4Z" fill="#999"/><path d="M399.6 132.1L399.8 132.2" stroke="#999" stroke-width="0.60"/><path d="M400.9 132.4L399.2 132.8L399.5 131.4Z" fill="#999"/><path d="M410.7 132.1L410.9 132.2" stroke="#999" stroke-width="0.60"/><path d="M412.0 132.4L410.3 132.8L410.6 131.4Z" fill="#999"/><path d="M421.8 132.1L422.0 132.2" stroke="#999" stroke-width="0.60"/><path d="M423.1 132.4L421.4 132.8L421.7 131.4Z" fill="#999"/><path d="M432.9 132.1L433.1 132.2" stroke="#999" stroke-width="0.60"/><path d="M434.2 132.4L432.5 132.8L432.8 131.4Z" fill="#999"/><path d="M444.0 132.1L444.2 132.2" stroke="#999" stroke-width="0.60"/><path d="M445.3 132.4L443.6 132.8L443.9 131.4Z" fill="#999"/><path d="M455.1 132.1L455.3 132.2" stroke="#999" stroke-width="0.60"/><path d="M456.4 132.4L454.7 132.8L455.0 131.4Z" fill="#999"/><path d="M466.2 132.1L466.4 132.2" stroke="#999" stroke-width="0.60"/><path d="M467.5 132.4L465.8 132.8L466.1 131.4Z" fill="#999"/><path d="M477.3 132.1L477.5 132.2" stroke="#999" stroke-width="0.60"/><path d="M478.6 132.4L476.9 132.8L477.2 131.4Z" fill="#999"/><path d="M488.4 132.1L488.6 132.2" stroke="#999" stroke-width="0.60"/><path d="M489.7 132.4L488.0 132.8L488.3 131.4Z" fill="#999"/><path d="M499.5 132.1L499.7 132.2" stroke="#999" stroke-width="0.60"/><path d="M500.8 132.4L499.1 132.8L499.4 131.4Z" fill="#999"/><path d="M510.6 132.1L510.8 132.2" stroke="#999" stroke-width="0.60"/><path d="M511.9 132.4L510.2 132.8L510.5 131.4Z" fill="#999"/><path d="M521.6 132.2L522.0 132.3" stroke="#999" stroke-width="0.60"/><path d="M523.1 132.4L521.5 132.9L521.6 131.5Z" fill="#999"/><path d="M532.7 132.2L533.1 132.3" stroke="#999" stroke-width="0.60"/><path d="M534.2 132.4L532.6 132.9L532.7 131.5Z" fill="#999"/><path d="M543.8 132.2L544.2 132.3" stroke="#999" stroke-width="0.60"/><path d="M545.3 132.4L543.7 132.9L543.8 131.5Z" fill="#999"/><path d="M554.9 132.2L555.3 132.3" stroke="#999" stroke-width="0.60"/><path d="M556.4 132.4L554.8 132.9L554.9 131.5Z" fill="#999"/><path d="M566.0 132.2L566.4 132.3" stroke="#999" stroke-width="0.60"/><path d="M567.5 132.4L565.9 132.9L566.0 131.5Z" fill="#999"/><path d="M577.1 132.2L577.5 132.3" stroke="#999" stroke-width="0.60"/><path d="M578.6 132.4L577.0 132.9L577.1 131.5Z" fill="#999"/><path d="M588.2 132.2L588.6 132.3" stroke="#999" stroke-width="0.60"/><path d="M589.8 132.4L588.1 132.9L588.2 131.5Z" fill="#999"/><path d="M599.2 132.2L599.7 132.3" stroke="#999" stroke-width="0.60"/><path d="M600.8 132.4L599.2 132.9L599.3 131.5Z" fill="#999"/><path d="M610.4 132.2L610.8 132.3" stroke="#999" stroke-width="0.60"/><path d="M611.9 132.4L610.3 132.9L610.4 131.5Z" fill="#999"/><path d="M624.8 132.3L623.4 132.3" stroke="#000" stroke-width="1.07"/><path d="M619.8 132.3L623.9 130.6L623.9 134.0Z"/><path d="M632.6 132.2L633.0 132.3" stroke="#999" stroke-width="0.60"/><path d="M634.1 132.4L632.5 132.9L632.6 131.5Z" fill="#999"/><path d="M643.7 132.2L644.1 132.3" stroke="#999" stroke-width="0.60"/><path d="M645.2 132.4L643.6 132.9L643.7 131.5Z" fill="#999"/><path d="M654.8 132.2L655.2 132.3" stroke="#999" stroke-width="0.60"/><path d="M656.3 132.4L654.7 132.9L654.8 131.5Z" fill="#999"/><path d="M482.0 38.5L489.3 38.6L489.2 40.6L496.1 37.9L489.4 35.0L489.3 37.0L482.1 36.8Z" stroke="#fff" stroke-width="0.35"/><path d="M492.1 38.5L501.1 38.7L501.1 40.7L508.1 38.0L501.2 35.0L501.2 36.9L492.2 36.7Z" stroke="#fff" stroke-width="0.35"/><path d="M502.7 38.5L512.7 38.8L512.7 40.7L519.8 38.0L512.8 35.0L512.8 36.9L502.8 36.6Z" stroke="#fff" stroke-width="0.35"/><path d="M513.3 38.5L524.3 38.8L524.3 40.7L531.4 38.0L524.4 35.0L524.4 36.9L513.4 36.6Z" stroke="#fff" stroke-width="0.35"/><path d="M523.9 38.0L535.9 39.0L535.7 40.9L543.0 38.5L536.2 35.1L536.0 37.0L524.0 36.1Z" stroke="#fff" stroke-width="0.35"/><path d="M533.4 37.4L548.5 39.4L548.2 41.2L555.5 39.3L549.0 35.5L548.8 37.3L533.7 35.2Z" stroke="#fff" stroke-width="0.35"/><path d="M541.5 36.9L562.6 39.9L562.3 41.7L569.6 39.8L563.1 36.0L562.9 37.7L541.8 34.7Z" stroke="#fff" stroke-width="0.35"/><path d="M555.6 37.1L570.7 39.5L570.4 41.3L577.8 39.5L571.3 35.6L571.0 37.4L555.9 35.0Z" stroke="#fff" stroke-width="0.35"/><path d="M377.3 49.0L382.4 48.0L382.7 49.7L388.1 46.2L381.9 44.9L382.2 46.6L377.0 47.5Z" stroke="#fff" stroke-width="0.35"/><path d="M465.4 45.6L471.1 47.9L470.4 49.6L477.2 49.6L472.4 44.8L471.7 46.5L466.0 44.1Z" stroke="#fff" stroke-width="0.35"/><path d="M486.3 47.2L493.9 48.1L493.7 50.1L500.9 48.1L494.4 44.5L494.1 46.4L486.4 45.6Z" stroke="#fff" stroke-width="0.35"/><path d="M495.7 47.7L506.7 48.3L506.6 50.2L513.8 47.8L506.9 44.5L506.8 46.4L495.8 45.8Z" stroke="#fff" stroke-width="0.35"/><path d="M506.3 47.7L518.3 48.4L518.2 50.2L525.3 47.8L518.5 44.5L518.4 46.4L506.4 45.8Z" stroke="#fff" stroke-width="0.35"/><path d="M517.4 47.7L529.4 48.4L529.3 50.2L536.4 47.8L529.6 44.5L529.5 46.4L517.5 45.8Z" stroke="#fff" stroke-width="0.35"/><path d="M526.9 47.1L542.0 48.8L541.8 50.6L549.0 48.5L542.4 44.9L542.2 46.6L527.2 44.9Z" stroke="#fff" stroke-width="0.35"/><path d="M536.0 46.6L555.1 49.2L554.8 50.9L562.1 49.0L555.6 45.2L555.4 47.0L536.3 44.4Z" stroke="#fff" stroke-width="0.35"/><path d="M546.1 46.3L567.2 49.3L566.9 51.1L574.2 49.2L567.7 45.4L567.5 47.2L546.4 44.2Z" stroke="#fff" stroke-width="0.35"/><path d="M565.3 47.3L571.1 48.0L570.9 49.8L577.3 48.0L571.5 44.7L571.3 46.5L565.4 45.7Z" stroke="#fff" stroke-width="0.35"/><path d="M546.9 54.1L557.2 58.4L556.4 60.1L564.0 60.1L558.6 54.8L557.9 56.6L547.7 52.4Z" stroke="#fff" stroke-width="0.35"/><path d="M560.9 54.6L566.3 57.3L565.5 58.9L572.2 59.5L567.8 54.4L567.0 56.0L561.7 53.2Z" stroke="#fff" stroke-width="0.35"/><path d="M393.8 74.8L400.1 76.4L399.6 78.2L406.5 77.1L400.9 73.0L400.4 74.8L394.2 73.3Z" stroke="#fff" stroke-width="0.35"/><path d="M398.9 81.5L404.5 85.8L403.3 87.3L410.3 89.2L406.7 83.0L405.5 84.5L399.9 80.2Z" stroke="#fff" stroke-width="0.35"/><path d="M508.3 107.4L517.3 104.4L517.9 106.3L523.6 101.3L516.1 100.8L516.7 102.7L507.8 105.7Z" stroke="#fff" stroke-width="0.35"/>
<path d="M501.6 73.3C500.6 73.2 496.8 73.0 495.4 73.3C493.9 73.5 493.7 74.3 492.9 74.8C492.1 75.3 491.2 75.8 490.4 76.2C489.6 76.7 488.6 77.0 487.9 77.4C487.3 77.9 486.7 78.4 486.5 78.9C486.4 79.5 487.1 80.1 486.9 80.7C486.8 81.3 485.7 81.9 485.5 82.4C485.4 82.9 485.6 83.6 486.1 83.9C486.7 84.2 488.0 84.0 488.9 84.1C489.9 84.2 491.0 84.4 491.9 84.7C492.8 85.0 493.6 85.5 494.4 86.1C495.2 86.7 496.0 87.5 496.9 88.3C497.8 89.0 498.7 89.8 499.8 90.5C501.0 91.3 502.5 92.2 503.8 92.9C505.1 93.6 506.5 94.3 507.8 94.8C509.1 95.3 510.3 95.7 511.8 96.0C513.3 96.3 515.2 96.4 516.7 96.4C518.3 96.4 520.0 96.1 521.2 95.8C522.4 95.5 522.9 94.9 523.7 94.5C524.4 94.2 525.0 93.6 525.7 93.6C526.3 93.6 526.9 94.0 527.7 94.4C528.4 94.8 529.2 95.5 530.1 95.9C531.0 96.3 532.2 96.8 533.1 96.9C534.0 97.0 534.9 96.8 535.6 96.3C536.3 95.8 536.9 94.8 537.4 94.0C537.8 93.2 538.0 92.3 538.4 91.4C538.8 90.6 539.6 89.7 539.8 88.9C539.9 88.0 539.7 87.2 539.4 86.4C539.0 85.6 538.0 84.7 537.6 83.9C537.2 83.1 537.4 82.2 536.8 81.4C536.2 80.7 535.1 79.9 534.1 79.3C533.2 78.7 532.2 78.0 531.1 77.7C530.1 77.5 528.7 77.4 527.7 77.6C526.6 77.8 525.5 78.3 525.1 78.9C524.6 79.5 525.5 80.9 525.1 81.3C524.6 81.7 523.0 81.8 522.3 81.4C521.6 81.1 521.5 79.7 520.9 79.2C520.3 78.8 519.7 78.6 518.7 78.6C517.7 78.6 516.2 78.9 514.7 79.2C513.3 79.6 511.4 80.3 509.8 80.7C508.1 81.2 506.5 81.7 504.8 81.9C503.2 82.1 501.2 82.0 499.8 81.7C498.5 81.4 497.4 80.9 496.6 80.3C495.7 79.7 495.0 78.7 494.7 77.9C494.3 77.2 494.3 76.4 494.5 75.8C494.7 75.1 494.7 74.3 495.9 74.0C497.1 73.6 500.7 73.8 501.6 73.7C502.6 73.6 502.7 73.3 501.6 73.3Z" fill="none" stroke="#A020F0" stroke-width="1.75" stroke-linejoin="round"/>
<ellipse cx="481.3" cy="85.9" rx="2.0" ry="1.1" fill="#A020F0"/>
</g>
<path d="M375.20 140.40v7.5M391.05 140.40v3.4M406.90 140.40v3.4M422.75 140.40v7.5M438.60 140.40v3.4M454.45 140.40v3.4M470.30 140.40v7.5M486.15 140.40v3.4M502.00 140.40v3.4M517.85 140.40v7.5M533.70 140.40v3.4M549.55 140.40v3.4M565.40 140.40v7.5M581.25 140.40v3.4M597.10 140.40v3.4M612.95 140.40v7.5M628.80 140.40v3.4M644.65 140.40v3.4M660.50 140.40v7.5M375.20 140.40h-7.5M375.20 124.58h-3.7M375.20 108.75h-7.5M375.20 92.92h-3.7M375.20 77.10h-7.5M375.20 61.28h-3.7M375.20 45.45h-7.5M375.20 29.62h-3.7M375.20 13.80h-7.5" stroke="#000" stroke-width="1.1" fill="none"/>
<rect x="375.20" y="13.80" width="285.30" height="126.60" fill="none" stroke="#000" stroke-width="1.3"/>
<text x="364.7" y="18.5" text-anchor="end" font-size="13">80<tspan font-size="6.5" dy="-5.5">o</tspan><tspan dy="5.5">N</tspan></text>
<text x="364.7" y="50.2" text-anchor="end" font-size="13">60<tspan font-size="6.5" dy="-5.5">o</tspan><tspan dy="5.5">N</tspan></text>
<text x="364.7" y="81.8" text-anchor="end" font-size="13">40<tspan font-size="6.5" dy="-5.5">o</tspan><tspan dy="5.5">N</tspan></text>
<text x="364.7" y="113.5" text-anchor="end" font-size="13">20<tspan font-size="6.5" dy="-5.5">o</tspan><tspan dy="5.5">N</tspan></text>
<text x="364.7" y="145.1" text-anchor="end" font-size="13">EQ</text>
<text x="375.2" y="161.7" text-anchor="middle" font-size="13">0<tspan font-size="6.5" dy="-5.5">o</tspan></text>
<text x="422.8" y="161.7" text-anchor="middle" font-size="13">30<tspan font-size="6.5" dy="-5.5">o</tspan><tspan dy="5.5">E</tspan></text>
<text x="470.3" y="161.7" text-anchor="middle" font-size="13">60<tspan font-size="6.5" dy="-5.5">o</tspan><tspan dy="5.5">E</tspan></text>
<text x="517.9" y="161.7" text-anchor="middle" font-size="13">90<tspan font-size="6.5" dy="-5.5">o</tspan><tspan dy="5.5">E</tspan></text>
<text x="565.4" y="161.7" text-anchor="middle" font-size="13">120<tspan font-size="6.5" dy="-5.5">o</tspan><tspan dy="5.5">E</tspan></text>
<text x="613.0" y="161.7" text-anchor="middle" font-size="13">150<tspan font-size="6.5" dy="-5.5">o</tspan><tspan dy="5.5">E</tspan></text>
<text x="660.5" y="161.7" text-anchor="middle" font-size="13">180<tspan font-size="6.5" dy="-5.5">o</tspan></text>
<text x="374.7" y="10.9" font-size="12.4">(b) SF&amp;WAF 550hPa</text>
<clipPath id="clipc"><rect x="38.20" y="229.00" width="285.30" height="126.60"/></clipPath>
<g clip-path="url(#clipc)">
<rect x="36.2" y="227.0" width="289.3" height="130.6" fill="#FEF4CF"/>
<path d="M38.2 317.0C40.5 317.4 47.5 319.0 52.1 319.7C56.8 320.4 61.3 321.1 65.9 321.1C70.6 321.1 75.7 320.5 79.9 319.7C84.1 318.8 87.5 316.9 91.0 315.9C94.4 314.9 97.4 313.9 100.6 313.5C103.9 313.1 106.9 313.2 110.3 313.5C113.8 313.8 117.6 315.0 121.4 315.6C125.2 316.1 130.2 316.8 133.3 317.0C136.4 317.2 137.9 316.9 140.3 316.7C142.6 316.4 144.9 316.2 147.2 315.6C149.5 314.9 151.8 313.7 154.1 312.9C156.4 312.1 158.7 311.1 161.0 310.7C163.4 310.2 165.7 309.9 168.0 310.0C170.3 310.2 172.7 311.0 175.0 311.4C177.3 311.9 179.5 312.6 181.8 312.6C184.1 312.6 186.7 311.4 188.8 311.4C190.9 311.4 192.5 312.3 194.3 312.6C196.2 312.8 198.0 312.6 199.9 312.9C201.7 313.1 202.6 313.8 205.4 314.1C208.2 314.5 212.8 315.2 216.5 314.9C220.3 314.6 224.9 312.6 227.9 312.2C231.0 311.9 232.6 312.9 234.9 313.0C237.2 313.2 239.5 313.3 241.9 313.0C244.2 312.8 246.2 312.1 249.0 311.6C251.8 311.1 255.3 310.5 258.8 310.2C262.3 309.8 267.1 309.6 269.9 309.5C272.7 309.5 274.0 309.4 275.6 309.9C277.3 310.3 278.8 311.1 279.8 312.2C280.7 313.3 280.5 315.2 281.2 316.5C281.9 317.8 282.6 318.9 284.0 320.0C285.4 321.0 287.5 321.9 289.6 322.8C291.7 323.7 294.1 324.8 296.7 325.4C299.3 326.0 302.1 326.2 305.1 326.3C308.2 326.5 311.9 326.1 314.9 326.3C318.0 326.6 322.1 327.5 323.5 327.7L328.5 327.7L328.5 224.0L33.2 224.0L33.2 317.0Z" fill="#FCDD85"/>
<path d="M38.2 301.5C40.5 301.5 47.5 301.2 52.1 301.6C56.8 302.0 62.0 303.4 65.9 303.9C69.8 304.3 72.1 304.8 75.6 304.5C79.1 304.2 83.0 302.9 86.7 302.0C90.4 301.0 94.5 299.8 98.0 298.9C101.4 298.1 104.4 297.5 107.6 296.9C110.8 296.2 114.5 295.0 117.3 295.0C120.1 295.0 121.6 295.9 124.3 296.9C126.9 297.8 130.4 299.8 133.3 300.7C136.2 301.5 139.2 301.9 141.7 302.0C144.2 302.0 146.7 301.8 148.5 301.0C150.4 300.2 151.5 297.9 152.8 296.9C154.1 295.9 155.0 295.5 156.1 294.8C157.3 294.1 158.3 293.2 159.6 292.6C160.9 292.0 162.3 291.9 163.9 291.4C165.5 290.8 167.6 289.9 169.4 289.5C171.3 289.0 173.1 288.7 175.0 288.7C176.8 288.7 178.7 289.0 180.5 289.5C182.4 290.0 184.0 290.8 186.1 291.7C188.2 292.5 191.0 293.5 193.1 294.5C195.1 295.5 197.0 296.5 198.6 297.5C200.2 298.5 200.9 299.7 202.7 300.4C204.6 301.1 206.9 301.3 209.7 301.6C212.5 302.0 216.3 302.2 219.4 302.4C222.4 302.6 224.6 303.0 227.9 302.9C231.2 302.9 235.0 302.3 239.2 302.1C243.4 301.9 248.0 301.7 253.1 301.5C258.3 301.2 264.8 300.9 269.9 300.7C275.1 300.4 279.8 300.1 284.0 300.1C288.3 300.0 292.0 300.1 295.3 300.4C298.6 300.7 300.9 301.1 303.7 301.8C306.5 302.5 309.5 303.6 312.1 304.6C314.7 305.7 317.2 307.1 319.1 308.1C321.0 309.2 322.8 310.4 323.5 310.8L328.5 310.8L328.5 224.0L33.2 224.0L33.2 301.5Z" fill="#FDB442"/>
<path d="M38.2 290.7C40.0 290.9 44.7 291.4 49.3 292.0C53.9 292.6 60.7 294.5 65.9 294.5C71.2 294.5 77.7 292.5 81.0 292.0C84.2 291.5 83.3 292.3 85.4 291.5C87.5 290.7 91.1 288.4 93.7 287.2C96.2 286.1 97.9 285.2 100.6 284.5C103.4 283.9 106.9 283.4 110.3 283.1C113.8 282.8 117.6 282.9 121.4 282.8C125.2 282.7 129.5 282.7 133.3 282.5C137.1 282.3 140.9 281.9 144.4 281.5C147.9 281.2 150.6 280.8 154.1 280.4C157.5 280.1 161.7 279.6 165.2 279.3C168.6 279.1 171.5 279.0 175.0 279.0C178.5 279.1 182.6 279.4 186.1 279.6C189.5 279.9 192.5 280.4 195.7 280.6C199.0 280.8 202.6 281.1 205.4 281.1C208.2 281.0 210.1 280.6 212.4 280.1C214.7 279.6 216.8 278.5 219.4 278.2C222.0 277.9 225.8 277.8 227.9 278.2C230.1 278.6 230.8 279.7 232.2 280.7C233.6 281.8 234.7 283.3 236.3 284.4C237.9 285.4 239.1 286.3 241.9 287.1C244.7 287.9 249.9 288.6 253.1 289.3C256.4 290.0 259.4 290.9 261.5 291.4C263.6 291.8 263.7 291.5 265.8 292.0C267.9 292.4 271.2 293.5 274.2 294.0C277.2 294.5 280.0 294.9 284.0 295.0C288.0 295.1 293.9 294.8 298.1 294.8C302.3 294.9 306.0 295.1 309.2 295.5C312.5 295.8 315.3 296.4 317.6 296.9C320.0 297.4 322.5 298.1 323.5 298.3L328.5 298.3L328.5 224.0L33.2 224.0L33.2 290.7Z" fill="#F98B2B"/>
<path d="M38.2 281.1C39.6 280.8 43.1 280.2 46.6 279.6C50.1 279.1 55.3 277.9 59.0 277.6C62.7 277.3 66.5 277.9 68.8 277.9C71.1 277.9 71.3 278.0 72.9 277.6C74.5 277.2 76.2 275.9 78.5 275.5C80.8 275.2 83.7 275.4 86.7 275.5C89.7 275.7 93.0 276.2 96.5 276.5C100.0 276.7 103.5 276.9 107.6 276.9C111.8 277.0 117.1 277.1 121.4 276.9C125.7 276.8 129.5 276.8 133.3 276.3C137.1 275.8 140.9 274.9 144.4 274.1C147.9 273.3 150.8 272.1 154.1 271.4C157.3 270.7 160.4 270.2 163.9 270.0C167.4 269.7 171.5 269.9 175.0 270.0C178.4 270.1 181.6 270.4 184.7 270.6C187.7 270.9 190.0 271.4 193.1 271.4C196.1 271.4 199.3 270.9 202.7 270.6C206.2 270.3 209.6 269.8 213.8 269.5C218.0 269.2 224.4 268.9 227.9 268.9C231.4 268.9 232.6 269.2 234.9 269.7C237.2 270.1 238.8 271.0 241.9 271.7C244.9 272.4 249.4 273.2 253.1 273.8C256.9 274.4 261.1 274.5 264.4 275.2C267.7 275.9 270.4 276.9 272.8 278.1C275.1 279.2 276.6 280.8 278.5 282.2C280.4 283.6 281.9 285.3 284.0 286.4C286.1 287.6 288.2 288.5 291.0 289.3C293.8 290.1 297.3 290.8 300.8 291.4C304.3 291.9 308.3 291.9 312.1 292.3C315.9 292.7 321.6 293.5 323.5 293.7L328.5 293.7L328.5 224.0L33.2 224.0L33.2 281.1Z" fill="#EE5F29"/>
<path d="M38.2 273.2C40.5 272.5 47.5 270.6 52.1 269.2C56.8 267.8 61.8 265.8 65.9 264.8C70.1 263.7 73.6 263.2 77.0 263.0C80.5 262.8 83.5 263.1 86.7 263.7C90.0 264.2 93.5 265.6 96.5 266.5C99.5 267.4 102.0 268.5 104.8 269.2C107.5 269.9 110.4 270.6 113.2 270.9C115.9 271.3 118.1 271.5 121.4 271.4C124.8 271.4 129.9 271.1 133.3 270.6C136.7 270.1 138.9 269.4 141.7 268.6C144.5 267.7 147.2 266.4 149.9 265.4C152.7 264.4 155.3 263.3 158.3 262.5C161.4 261.8 164.8 261.2 168.0 261.0C171.2 260.8 174.2 260.9 177.7 261.3C181.1 261.6 185.3 262.7 188.8 263.0C192.3 263.4 195.1 263.5 198.6 263.5C202.1 263.5 206.2 263.2 209.7 263.0C213.2 262.8 216.3 262.7 219.4 262.4C222.4 262.1 225.1 261.8 227.9 261.3C230.8 260.7 233.5 260.0 236.3 259.1C239.1 258.1 242.5 256.9 244.7 255.6C246.9 254.3 248.9 252.9 249.6 251.5C250.4 250.1 250.1 248.6 249.0 247.2C247.9 245.8 245.1 244.2 243.3 242.9C241.5 241.6 238.8 240.4 238.4 239.4C237.9 238.5 238.8 237.5 240.6 237.1C242.4 236.6 245.3 236.5 249.0 236.8C252.7 237.0 258.3 238.1 263.0 238.8C267.6 239.5 272.4 240.2 277.1 240.9C281.7 241.6 286.6 242.2 291.0 242.9C295.4 243.6 300.7 244.4 303.7 245.1C306.7 245.9 308.6 246.4 309.1 247.2C309.6 248.0 307.8 249.0 306.5 250.0C305.3 251.1 302.6 252.5 301.6 253.5C300.7 254.6 300.3 255.2 300.8 256.4C301.4 257.5 303.5 259.0 305.1 260.5C306.8 262.0 309.3 263.7 310.7 265.4C312.1 267.1 313.5 269.1 313.5 270.9C313.5 272.8 311.4 275.0 310.7 276.6C309.9 278.3 308.8 279.5 309.2 280.7C309.7 282.0 311.9 283.4 313.5 284.4C315.2 285.3 317.4 286.0 319.1 286.4C320.7 286.9 322.8 287.0 323.5 287.1L328.5 287.1L328.5 224.0L33.2 224.0L33.2 273.2Z" fill="#DA3327"/>
<path d="M35.0 233.9L46.1 231.4L54.1 228.7L35.0 225.8Z" fill="#EE5F29" />
<ellipse cx="265.2" cy="263.0" rx="5.2" ry="2.0" transform="rotate(-42 265.2 263.0)" fill="#F98B2B"/>
<path d="M33.4 249.9C34.5 247.6 36.5 249.8 39.6 249.7C42.7 249.7 48.9 249.9 52.1 249.6C55.4 249.2 56.7 248.2 59.0 247.7C61.3 247.1 62.5 246.7 65.9 246.4C69.4 246.1 75.3 245.9 79.9 245.9C84.5 245.9 89.1 246.3 93.7 246.4C98.3 246.5 103.7 246.3 107.6 246.7C111.6 247.2 114.3 248.1 117.3 249.1C120.3 250.1 123.5 251.4 125.7 252.6C127.9 253.7 129.6 255.0 130.4 256.1C131.3 257.1 131.5 257.9 130.9 258.9C130.3 259.9 128.8 261.4 127.0 262.1C125.2 262.8 122.9 263.1 120.1 263.0C117.4 262.9 113.6 262.5 110.3 261.6C107.1 260.7 103.9 258.8 100.6 257.5C97.4 256.2 94.4 254.9 91.0 254.0C87.5 253.1 84.1 252.4 79.9 251.9C75.7 251.4 69.4 251.1 65.9 251.0C62.5 250.9 60.7 251.0 59.0 251.5C57.2 252.0 56.6 253.0 55.5 254.0C54.3 255.0 53.9 256.3 52.1 257.5C50.4 258.6 47.5 260.0 45.2 261.0C42.8 261.9 40.2 262.6 38.2 263.0C36.2 263.4 34.2 265.5 33.4 263.3C32.7 261.2 32.4 252.2 33.4 249.9Z" fill="#AE1620" />
<path d="M272.8 228.5C274.7 229.7 279.8 230.3 284.0 231.1C288.3 231.8 293.5 232.5 298.1 233.0C302.8 233.4 307.9 233.7 312.1 233.9C316.3 234.1 320.5 234.3 323.5 234.4C326.5 234.5 328.8 236.2 329.8 234.5C330.9 232.9 339.3 226.0 329.8 224.3C320.3 222.5 282.3 223.5 272.8 224.3C263.3 225.0 270.9 227.4 272.8 228.5Z" fill="#AE1620" />
<path d="M164.6 288.5C163.6 288.4 159.8 288.2 158.4 288.5C156.9 288.7 156.7 289.5 155.9 290.0C155.1 290.5 154.2 291.0 153.4 291.4C152.6 291.9 151.6 292.2 150.9 292.6C150.3 293.1 149.7 293.6 149.5 294.1C149.4 294.7 150.1 295.3 149.9 295.9C149.8 296.5 148.7 297.1 148.5 297.6C148.4 298.1 148.6 298.8 149.1 299.1C149.7 299.4 151.0 299.2 151.9 299.3C152.9 299.4 154.0 299.6 154.9 299.9C155.8 300.2 156.6 300.7 157.4 301.3C158.2 301.9 159.0 302.7 159.9 303.5C160.8 304.2 161.7 305.0 162.8 305.7C164.0 306.5 165.5 307.4 166.8 308.1C168.1 308.8 169.5 309.5 170.8 310.0C172.1 310.5 173.3 310.9 174.8 311.2C176.3 311.5 178.2 311.6 179.7 311.6C181.3 311.6 183.0 311.3 184.2 311.0C185.4 310.7 185.9 310.1 186.7 309.7C187.4 309.4 188.0 308.8 188.7 308.8C189.3 308.8 189.9 309.2 190.7 309.6C191.4 310.0 192.2 310.7 193.1 311.1C194.0 311.5 195.2 312.0 196.1 312.1C197.0 312.2 197.9 312.0 198.6 311.5C199.3 311.0 199.9 310.0 200.4 309.2C200.8 308.4 201.0 307.5 201.4 306.6C201.8 305.8 202.6 304.9 202.8 304.1C202.9 303.2 202.7 302.4 202.4 301.6C202.0 300.8 201.0 299.9 200.6 299.1C200.2 298.3 200.4 297.4 199.8 296.6C199.2 295.9 198.1 295.1 197.1 294.5C196.2 293.9 195.2 293.2 194.1 292.9C193.1 292.7 191.7 292.6 190.7 292.8C189.6 293.0 188.5 293.5 188.1 294.1C187.6 294.7 188.5 296.1 188.1 296.5C187.6 296.9 186.0 297.0 185.3 296.6C184.6 296.3 184.5 294.9 183.9 294.4C183.3 294.0 182.7 293.8 181.7 293.8C180.7 293.8 179.2 294.1 177.7 294.4C176.3 294.8 174.4 295.5 172.8 295.9C171.1 296.4 169.5 296.9 167.8 297.1C166.2 297.3 164.2 297.2 162.8 296.9C161.5 296.6 160.4 296.1 159.6 295.5C158.7 294.9 158.0 293.9 157.7 293.1C157.3 292.4 157.3 291.6 157.5 291.0C157.7 290.3 157.7 289.5 158.9 289.2C160.1 288.8 163.7 289.0 164.6 288.9C165.6 288.8 165.7 288.5 164.6 288.5Z" fill="none" stroke="#A020F0" stroke-width="1.75" stroke-linejoin="round"/>
<ellipse cx="144.3" cy="301.1" rx="2.0" ry="1.1" fill="#A020F0"/>
</g>
<path d="M38.20 355.60v7.5M54.05 355.60v3.4M69.90 355.60v3.4M85.75 355.60v7.5M101.60 355.60v3.4M117.45 355.60v3.4M133.30 355.60v7.5M149.15 355.60v3.4M165.00 355.60v3.4M180.85 355.60v7.5M196.70 355.60v3.4M212.55 355.60v3.4M228.40 355.60v7.5M244.25 355.60v3.4M260.10 355.60v3.4M275.95 355.60v7.5M291.80 355.60v3.4M307.65 355.60v3.4M323.50 355.60v7.5M38.20 355.60h-7.5M38.20 339.77h-3.7M38.20 323.95h-7.5M38.20 308.12h-3.7M38.20 292.30h-7.5M38.20 276.48h-3.7M38.20 260.65h-7.5M38.20 244.82h-3.7M38.20 229.00h-7.5" stroke="#000" stroke-width="1.1" fill="none"/>
<rect x="38.20" y="229.00" width="285.30" height="126.60" fill="none" stroke="#000" stroke-width="1.3"/>
<text x="27.7" y="233.7" text-anchor="end" font-size="13">80<tspan font-size="6.5" dy="-5.5">o</tspan><tspan dy="5.5">N</tspan></text>
<text x="27.7" y="265.3" text-anchor="end" font-size="13">60<tspan font-size="6.5" dy="-5.5">o</tspan><tspan dy="5.5">N</tspan></text>
<text x="27.7" y="297.0" text-anchor="end" font-size="13">40<tspan font-size="6.5" dy="-5.5">o</tspan><tspan dy="5.5">N</tspan></text>
<text x="27.7" y="328.6" text-anchor="end" font-size="13">20<tspan font-size="6.5" dy="-5.5">o</tspan><tspan dy="5.5">N</tspan></text>
<text x="27.7" y="360.3" text-anchor="end" font-size="13">EQ</text>
<text x="38.2" y="376.9" text-anchor="middle" font-size="13">0<tspan font-size="6.5" dy="-5.5">o</tspan></text>
<text x="85.8" y="376.9" text-anchor="middle" font-size="13">30<tspan font-size="6.5" dy="-5.5">o</tspan><tspan dy="5.5">E</tspan></text>
<text x="133.3" y="376.9" text-anchor="middle" font-size="13">60<tspan font-size="6.5" dy="-5.5">o</tspan><tspan dy="5.5">E</tspan></text>
<text x="180.9" y="376.9" text-anchor="middle" font-size="13">90<tspan font-size="6.5" dy="-5.5">o</tspan><tspan dy="5.5">E</tspan></text>
<text x="228.4" y="376.9" text-anchor="middle" font-size="13">120<tspan font-size="6.5" dy="-5.5">o</tspan><tspan dy="5.5">E</tspan></text>
<text x="275.9" y="376.9" text-anchor="middle" font-size="13">150<tspan font-size="6.5" dy="-5.5">o</tspan><tspan dy="5.5">E</tspan></text>
<text x="323.5" y="376.9" text-anchor="middle" font-size="13">180<tspan font-size="6.5" dy="-5.5">o</tspan></text>
<text x="37.7" y="226.1" font-size="12.4">(c) ISO intensity 300hPa</text>
<clipPath id="clipd"><rect x="375.20" y="229.00" width="285.30" height="126.60"/></clipPath>
<g clip-path="url(#clipd)">
<path d="M372.9 234.2C374.3 224.5 377.4 231.8 381.3 231.1C385.1 230.4 390.0 230.2 395.9 230.0C401.8 229.9 409.8 229.9 416.8 230.0C423.7 230.1 431.4 230.5 437.6 230.7C443.9 230.8 450.2 230.5 454.3 231.1C458.5 231.7 461.1 232.8 462.7 234.2C464.2 235.6 464.4 237.9 463.7 239.4C463.0 241.0 461.5 242.4 458.5 243.6C455.5 244.8 450.2 245.9 446.0 246.7C441.8 247.6 436.9 248.0 433.5 248.8C430.0 249.7 427.0 250.4 425.1 252.0C423.2 253.5 422.5 255.8 422.0 258.2C421.5 260.7 421.8 263.8 422.0 266.6C422.1 269.4 422.3 272.8 423.0 274.9C423.7 277.0 423.7 278.8 426.1 279.1C428.6 279.5 433.6 277.3 437.6 277.0C441.6 276.7 446.0 277.1 450.2 277.4C454.3 277.8 458.9 278.3 462.7 279.1C466.5 279.9 469.6 281.5 473.1 282.2C476.6 283.0 480.1 283.7 483.6 283.7C487.0 283.7 490.5 283.2 494.0 282.2C497.5 281.3 501.3 279.5 504.4 278.1C507.6 276.7 510.5 275.0 512.8 273.9C515.0 272.8 516.1 272.6 518.0 271.5C519.9 270.4 522.3 268.8 524.2 267.2C526.1 265.6 528.3 263.9 529.5 262.0C530.7 260.1 531.2 257.6 531.5 255.5C531.8 253.4 530.7 251.2 531.0 249.5C531.3 247.8 532.0 246.5 533.5 245.3C535.0 244.1 537.4 243.2 540.0 242.3C542.6 241.4 545.7 240.7 549.3 240.0C552.9 239.3 556.7 238.8 561.8 238.2C566.9 237.6 575.1 236.8 580.0 236.5C584.9 236.2 585.8 236.2 591.1 236.3C596.4 236.5 606.0 236.9 611.9 237.4C617.8 237.9 622.8 238.4 626.6 239.4C630.4 240.4 632.9 241.8 634.9 243.6C636.9 245.4 638.0 247.2 638.5 250.0C639.0 252.8 638.2 257.7 638.0 260.3C637.8 262.9 637.5 263.9 637.0 265.5C636.5 267.1 636.3 269.0 634.9 269.7C633.5 270.4 631.0 270.2 628.6 269.7C626.2 269.2 623.4 267.5 620.3 266.6C617.2 265.7 613.7 265.0 609.9 264.5C606.1 264.0 601.5 263.4 597.3 263.4C593.1 263.4 588.3 264.0 584.8 264.5C581.3 265.0 579.3 265.7 576.5 266.6C573.7 267.5 570.9 268.5 568.1 269.7C565.3 270.9 562.9 272.5 559.8 273.9C556.7 275.3 552.8 276.9 549.3 278.1C545.8 279.3 542.4 280.2 538.9 281.2C535.4 282.2 531.9 283.2 528.4 284.3C524.9 285.4 521.7 286.7 518.0 287.5C514.3 288.3 510.2 288.3 506.3 288.9C502.4 289.5 497.5 290.5 494.6 291.0C491.7 291.5 490.6 291.0 488.8 291.6C486.9 292.3 486.2 294.3 483.6 294.8C480.9 295.2 476.6 294.3 473.1 294.1C469.6 294.0 466.5 293.8 462.7 293.7C458.9 293.6 454.3 293.4 450.2 293.7C446.0 294.0 441.5 294.7 437.6 295.4C433.8 296.1 430.1 297.0 427.2 297.9C424.2 298.8 422.3 299.6 419.9 301.0C417.4 302.4 415.5 304.9 412.6 306.2C409.6 307.6 405.6 308.9 402.1 309.4C398.7 309.9 394.8 309.9 391.7 309.4C388.6 308.9 385.6 307.8 383.4 306.2C381.1 304.7 379.3 302.4 378.1 300.0C376.9 297.5 376.9 293.4 376.0 291.6C375.2 289.9 373.4 299.1 372.9 289.5C372.4 280.0 371.5 244.0 372.9 234.2Z" fill="#FEF0B8" />
<path d="M373.0 229.0C374.4 227.0 380.2 228.2 381.5 229.0C382.8 229.8 381.0 232.4 380.5 234.0C380.0 235.6 379.3 237.4 378.5 238.5C377.7 239.6 376.4 240.1 375.5 240.5C374.6 240.9 373.4 242.9 373.0 241.0C372.6 239.1 371.6 231.0 373.0 229.0Z" fill="#fff" />
<path d="M373.0 276.0C373.8 274.4 376.8 275.8 378.0 276.5C379.2 277.2 380.1 278.8 380.3 280.0C380.5 281.2 379.7 283.0 379.0 284.0C378.3 285.0 377.0 285.5 376.0 285.8C375.0 286.1 373.5 287.6 373.0 286.0C372.5 284.4 372.2 277.6 373.0 276.0Z" fill="#fff" />
<ellipse cx="375.2" cy="279.0" rx="2.2" ry="7.0" fill="#E3F3FB"/>
<path d="M621.3 308.3C621.1 306.2 621.6 302.1 622.0 300.0C622.4 297.9 622.3 297.7 623.4 295.8C624.5 293.9 626.0 290.1 628.6 288.5C631.2 286.9 635.3 286.6 639.1 286.4C642.9 286.1 647.5 286.6 651.6 287.0C655.8 287.4 661.9 282.9 664.0 288.5C666.1 294.1 665.7 315.2 664.0 320.9C662.3 326.6 657.2 322.9 653.7 322.9C650.2 322.9 647.1 321.9 643.3 320.9C639.5 319.9 634.0 318.1 630.7 316.7C627.4 315.3 625.0 313.9 623.4 312.5C621.8 311.1 621.5 310.4 621.3 308.3Z" fill="#FEF0B8" />
<ellipse cx="639.1" cy="296.8" rx="3.8" ry="2.1" fill="#FDD772"/>
<path d="M383.4 249.9C382.8 247.1 381.6 245.7 382.3 243.6C383.0 241.5 384.6 239.0 387.5 237.4C390.5 235.7 395.2 234.5 400.1 233.6C404.9 232.7 411.5 232.3 416.8 232.1C422.0 232.0 427.9 232.2 431.4 232.8C434.8 233.3 436.9 234.1 437.6 235.3C438.3 236.4 437.6 238.2 435.5 239.4C433.5 240.7 428.2 241.4 425.1 242.6C422.0 243.8 418.7 245.2 416.8 246.7C414.8 248.3 413.8 250.1 413.6 252.0C413.4 253.9 414.8 256.0 415.7 258.2C416.6 260.5 418.5 262.9 418.8 265.5C419.2 268.1 418.8 271.8 417.8 273.9C416.8 276.0 414.8 277.2 412.6 278.1C410.3 278.9 407.0 279.5 404.2 279.1C401.4 278.8 398.3 277.7 395.9 276.0C393.4 274.2 391.4 271.3 389.6 268.7C387.9 266.1 386.5 263.4 385.4 260.3C384.4 257.2 383.9 252.7 383.4 249.9Z" fill="#FDD772" />
<path d="M386.5 297.9C386.8 296.2 387.7 293.2 389.6 291.6C391.5 290.1 394.8 289.0 398.0 288.5C401.1 288.0 405.4 287.8 408.4 288.5C411.4 289.2 414.3 290.9 415.7 292.7C417.1 294.4 417.4 297.0 416.8 298.9C416.1 300.9 414.0 302.9 411.5 304.2C409.1 305.4 405.3 306.5 402.1 306.7C399.0 306.8 395.2 306.0 392.7 305.2C390.3 304.4 388.6 303.3 387.5 302.1C386.5 300.9 386.1 299.6 386.5 297.9Z" fill="#FDD772" />
<path d="M437.6 290.6C438.7 289.7 442.8 288.4 446.0 287.9C449.1 287.4 454.3 287.1 456.4 287.5C458.5 287.8 459.6 289.1 458.5 290.0C457.5 290.8 453.3 292.1 450.2 292.7C447.0 293.2 441.8 293.6 439.7 293.3C437.6 293.0 436.6 291.5 437.6 290.6Z" fill="#FDD772" />
<ellipse cx="404.6" cy="266.6" rx="2.8" ry="2.0" fill="#FDAE35"/>
<ellipse cx="402.1" cy="296.2" rx="4.4" ry="2.8" fill="#FDAE35" transform="rotate(-15 402.1 296.2)"/>
<path d="M508.0 280.0C509.8 278.5 512.5 276.4 515.0 274.5C517.5 272.6 520.8 270.5 523.0 268.5C525.2 266.5 527.3 264.7 528.5 262.5C529.7 260.3 529.8 257.7 530.0 255.5C530.2 253.3 529.1 251.0 529.5 249.5C529.9 248.0 530.9 247.4 532.5 246.3C534.1 245.2 536.3 244.1 538.9 243.2C541.5 242.3 544.5 241.5 548.0 240.8C551.5 240.1 554.4 239.5 559.8 239.2C565.2 238.9 573.6 238.8 580.6 239.0C587.6 239.2 595.6 239.6 601.5 240.5C607.4 241.4 612.8 243.1 616.1 244.7C619.4 246.3 620.9 248.2 621.3 249.9C621.6 251.6 620.1 253.7 618.2 255.1C616.3 256.5 613.4 257.3 609.9 258.2C606.4 259.1 601.5 259.8 597.3 260.3C593.1 260.8 588.6 260.9 584.8 261.4C581.0 261.9 577.5 262.4 574.4 263.4C571.3 264.4 569.1 266.0 566.0 267.6C562.9 269.2 559.4 271.2 555.6 272.8C551.8 274.4 547.3 275.7 543.1 277.0C538.9 278.3 534.7 279.6 530.5 280.7C526.3 281.8 521.6 282.8 518.0 283.5C514.4 284.2 511.2 284.8 509.0 284.8C506.8 284.8 504.7 284.3 504.5 283.5C504.3 282.7 506.2 281.5 508.0 280.0Z" fill="#FDD772" />
<path d="M514.0 279.0C514.9 277.7 518.8 275.5 521.0 273.5C523.2 271.5 525.9 269.1 527.5 267.0C529.1 264.9 529.8 263.1 530.5 261.0C531.2 258.9 531.4 256.4 531.5 254.5C531.6 252.6 530.6 251.1 531.0 249.8C531.4 248.5 532.4 247.7 534.0 246.8C535.6 245.9 538.0 245.0 540.5 244.3C543.0 243.6 545.1 242.9 549.0 242.4C552.9 241.9 557.9 241.2 563.9 241.1C569.9 241.0 578.9 241.2 584.8 241.9C590.7 242.6 595.9 244.0 599.4 245.3C602.9 246.6 605.4 248.3 605.7 249.9C606.1 251.5 603.9 253.7 601.5 255.1C599.1 256.5 594.9 257.4 591.1 258.2C587.3 259.0 582.3 259.2 578.5 259.9C574.7 260.6 571.6 261.1 568.1 262.4C564.6 263.7 561.5 265.9 557.7 267.6C553.9 269.3 549.3 271.3 545.1 272.8C540.9 274.3 536.5 275.6 532.6 276.8C528.8 278.0 524.9 279.2 522.0 280.0C519.1 280.8 516.8 281.7 515.5 281.5C514.2 281.3 513.1 280.3 514.0 279.0Z" fill="#FDAE35" />
<path d="M534.5 262.0C534.3 259.7 533.8 256.9 533.6 255.0C533.5 253.1 533.0 251.8 533.6 250.6C534.2 249.3 535.4 248.3 537.0 247.5C538.6 246.7 541.0 246.1 543.5 245.6C546.0 245.1 548.2 244.8 552.0 244.4C555.8 244.0 561.2 243.1 566.0 243.2C570.8 243.2 576.8 243.8 580.6 244.7C584.4 245.6 588.0 247.2 589.0 248.8C590.0 250.4 589.0 252.6 586.9 254.1C584.8 255.6 580.0 256.8 576.5 257.8C573.0 258.8 569.5 259.0 566.0 260.3C562.5 261.6 559.0 263.8 555.6 265.5C552.2 267.2 548.4 269.3 545.5 270.5C542.6 271.7 539.8 272.9 538.0 272.6C536.2 272.4 535.6 270.8 535.0 269.0C534.4 267.2 534.7 264.3 534.5 262.0Z" fill="#F68329" />
<path d="M537.2 258.2C536.9 256.3 536.6 254.4 537.0 253.0C537.4 251.6 538.0 250.4 539.5 249.5C541.0 248.6 543.7 248.2 546.0 247.8C548.3 247.4 549.8 247.2 553.5 247.0C557.2 246.8 564.3 246.2 568.1 246.7C571.9 247.2 575.5 248.5 576.5 249.9C577.5 251.3 576.5 253.5 574.4 255.1C572.3 256.7 567.5 257.8 563.9 259.3C560.3 260.8 556.1 262.8 553.0 264.0C549.9 265.2 547.3 266.4 545.0 266.5C542.7 266.6 540.3 265.9 539.0 264.5C537.7 263.1 537.5 260.1 537.2 258.2Z" fill="#E84F26" />
<path d="M543.5 257.0C543.5 256.1 544.4 254.9 546.0 254.3C547.6 253.7 550.7 253.5 553.0 253.5C555.3 253.5 558.2 253.6 560.0 254.2C561.8 254.8 563.5 256.1 563.5 257.0C563.5 257.9 561.9 259.2 560.0 259.8C558.1 260.4 554.3 260.7 552.0 260.7C549.7 260.7 547.4 260.4 546.0 259.8C544.6 259.2 543.5 257.9 543.5 257.0Z" fill="#D01F27" />
<path d="M446.0 260.3C445.5 258.5 446.3 256.8 448.1 255.1C449.8 253.4 453.3 251.6 456.4 250.3C459.6 249.0 463.0 248.1 466.9 247.4C470.7 246.7 474.9 246.2 479.4 246.1C483.9 246.0 489.8 246.1 494.0 246.7C498.2 247.4 501.5 248.8 504.4 249.9C507.4 250.9 510.1 251.6 511.7 253.0C513.4 254.4 514.6 256.5 514.5 258.2C514.3 260.0 513.1 262.0 510.7 263.4C508.3 264.9 504.1 266.1 500.3 267.0C496.4 267.9 492.3 268.6 487.7 269.1C483.2 269.6 477.6 269.9 473.1 269.9C468.6 269.9 464.2 269.7 460.6 269.1C456.9 268.5 453.6 267.6 451.2 266.2C448.8 264.7 446.5 262.2 446.0 260.3Z" fill="#E3F3FB" />
<path d="M455.4 260.3C456.1 258.6 459.4 255.6 462.7 254.1C466.0 252.5 470.7 251.4 475.2 250.9C479.7 250.4 485.6 250.4 489.8 250.9C494.0 251.4 498.1 252.7 500.3 254.1C502.4 255.4 503.5 257.7 502.8 259.3C502.1 260.8 499.3 262.3 496.1 263.4C492.9 264.6 488.1 265.6 483.6 266.2C479.0 266.7 473.1 266.9 468.9 266.6C464.8 266.3 460.8 265.5 458.5 264.5C456.2 263.4 454.7 262.1 455.4 260.3Z" fill="#C9E9F8" />
<path d="M466.9 258.2C467.7 256.9 471.7 255.2 475.2 254.5C478.7 253.8 484.4 253.6 487.7 254.1C491.0 254.5 494.3 256.0 495.0 257.2C495.8 258.4 494.9 260.3 492.3 261.4C489.7 262.4 483.1 263.3 479.4 263.4C475.7 263.6 472.1 263.3 470.0 262.4C467.9 261.5 466.0 259.5 466.9 258.2Z" fill="#A1D8F4" />
<path d="M398.0 320.9C397.6 319.2 399.7 317.2 402.1 315.6C404.6 314.1 408.8 312.3 412.6 311.5C416.4 310.6 421.6 310.2 425.1 310.4C428.6 310.6 431.9 311.3 433.5 312.5C435.0 313.7 435.5 316.0 434.5 317.7C433.5 319.5 430.5 321.7 427.2 322.9C423.9 324.2 418.5 325.0 414.7 325.5C410.8 325.9 407.0 326.2 404.2 325.5C401.4 324.7 398.3 322.5 398.0 320.9Z" fill="#E3F3FB" />
<ellipse cx="487.3" cy="307.9" rx="8.8" ry="3.5" fill="#E3F3FB"/>
<path d="M538.9 291.6C539.9 289.5 544.8 287.1 549.3 285.4C553.8 283.7 560.8 282.8 566.0 281.2C571.2 279.6 576.4 277.1 580.6 276.0C584.8 274.9 586.9 274.9 591.1 274.9C595.3 274.9 601.5 275.3 605.7 276.0C609.9 276.7 614.7 277.7 616.1 279.1C617.5 280.5 616.4 282.6 614.0 284.3C611.6 286.0 605.7 287.6 601.5 289.5C597.3 291.4 592.5 293.9 589.0 295.8C585.5 297.7 583.7 299.7 580.6 301.0C577.5 302.3 574.4 303.5 570.2 303.7C566.0 303.9 560.1 303.1 555.6 302.1C551.1 301.1 545.9 299.6 543.1 297.9C540.3 296.1 537.9 293.7 538.9 291.6Z" fill="#E3F3FB" />
<path d="M551.4 293.7C551.8 292.5 556.7 291.0 559.8 290.6C562.9 290.2 567.8 290.5 570.2 291.2C572.6 291.9 574.8 293.7 574.4 294.8C574.0 295.9 570.9 297.4 568.1 297.9C565.3 298.4 560.5 298.6 557.7 297.9C554.9 297.2 551.0 294.9 551.4 293.7Z" fill="#C9E9F8" />
<path d="M512.0 227.0L513.0 232.5L525.0 233.5L540.0 232.2L548.0 230.0L548.0 227.0Z" fill="#E3F3FB" />
<ellipse cx="661.0" cy="261.5" rx="9.0" ry="2.2" fill="#E3F3FB"/>
<path d="M634.9 337.6C636.2 332.8 636.3 332.7 638.0 331.3C639.7 329.9 642.7 329.2 645.3 329.2C647.9 329.2 650.6 330.6 653.7 331.3C656.8 332.0 662.3 328.6 664.0 333.4C665.7 338.2 669.7 355.6 664.0 360.0C658.3 364.4 634.9 363.7 630.0 360.0C625.1 356.3 633.6 342.4 634.9 337.6Z" fill="#E3F3FB" />
<path d="M371.0 343.5C375.0 340.8 387.3 343.0 395.0 343.0C402.7 343.0 412.0 343.0 417.0 343.5C422.0 344.0 422.5 345.1 425.0 346.0C427.5 346.9 428.7 348.6 432.0 348.8C435.3 349.0 440.3 347.9 445.0 347.0C449.7 346.1 455.1 344.3 460.0 343.5C464.9 342.7 470.4 342.2 474.6 342.4C478.8 342.6 481.6 343.4 485.0 344.5C488.4 345.6 491.5 347.2 495.0 349.0C498.5 350.8 503.8 353.8 506.0 355.5C508.2 357.2 530.5 358.4 508.0 359.0C485.5 359.6 393.8 361.6 371.0 359.0C348.2 356.4 367.0 346.2 371.0 343.5Z" fill="#E3F3FB" />
<path d="M371.0 347.5C375.8 345.6 392.3 347.2 400.0 347.5C407.7 347.8 411.7 348.2 417.0 349.0C422.3 349.8 426.5 351.8 432.0 352.0C437.5 352.2 443.0 351.2 450.0 350.5C457.0 349.8 467.7 348.0 474.0 348.0C480.3 348.0 484.2 349.5 488.0 350.5C491.8 351.5 494.8 352.6 497.0 354.0C499.2 355.4 522.0 358.2 501.0 359.0C480.0 359.8 392.7 360.9 371.0 359.0C349.3 357.1 366.2 349.4 371.0 347.5Z" fill="#C9E9F8" />
<path d="M371.0 350.5C377.5 349.1 399.8 350.3 410.0 350.8C420.2 351.3 421.3 353.4 432.0 353.5C442.7 353.6 464.3 351.4 474.0 351.5C483.7 351.6 486.5 352.8 490.0 354.0C493.5 355.2 514.8 358.2 495.0 359.0C475.2 359.8 391.7 360.4 371.0 359.0C350.3 357.6 364.5 351.9 371.0 350.5Z" fill="#A1D8F4" />
<path d="M371.0 352.4C379.2 351.4 408.5 352.4 420.0 352.8C431.5 353.2 431.0 354.5 440.0 354.6C449.0 354.7 466.3 353.2 474.0 353.4C481.7 353.5 483.3 354.6 486.0 355.5C488.7 356.4 509.2 358.4 490.0 359.0C470.8 359.6 390.8 360.1 371.0 359.0C351.2 357.9 362.8 353.4 371.0 352.4Z" fill="#6DB2E0" />
<path d="M371.0 353.8L430.0 354.2L480.0 355.0L486.0 359.0L371.0 359.0Z" fill="#448ACA" />
<path d="M597.0 358.0C598.8 357.0 603.8 354.6 608.0 353.2C612.2 351.8 617.6 351.1 622.0 349.8C626.4 348.5 631.9 347.2 634.6 345.6C637.3 344.0 633.1 340.9 638.0 340.0C642.9 339.1 659.7 336.8 664.0 340.0C668.3 343.2 675.2 355.8 664.0 359.0C652.8 362.2 608.2 359.2 597.0 359.0C585.8 358.8 595.2 359.0 597.0 358.0Z" fill="#E3F3FB" />
<path d="M618.0 359.0C612.7 358.0 627.5 354.2 632.0 353.0C636.5 351.8 639.7 351.8 645.0 351.5C650.3 351.2 660.8 349.8 664.0 351.0C667.2 352.2 671.7 357.7 664.0 359.0C656.3 360.3 623.3 360.0 618.0 359.0Z" fill="#C9E9F8" />
<path d="M633.0 359.0C629.8 358.2 639.8 355.0 645.0 354.0C650.2 353.0 660.8 352.4 664.0 353.2C667.2 354.0 669.2 358.0 664.0 359.0C658.8 360.0 636.2 359.8 633.0 359.0Z" fill="#A1D8F4" />
<path d="M640.0 359.0L650.0 354.8L664.0 354.4L664.0 359.0Z" fill="#448ACA" />
<ellipse cx="527.5" cy="355.8" rx="11.0" ry="1.2" fill="#FEF0B8"/>
<ellipse cx="580.0" cy="355.8" rx="7.5" ry="1.0" fill="#FEF0B8"/>
<path d="M376.4 234.0L377.6 234.1" stroke="#000" stroke-width="0.80"/><path d="M379.7 234.2L377.0 235.2L377.1 232.9Z"/><path d="M387.6 234.0L388.7 234.1" stroke="#000" stroke-width="0.80"/><path d="M390.8 234.2L388.1 235.2L388.2 232.9Z"/><path d="M398.6 234.0L399.8 234.1" stroke="#000" stroke-width="0.80"/><path d="M401.9 234.2L399.2 235.2L399.3 232.9Z"/><path d="M409.8 234.0L410.9 234.1" stroke="#000" stroke-width="0.80"/><path d="M413.0 234.2L410.3 235.2L410.4 232.9Z"/><path d="M420.8 234.0L422.0 234.1" stroke="#000" stroke-width="0.80"/><path d="M424.1 234.2L421.4 235.2L421.5 232.9Z"/><path d="M431.9 234.0L433.1 234.1" stroke="#000" stroke-width="0.80"/><path d="M435.2 234.2L432.5 235.2L432.6 232.9Z"/><path d="M443.0 234.0L444.2 234.1" stroke="#000" stroke-width="0.80"/><path d="M446.2 234.2L443.6 235.2L443.7 232.9Z"/><path d="M454.1 234.0L455.3 234.1" stroke="#000" stroke-width="0.80"/><path d="M457.4 234.2L454.7 235.2L454.8 232.9Z"/><path d="M465.2 234.0L466.4 234.1" stroke="#000" stroke-width="0.80"/><path d="M468.5 234.2L465.8 235.2L465.9 232.9Z"/><path d="M476.3 234.0L477.5 234.1" stroke="#000" stroke-width="0.80"/><path d="M479.6 234.2L476.9 235.2L477.0 232.9Z"/><path d="M487.4 234.0L488.6 234.1" stroke="#000" stroke-width="0.80"/><path d="M490.7 234.2L488.0 235.2L488.1 232.9Z"/><path d="M498.5 234.0L499.7 234.1" stroke="#000" stroke-width="0.80"/><path d="M501.8 234.2L499.1 235.2L499.2 232.9Z"/><path d="M509.6 234.0L510.8 234.1" stroke="#000" stroke-width="0.80"/><path d="M512.9 234.2L510.2 235.2L510.3 232.9Z"/><path d="M520.8 234.0L521.9 234.1" stroke="#000" stroke-width="0.80"/><path d="M524.0 234.2L521.3 235.2L521.4 232.9Z"/><path d="M531.9 234.0L533.0 234.1" stroke="#000" stroke-width="0.80"/><path d="M535.1 234.2L532.4 235.2L532.5 232.9Z"/><path d="M542.9 234.0L544.1 234.1" stroke="#000" stroke-width="0.80"/><path d="M546.1 234.2L543.5 235.2L543.6 232.9Z"/><path d="M554.0 234.0L555.2 234.1" stroke="#000" stroke-width="0.80"/><path d="M557.2 234.2L554.6 235.2L554.7 232.9Z"/><path d="M565.1 234.0L566.3 234.1" stroke="#000" stroke-width="0.80"/><path d="M568.4 234.2L565.7 235.2L565.8 232.9Z"/><path d="M576.2 234.0L577.4 234.1" stroke="#000" stroke-width="0.80"/><path d="M579.5 234.2L576.8 235.2L576.9 232.9Z"/><path d="M587.4 234.0L588.5 234.1" stroke="#000" stroke-width="0.80"/><path d="M590.6 234.2L587.9 235.2L588.0 232.9Z"/><path d="M598.4 234.0L599.6 234.1" stroke="#000" stroke-width="0.80"/><path d="M601.6 234.2L599.0 235.2L599.1 232.9Z"/><path d="M609.5 234.0L610.7 234.1" stroke="#000" stroke-width="0.80"/><path d="M612.8 234.2L610.1 235.2L610.2 232.9Z"/><path d="M620.6 234.0L621.8 234.1" stroke="#000" stroke-width="0.80"/><path d="M623.9 234.2L621.2 235.2L621.3 232.9Z"/><path d="M631.8 234.0L632.9 234.1" stroke="#000" stroke-width="0.80"/><path d="M635.0 234.2L632.3 235.2L632.4 232.9Z"/><path d="M379.1 243.5L381.9 243.5" stroke="#000" stroke-width="1.21"/><path d="M386.1 243.5L381.4 245.5L381.4 241.6Z"/><path d="M389.2 243.5L393.4 243.5" stroke="#000" stroke-width="1.33"/><path d="M398.2 243.5L392.9 245.7L392.9 241.4Z"/><path d="M401.8 243.5L403.9 243.5" stroke="#000" stroke-width="1.14"/><path d="M407.8 243.5L403.4 245.4L403.4 241.7Z"/><path d="M413.4 243.5L414.8 243.5" stroke="#000" stroke-width="1.07"/><path d="M418.4 243.5L414.3 245.3L414.3 241.8Z"/><path d="M425.2 243.4L426.8 243.5" stroke="#000" stroke-width="0.80"/><path d="M428.8 243.6L426.2 244.7L426.3 242.4Z"/><path d="M436.3 243.4L437.9 243.5" stroke="#000" stroke-width="0.80"/><path d="M439.9 243.6L437.3 244.7L437.4 242.4Z"/><path d="M447.4 243.4L449.0 243.5" stroke="#000" stroke-width="0.80"/><path d="M451.1 243.6L448.4 244.7L448.5 242.4Z"/><path d="M458.5 243.4L460.1 243.5" stroke="#000" stroke-width="0.80"/><path d="M462.1 243.6L459.5 244.7L459.6 242.4Z"/><path d="M469.6 243.4L471.2 243.5" stroke="#000" stroke-width="0.80"/><path d="M473.2 243.6L470.6 244.7L470.7 242.4Z"/><path d="M480.7 243.4L482.3 243.5" stroke="#000" stroke-width="0.80"/><path d="M484.3 243.6L481.7 244.7L481.8 242.4Z"/><path d="M491.8 243.4L493.4 243.5" stroke="#000" stroke-width="0.80"/><path d="M495.4 243.6L492.8 244.7L492.9 242.4Z"/><path d="M502.9 243.4L504.5 243.5" stroke="#000" stroke-width="0.80"/><path d="M506.6 243.6L503.9 244.7L504.0 242.4Z"/><path d="M514.0 243.4L515.6 243.5" stroke="#000" stroke-width="0.80"/><path d="M517.6 243.6L515.0 244.7L515.1 242.4Z"/><path d="M523.4 243.5L526.2 243.5" stroke="#000" stroke-width="1.21"/><path d="M530.4 243.5L525.7 245.5L525.7 241.6Z"/><path d="M534.5 243.5L537.3 243.5" stroke="#000" stroke-width="1.21"/><path d="M541.5 243.5L536.8 245.5L536.8 241.6Z"/><path d="M545.6 243.5L548.4 243.5" stroke="#000" stroke-width="1.21"/><path d="M552.6 243.5L547.9 245.5L547.9 241.6Z"/><path d="M555.8 243.5L559.9 243.5" stroke="#000" stroke-width="1.33"/><path d="M564.8 243.5L559.4 245.7L559.4 241.4Z"/><path d="M579.4 243.5L581.5 243.5" stroke="#000" stroke-width="1.14"/><path d="M585.4 243.5L581.0 245.4L581.0 241.7Z"/><path d="M590.0 243.5L592.8 243.5" stroke="#000" stroke-width="1.21"/><path d="M597.0 243.5L592.3 245.5L592.3 241.6Z"/><path d="M602.6 243.5L604.5 243.5" stroke="#000" stroke-width="0.80"/><path d="M606.6 243.5L604.0 244.7L604.0 242.4Z"/><path d="M612.2 243.5L615.0 243.5" stroke="#000" stroke-width="1.21"/><path d="M619.2 243.5L614.5 245.5L614.5 241.6Z"/><path d="M624.3 243.5L625.7 243.5" stroke="#000" stroke-width="1.07"/><path d="M629.3 243.5L625.2 245.3L625.2 241.8Z"/><path d="M375.6 253.0L376.9 253.0" stroke="#000" stroke-width="1.07"/><path d="M380.6 253.0L376.4 254.7L376.4 251.3Z"/><path d="M386.4 253.0L388.1 253.0" stroke="#000" stroke-width="1.11"/><path d="M391.9 253.0L387.6 254.8L387.6 251.2Z"/><path d="M397.5 253.0L399.2 253.0" stroke="#000" stroke-width="1.11"/><path d="M403.0 253.0L398.7 254.8L398.7 251.2Z"/><path d="M408.6 253.0L410.3 253.0" stroke="#000" stroke-width="1.11"/><path d="M414.1 253.0L409.8 254.8L409.8 251.2Z"/><path d="M419.9 253.0L421.3 253.0" stroke="#000" stroke-width="1.07"/><path d="M424.9 253.0L420.8 254.7L420.8 251.3Z"/><path d="M431.9 252.8L433.2 253.0" stroke="#000" stroke-width="0.80"/><path d="M435.2 253.2L432.5 254.0L432.8 251.8Z"/><path d="M442.9 252.8L444.3 253.0" stroke="#000" stroke-width="0.80"/><path d="M446.3 253.2L443.6 254.0L443.9 251.8Z"/><path d="M454.1 252.8L455.4 253.0" stroke="#000" stroke-width="0.80"/><path d="M457.4 253.2L454.7 254.0L455.0 251.8Z"/><path d="M464.4 252.8L465.7 252.9" stroke="#000" stroke-width="1.08"/><path d="M469.4 253.2L465.1 254.6L465.3 251.2Z"/><path d="M575.4 252.5L576.7 252.8" stroke="#000" stroke-width="1.08"/><path d="M580.4 253.5L575.9 254.4L576.6 251.0Z"/><path d="M586.0 253.5L588.0 253.2" stroke="#000" stroke-width="1.15"/><path d="M592.0 252.5L587.8 255.0L587.2 251.4Z"/><path d="M596.5 253.0L599.3 253.0" stroke="#000" stroke-width="1.21"/><path d="M603.5 253.0L598.8 254.9L598.8 251.1Z"/><path d="M607.1 253.0L610.6 253.0" stroke="#000" stroke-width="1.27"/><path d="M615.1 253.0L610.1 255.1L610.1 250.9Z"/><path d="M618.2 253.0L621.7 253.0" stroke="#000" stroke-width="1.27"/><path d="M626.2 253.0L621.2 255.1L621.2 250.9Z"/><path d="M630.4 253.0L632.4 253.0" stroke="#000" stroke-width="1.14"/><path d="M636.4 253.0L631.9 254.8L631.9 251.2Z"/><path d="M412.4 262.4L415.2 262.4" stroke="#000" stroke-width="1.21"/><path d="M419.4 262.4L414.7 264.4L414.7 260.5Z"/><path d="M425.4 262.1L426.6 262.4" stroke="#000" stroke-width="0.80"/><path d="M428.6 262.8L425.9 263.4L426.3 261.1Z"/><path d="M436.5 262.1L437.7 262.4" stroke="#000" stroke-width="0.80"/><path d="M439.8 262.8L437.0 263.4L437.4 261.1Z"/><path d="M447.6 262.1L448.8 262.4" stroke="#000" stroke-width="0.80"/><path d="M450.9 262.8L448.1 263.4L448.5 261.1Z"/><path d="M585.0 260.6L583.1 261.9" stroke="#000" stroke-width="1.17"/><path d="M579.8 264.3L582.4 260.1L584.6 263.2Z"/><path d="M592.0 261.9L592.5 262.1" stroke="#000" stroke-width="0.60"/><path d="M595.0 262.9L591.6 263.2L592.5 260.7Z"/><path d="M602.6 262.4L604.5 262.4" stroke="#000" stroke-width="0.80"/><path d="M606.6 262.4L604.0 263.6L604.0 261.3Z"/><path d="M612.8 262.4L614.8 262.4" stroke="#000" stroke-width="1.14"/><path d="M618.8 262.4L614.3 264.3L614.3 260.6Z"/><path d="M624.8 262.2L626.8 262.4" stroke="#000" stroke-width="0.80"/><path d="M628.8 262.7L626.1 263.5L626.4 261.2Z"/><path d="M636.3 262.1L637.5 262.4" stroke="#000" stroke-width="0.80"/><path d="M639.5 262.8L636.8 263.4L637.2 261.1Z"/><path d="M647.4 262.1L648.6 262.4" stroke="#000" stroke-width="0.80"/><path d="M650.6 262.8L647.9 263.4L648.3 261.1Z"/><path d="M384.0 272.6L389.2 271.9" stroke="#000" stroke-width="1.43"/><path d="M394.4 271.1L389.0 274.3L388.3 269.6Z"/><path d="M420.8 271.4L422.0 271.8" stroke="#000" stroke-width="0.80"/><path d="M424.1 272.4L421.2 272.7L421.9 270.5Z"/><path d="M431.9 271.4L433.1 271.8" stroke="#000" stroke-width="0.80"/><path d="M435.2 272.4L432.3 272.7L433.0 270.5Z"/><path d="M443.0 271.4L444.2 271.8" stroke="#000" stroke-width="0.80"/><path d="M446.2 272.4L443.4 272.7L444.1 270.5Z"/><path d="M453.4 273.4L454.9 272.4" stroke="#000" stroke-width="1.12"/><path d="M458.1 270.4L455.4 274.2L453.5 271.2Z"/><path d="M463.7 272.8L466.0 272.1" stroke="#000" stroke-width="1.17"/><path d="M470.0 271.0L466.1 274.1L465.1 270.4Z"/><path d="M477.6 269.3L477.8 270.8" stroke="#000" stroke-width="1.09"/><path d="M478.2 274.5L476.0 270.5L479.5 270.1Z"/><path d="M485.4 269.5L488.7 271.7" stroke="#000" stroke-width="1.32"/><path d="M492.7 274.3L487.1 273.2L489.5 269.6Z"/><path d="M518.7 268.2L522.3 271.9" stroke="#000" stroke-width="1.42"/><path d="M526.0 275.5L520.3 273.2L523.6 269.9Z"/><path d="M562.0 269.3L566.8 271.9" stroke="#000" stroke-width="1.45"/><path d="M571.5 274.5L565.2 273.8L567.5 269.6Z"/><path d="M575.2 270.3L577.1 271.4" stroke="#000" stroke-width="1.14"/><path d="M580.5 273.4L575.7 272.7L577.6 269.6Z"/><path d="M587.0 270.9L589.1 272.0" stroke="#000" stroke-width="0.80"/><path d="M591.0 272.9L588.1 272.8L589.1 270.7Z"/><path d="M598.4 271.4L599.6 271.8" stroke="#000" stroke-width="0.80"/><path d="M601.6 272.4L598.8 272.7L599.5 270.5Z"/><path d="M609.5 271.4L610.7 271.8" stroke="#000" stroke-width="0.80"/><path d="M612.8 272.4L609.9 272.7L610.6 270.5Z"/><path d="M620.6 271.4L621.8 271.8" stroke="#000" stroke-width="0.80"/><path d="M623.9 272.4L621.0 272.7L621.7 270.5Z"/><path d="M631.8 271.4L632.9 271.8" stroke="#000" stroke-width="0.80"/><path d="M635.0 272.4L632.1 272.7L632.8 270.5Z"/><path d="M642.9 271.4L644.0 271.8" stroke="#000" stroke-width="0.80"/><path d="M646.1 272.4L643.2 272.7L643.9 270.5Z"/><path d="M653.9 271.4L655.1 271.8" stroke="#000" stroke-width="0.80"/><path d="M657.1 272.4L654.3 272.7L655.0 270.5Z"/><path d="M378.4 281.4L382.2 281.4" stroke="#000" stroke-width="1.30"/><path d="M386.8 281.4L381.7 283.5L381.7 279.2Z"/><path d="M390.1 281.4L393.1 281.4" stroke="#000" stroke-width="1.22"/><path d="M397.4 281.4L392.6 283.3L392.6 279.4Z"/><path d="M401.2 281.4L404.2 281.4" stroke="#000" stroke-width="1.22"/><path d="M408.5 281.4L403.7 283.3L403.7 279.4Z"/><path d="M412.3 281.4L415.3 281.4" stroke="#000" stroke-width="1.22"/><path d="M419.6 281.4L414.8 283.3L414.8 279.4Z"/><path d="M424.0 281.4L426.1 281.4" stroke="#000" stroke-width="1.14"/><path d="M430.0 281.4L425.6 283.2L425.6 279.5Z"/><path d="M435.2 281.6L437.2 281.4" stroke="#000" stroke-width="1.13"/><path d="M441.0 281.1L436.8 283.3L436.5 279.7Z"/><path d="M446.9 282.4L448.2 281.8" stroke="#000" stroke-width="1.09"/><path d="M451.6 280.4L448.4 283.6L447.1 280.4Z"/><path d="M458.7 284.2L459.9 282.1" stroke="#000" stroke-width="1.17"/><path d="M462.0 278.6L461.3 283.5L458.1 281.5Z"/><path d="M469.8 280.8L471.1 281.2" stroke="#000" stroke-width="0.80"/><path d="M473.1 282.0L470.2 282.1L471.0 280.0Z"/><path d="M480.9 280.8L482.2 281.2" stroke="#000" stroke-width="0.80"/><path d="M484.1 282.0L481.3 282.1L482.1 280.0Z"/><path d="M492.0 280.8L493.3 281.2" stroke="#000" stroke-width="0.80"/><path d="M495.2 282.0L492.4 282.1L493.2 280.0Z"/><path d="M503.1 280.8L504.4 281.2" stroke="#000" stroke-width="0.80"/><path d="M506.4 282.0L503.5 282.1L504.3 280.0Z"/><path d="M513.7 279.8L515.0 280.7" stroke="#000" stroke-width="1.09"/><path d="M517.9 282.9L513.5 281.8L515.6 279.0Z"/><path d="M522.2 279.0L527.0 281.4" stroke="#000" stroke-width="1.44"/><path d="M531.6 283.8L525.4 283.2L527.6 279.0Z"/><path d="M533.8 278.8L537.9 281.3" stroke="#000" stroke-width="1.39"/><path d="M542.2 284.0L536.3 283.0L538.7 279.1Z"/><path d="M546.9 277.9L548.9 281.0" stroke="#000" stroke-width="1.29"/><path d="M551.4 284.8L546.9 281.7L550.4 279.4Z"/><path d="M557.6 277.7L560.1 281.1" stroke="#000" stroke-width="1.33"/><path d="M562.9 285.0L558.0 281.9L561.5 279.4Z"/><path d="M569.2 279.2L570.7 280.7" stroke="#000" stroke-width="1.14"/><path d="M573.4 283.5L569.0 281.6L571.6 279.0Z"/><path d="M580.4 280.4L582.6 281.4" stroke="#000" stroke-width="0.80"/><path d="M584.4 282.4L581.6 282.2L582.6 280.2Z"/><path d="M591.9 280.8L593.2 281.2" stroke="#000" stroke-width="0.80"/><path d="M595.1 282.0L592.3 282.1L593.1 280.0Z"/><path d="M602.1 280.6L603.6 281.0" stroke="#000" stroke-width="1.09"/><path d="M607.1 282.1L602.6 282.5L603.6 279.2Z"/><path d="M624.8 280.9L626.8 281.3" stroke="#000" stroke-width="0.80"/><path d="M628.8 281.9L626.0 282.3L626.6 280.1Z"/><path d="M636.3 280.8L637.6 281.2" stroke="#000" stroke-width="0.80"/><path d="M639.5 282.0L636.7 282.1L637.5 280.0Z"/><path d="M647.4 280.8L648.7 281.2" stroke="#000" stroke-width="0.80"/><path d="M650.6 282.0L647.8 282.1L648.6 280.0Z"/><path d="M376.6 289.3L378.1 290.8" stroke="#000" stroke-width="0.80"/><path d="M379.6 292.3L376.9 291.3L378.5 289.6Z"/><path d="M385.5 288.4L388.8 290.6" stroke="#000" stroke-width="1.32"/><path d="M392.8 293.2L387.2 292.1L389.6 288.5Z"/><path d="M408.5 288.4L410.9 290.4" stroke="#000" stroke-width="1.24"/><path d="M414.2 293.2L409.2 291.6L411.8 288.5Z"/><path d="M420.9 290.1L422.1 290.6" stroke="#000" stroke-width="0.80"/><path d="M423.9 291.6L421.1 291.4L422.1 289.4Z"/><path d="M432.2 290.2L432.7 290.4" stroke="#000" stroke-width="0.60"/><path d="M434.9 291.4L431.7 291.3L432.8 289.1Z"/><path d="M443.3 290.2L443.8 290.4" stroke="#000" stroke-width="0.60"/><path d="M445.9 291.4L442.8 291.3L443.9 289.1Z"/><path d="M454.4 290.2L454.9 290.4" stroke="#000" stroke-width="0.60"/><path d="M457.1 291.4L453.9 291.3L455.0 289.1Z"/><path d="M465.6 290.2L466.0 290.4" stroke="#000" stroke-width="0.60"/><path d="M468.2 291.4L465.0 291.3L466.1 289.1Z"/><path d="M476.6 290.2L477.1 290.4" stroke="#000" stroke-width="0.60"/><path d="M479.2 291.4L476.1 291.3L477.2 289.1Z"/><path d="M487.8 290.2L488.2 290.4" stroke="#000" stroke-width="0.60"/><path d="M490.4 291.4L487.2 291.3L488.3 289.1Z"/><path d="M498.8 290.2L499.3 290.4" stroke="#000" stroke-width="0.60"/><path d="M501.4 291.4L498.3 291.3L499.4 289.1Z"/><path d="M509.9 290.2L510.4 290.4" stroke="#000" stroke-width="0.60"/><path d="M512.5 291.4L509.4 291.3L510.5 289.1Z"/><path d="M520.2 288.7L521.7 290.1" stroke="#000" stroke-width="1.14"/><path d="M524.5 292.9L520.0 291.1L522.6 288.5Z"/><path d="M531.4 288.2L532.9 290.2" stroke="#000" stroke-width="1.18"/><path d="M535.6 293.4L531.2 291.0L534.1 288.6Z"/><path d="M542.4 288.2L544.0 290.2" stroke="#000" stroke-width="1.18"/><path d="M546.6 293.4L542.3 291.0L545.2 288.6Z"/><path d="M562.5 288.9L566.5 290.7" stroke="#000" stroke-width="1.35"/><path d="M571.0 292.7L565.1 292.5L567.0 288.5Z"/><path d="M577.4 288.4L577.9 291.1" stroke="#000" stroke-width="0.80"/><path d="M578.4 293.2L576.7 290.9L578.9 290.4Z"/><path d="M587.6 289.6L588.8 290.6" stroke="#000" stroke-width="0.80"/><path d="M590.4 292.0L587.6 291.2L589.1 289.4Z"/><path d="M598.6 289.6L599.9 290.6" stroke="#000" stroke-width="0.80"/><path d="M601.4 292.0L598.7 291.2L600.2 289.4Z"/><path d="M609.8 289.6L611.0 290.6" stroke="#000" stroke-width="0.80"/><path d="M612.5 292.0L609.8 291.2L611.3 289.4Z"/><path d="M619.1 289.6L621.5 290.5" stroke="#000" stroke-width="1.19"/><path d="M625.4 292.1L620.4 292.1L621.8 288.6Z"/><path d="M630.9 290.3L632.2 290.6" stroke="#000" stroke-width="1.08"/><path d="M635.9 291.3L631.4 292.2L632.1 288.8Z"/><path d="M643.1 289.6L644.3 290.6" stroke="#000" stroke-width="0.80"/><path d="M645.9 292.0L643.1 291.2L644.6 289.4Z"/><path d="M654.1 289.6L655.4 290.6" stroke="#000" stroke-width="0.80"/><path d="M656.9 292.0L654.2 291.2L655.7 289.4Z"/><path d="M381.1 298.8L382.7 300.3" stroke="#000" stroke-width="0.80"/><path d="M384.1 301.8L381.5 300.7L383.1 299.1Z"/><path d="M414.4 297.4L415.5 299.5" stroke="#000" stroke-width="1.17"/><path d="M417.5 303.1L413.7 300.0L416.9 298.2Z"/><path d="M426.0 299.4L426.4 299.7" stroke="#000" stroke-width="0.60"/><path d="M428.0 301.1L425.3 300.2L426.8 298.5Z"/><path d="M437.1 299.4L437.5 299.7" stroke="#000" stroke-width="0.60"/><path d="M439.1 301.1L436.4 300.2L437.9 298.5Z"/><path d="M448.2 299.4L448.6 299.7" stroke="#000" stroke-width="0.60"/><path d="M450.2 301.1L447.5 300.2L449.0 298.5Z"/><path d="M459.3 299.4L459.7 299.7" stroke="#000" stroke-width="0.60"/><path d="M461.3 301.1L458.6 300.2L460.1 298.5Z"/><path d="M470.7 299.6L471.1 299.9" stroke="#555" stroke-width="0.60"/><path d="M472.2 300.9L470.1 300.2L471.3 299.0Z" fill="#555"/><path d="M481.8 299.6L482.2 299.9" stroke="#555" stroke-width="0.60"/><path d="M483.3 300.9L481.2 300.2L482.4 299.0Z" fill="#555"/><path d="M492.9 299.6L493.3 299.9" stroke="#555" stroke-width="0.60"/><path d="M494.4 300.9L492.3 300.2L493.5 299.0Z" fill="#555"/><path d="M504.0 299.6L504.4 299.9" stroke="#555" stroke-width="0.60"/><path d="M505.5 300.9L503.4 300.2L504.6 299.0Z" fill="#555"/><path d="M515.1 299.6L515.5 299.9" stroke="#555" stroke-width="0.60"/><path d="M516.6 300.9L514.5 300.2L515.7 299.0Z" fill="#555"/><path d="M526.2 299.6L526.6 299.9" stroke="#555" stroke-width="0.60"/><path d="M527.7 300.9L525.6 300.2L526.8 299.0Z" fill="#555"/><path d="M537.3 299.6L537.7 299.9" stroke="#555" stroke-width="0.60"/><path d="M538.8 300.9L536.7 300.2L537.9 299.0Z" fill="#555"/><path d="M547.9 299.1L548.9 300.0" stroke="#000" stroke-width="0.80"/><path d="M550.4 301.4L547.7 300.4L549.3 298.8Z"/><path d="M559.0 299.1L560.0 300.0" stroke="#000" stroke-width="0.80"/><path d="M561.5 301.4L558.8 300.4L560.4 298.8Z"/><path d="M570.1 299.1L571.1 300.0" stroke="#000" stroke-width="0.80"/><path d="M572.5 301.4L569.9 300.4L571.5 298.8Z"/><path d="M581.2 299.1L582.2 300.0" stroke="#000" stroke-width="0.80"/><path d="M583.6 301.4L581.0 300.4L582.6 298.8Z"/><path d="M592.3 299.1L593.3 300.0" stroke="#000" stroke-width="0.80"/><path d="M594.8 301.4L592.1 300.4L593.7 298.8Z"/><path d="M603.4 299.1L604.4 300.0" stroke="#000" stroke-width="0.80"/><path d="M605.9 301.4L603.2 300.4L604.8 298.8Z"/><path d="M614.5 299.1L615.5 300.0" stroke="#000" stroke-width="0.80"/><path d="M617.0 301.4L614.3 300.4L615.9 298.8Z"/><path d="M624.2 298.4L626.2 299.7" stroke="#000" stroke-width="1.17"/><path d="M629.4 302.1L624.7 301.0L626.9 297.9Z"/><path d="M636.7 299.1L637.7 300.0" stroke="#000" stroke-width="0.80"/><path d="M639.1 301.4L636.5 300.4L638.1 298.8Z"/><path d="M647.8 299.1L648.8 300.0" stroke="#000" stroke-width="0.80"/><path d="M650.2 301.4L647.6 300.4L649.2 298.8Z"/><path d="M377.4 309.1L377.8 309.4" stroke="#999" stroke-width="0.60"/><path d="M378.7 310.3L376.9 309.7L377.9 308.5Z" fill="#999"/><path d="M387.3 307.9L388.3 308.9" stroke="#000" stroke-width="1.08"/><path d="M391.0 311.4L386.8 309.8L389.1 307.3Z"/><path d="M398.4 307.3L399.7 309.0" stroke="#000" stroke-width="1.14"/><path d="M402.1 312.1L397.9 309.7L400.8 307.5Z"/><path d="M409.5 307.3L410.8 309.0" stroke="#000" stroke-width="1.14"/><path d="M413.2 312.1L409.0 309.7L411.9 307.5Z"/><path d="M421.8 309.1L422.2 309.4" stroke="#999" stroke-width="0.60"/><path d="M423.1 310.3L421.3 309.7L422.3 308.5Z" fill="#999"/><path d="M432.9 309.1L433.3 309.4" stroke="#999" stroke-width="0.60"/><path d="M434.2 310.3L432.4 309.7L433.4 308.5Z" fill="#999"/><path d="M444.0 309.1L444.4 309.4" stroke="#999" stroke-width="0.60"/><path d="M445.3 310.3L443.5 309.7L444.5 308.5Z" fill="#999"/><path d="M455.1 309.1L455.5 309.4" stroke="#999" stroke-width="0.60"/><path d="M456.4 310.3L454.6 309.7L455.6 308.5Z" fill="#999"/><path d="M466.2 309.1L466.6 309.4" stroke="#999" stroke-width="0.60"/><path d="M467.5 310.3L465.7 309.7L466.7 308.5Z" fill="#999"/><path d="M477.3 309.1L477.7 309.4" stroke="#999" stroke-width="0.60"/><path d="M478.6 310.3L476.8 309.7L477.8 308.5Z" fill="#999"/><path d="M488.4 309.1L488.8 309.4" stroke="#999" stroke-width="0.60"/><path d="M489.7 310.3L487.9 309.7L488.9 308.5Z" fill="#999"/><path d="M499.5 309.1L499.9 309.4" stroke="#999" stroke-width="0.60"/><path d="M500.8 310.3L499.0 309.7L500.0 308.5Z" fill="#999"/><path d="M510.6 309.1L511.0 309.4" stroke="#999" stroke-width="0.60"/><path d="M511.9 310.3L510.1 309.7L511.1 308.5Z" fill="#999"/><path d="M521.7 309.1L522.1 309.4" stroke="#999" stroke-width="0.60"/><path d="M523.0 310.3L521.2 309.7L522.2 308.5Z" fill="#999"/><path d="M532.8 309.1L533.2 309.4" stroke="#999" stroke-width="0.60"/><path d="M534.1 310.3L532.3 309.7L533.3 308.5Z" fill="#999"/><path d="M543.4 308.6L543.8 309.0" stroke="#000" stroke-width="0.60"/><path d="M545.6 310.8L542.5 309.5L544.4 307.7Z"/><path d="M554.5 308.6L554.9 309.0" stroke="#000" stroke-width="0.60"/><path d="M556.8 310.8L553.6 309.5L555.5 307.7Z"/><path d="M565.6 308.6L566.0 309.0" stroke="#000" stroke-width="0.60"/><path d="M567.9 310.8L564.7 309.5L566.6 307.7Z"/><path d="M576.8 308.6L577.1 309.0" stroke="#000" stroke-width="0.60"/><path d="M579.0 310.8L575.8 309.5L577.7 307.7Z"/><path d="M587.9 308.6L588.2 309.0" stroke="#000" stroke-width="0.60"/><path d="M590.1 310.8L586.9 309.5L588.8 307.7Z"/><path d="M598.9 308.6L599.3 309.0" stroke="#000" stroke-width="0.60"/><path d="M601.1 310.8L598.0 309.5L599.9 307.7Z"/><path d="M610.0 308.6L610.4 309.0" stroke="#000" stroke-width="0.60"/><path d="M612.2 310.8L609.1 309.5L611.0 307.7Z"/><path d="M621.1 308.6L621.5 309.0" stroke="#000" stroke-width="0.60"/><path d="M623.4 310.8L620.2 309.5L622.1 307.7Z"/><path d="M632.2 308.6L632.6 309.0" stroke="#000" stroke-width="0.60"/><path d="M634.5 310.8L631.3 309.5L633.2 307.7Z"/><path d="M643.4 308.6L643.7 309.0" stroke="#000" stroke-width="0.60"/><path d="M645.6 310.8L642.4 309.5L644.3 307.7Z"/><path d="M654.4 308.6L654.8 309.0" stroke="#000" stroke-width="0.60"/><path d="M656.6 310.8L653.5 309.5L655.4 307.7Z"/><path d="M382.1 318.8L382.2 318.9" stroke="#999" stroke-width="0.60"/><path d="M383.1 319.4L381.4 319.2L382.1 318.0Z" fill="#999"/><path d="M393.2 318.8L393.3 318.9" stroke="#999" stroke-width="0.60"/><path d="M394.2 319.4L392.5 319.2L393.2 318.0Z" fill="#999"/><path d="M404.3 318.8L404.4 318.9" stroke="#999" stroke-width="0.60"/><path d="M405.3 319.4L403.6 319.2L404.3 318.0Z" fill="#999"/><path d="M415.4 318.8L415.5 318.9" stroke="#999" stroke-width="0.60"/><path d="M416.4 319.4L414.7 319.2L415.4 318.0Z" fill="#999"/><path d="M426.5 318.8L426.6 318.9" stroke="#999" stroke-width="0.60"/><path d="M427.5 319.4L425.8 319.2L426.5 318.0Z" fill="#999"/><path d="M437.6 318.8L437.7 318.9" stroke="#999" stroke-width="0.60"/><path d="M438.6 319.4L436.9 319.2L437.6 318.0Z" fill="#999"/><path d="M448.8 318.8L448.8 318.9" stroke="#999" stroke-width="0.60"/><path d="M449.8 319.4L448.0 319.2L448.7 318.0Z" fill="#999"/><path d="M459.8 318.8L459.9 318.9" stroke="#999" stroke-width="0.60"/><path d="M460.8 319.4L459.1 319.2L459.8 318.0Z" fill="#999"/><path d="M470.9 318.8L471.0 318.9" stroke="#999" stroke-width="0.60"/><path d="M471.9 319.4L470.2 319.2L470.9 318.0Z" fill="#999"/><path d="M482.0 318.8L482.1 318.9" stroke="#999" stroke-width="0.60"/><path d="M483.0 319.4L481.3 319.2L482.0 318.0Z" fill="#999"/><path d="M493.1 318.8L493.2 318.9" stroke="#999" stroke-width="0.60"/><path d="M494.1 319.4L492.4 319.2L493.1 318.0Z" fill="#999"/><path d="M504.2 318.8L504.3 318.9" stroke="#999" stroke-width="0.60"/><path d="M505.2 319.4L503.5 319.2L504.2 318.0Z" fill="#999"/><path d="M515.3 318.8L515.4 318.9" stroke="#999" stroke-width="0.60"/><path d="M516.3 319.4L514.6 319.2L515.3 318.0Z" fill="#999"/><path d="M526.4 318.8L526.5 318.9" stroke="#999" stroke-width="0.60"/><path d="M527.4 319.4L525.7 319.2L526.4 318.0Z" fill="#999"/><path d="M537.5 318.8L537.6 318.9" stroke="#999" stroke-width="0.60"/><path d="M538.5 319.4L536.8 319.2L537.5 318.0Z" fill="#999"/><path d="M548.4 318.4L548.7 318.8" stroke="#555" stroke-width="0.60"/><path d="M549.9 319.8L547.8 319.1L548.9 317.8Z" fill="#555"/><path d="M559.5 318.4L559.8 318.8" stroke="#555" stroke-width="0.60"/><path d="M561.0 319.8L558.9 319.1L560.0 317.8Z" fill="#555"/><path d="M570.5 318.4L570.9 318.8" stroke="#555" stroke-width="0.60"/><path d="M572.1 319.8L570.0 319.1L571.1 317.8Z" fill="#555"/><path d="M581.6 318.4L582.0 318.8" stroke="#555" stroke-width="0.60"/><path d="M583.2 319.8L581.1 319.1L582.2 317.8Z" fill="#555"/><path d="M592.8 318.4L593.1 318.8" stroke="#555" stroke-width="0.60"/><path d="M594.3 319.8L592.2 319.1L593.3 317.8Z" fill="#555"/><path d="M603.9 318.4L604.2 318.8" stroke="#555" stroke-width="0.60"/><path d="M605.4 319.8L603.3 319.1L604.4 317.8Z" fill="#555"/><path d="M615.0 318.4L615.3 318.8" stroke="#555" stroke-width="0.60"/><path d="M616.5 319.8L614.4 319.1L615.5 317.8Z" fill="#555"/><path d="M626.0 318.4L626.4 318.8" stroke="#555" stroke-width="0.60"/><path d="M627.6 319.8L625.5 319.1L626.6 317.8Z" fill="#555"/><path d="M637.6 313.9L637.9 319.1" stroke="#000" stroke-width="1.43"/><path d="M638.2 324.3L635.6 318.8L640.3 318.5Z"/><path d="M648.2 318.4L648.6 318.8" stroke="#555" stroke-width="0.60"/><path d="M649.8 319.8L647.7 319.1L648.8 317.8Z" fill="#555"/><path d="M377.6 328.3L377.6 328.3" stroke="#999" stroke-width="0.60"/><path d="M378.6 328.9L376.8 328.7L377.5 327.5Z" fill="#999"/><path d="M388.7 328.3L388.7 328.3" stroke="#999" stroke-width="0.60"/><path d="M389.7 328.9L387.9 328.7L388.6 327.5Z" fill="#999"/><path d="M399.8 328.3L399.8 328.3" stroke="#999" stroke-width="0.60"/><path d="M400.8 328.9L399.0 328.7L399.7 327.5Z" fill="#999"/><path d="M410.9 328.3L410.9 328.3" stroke="#999" stroke-width="0.60"/><path d="M411.9 328.9L410.1 328.7L410.8 327.5Z" fill="#999"/><path d="M421.9 328.3L422.0 328.3" stroke="#999" stroke-width="0.60"/><path d="M422.9 328.9L421.2 328.7L421.9 327.5Z" fill="#999"/><path d="M433.1 328.3L433.1 328.3" stroke="#999" stroke-width="0.60"/><path d="M434.1 328.9L432.3 328.7L433.0 327.5Z" fill="#999"/><path d="M444.1 328.3L444.2 328.3" stroke="#999" stroke-width="0.60"/><path d="M445.1 328.9L443.4 328.7L444.1 327.5Z" fill="#999"/><path d="M455.2 328.3L455.3 328.3" stroke="#999" stroke-width="0.60"/><path d="M456.2 328.9L454.5 328.7L455.2 327.5Z" fill="#999"/><path d="M466.4 328.3L466.4 328.3" stroke="#999" stroke-width="0.60"/><path d="M467.4 328.9L465.6 328.7L466.3 327.5Z" fill="#999"/><path d="M477.4 328.3L477.5 328.3" stroke="#999" stroke-width="0.60"/><path d="M478.4 328.9L476.7 328.7L477.4 327.5Z" fill="#999"/><path d="M488.6 328.3L488.6 328.3" stroke="#999" stroke-width="0.60"/><path d="M489.6 328.9L487.8 328.7L488.5 327.5Z" fill="#999"/><path d="M499.6 328.3L499.7 328.3" stroke="#999" stroke-width="0.60"/><path d="M500.6 328.9L498.9 328.7L499.6 327.5Z" fill="#999"/><path d="M510.8 328.3L510.8 328.3" stroke="#999" stroke-width="0.60"/><path d="M511.8 328.9L510.0 328.7L510.7 327.5Z" fill="#999"/><path d="M521.9 328.3L521.9 328.3" stroke="#999" stroke-width="0.60"/><path d="M522.9 328.9L521.1 328.7L521.8 327.5Z" fill="#999"/><path d="M533.0 328.3L533.0 328.3" stroke="#999" stroke-width="0.60"/><path d="M534.0 328.9L532.2 328.7L532.9 327.5Z" fill="#999"/><path d="M543.8 327.9L544.1 328.2" stroke="#555" stroke-width="0.60"/><path d="M545.3 329.3L543.2 328.6L544.3 327.2Z" fill="#555"/><path d="M554.9 327.9L555.2 328.2" stroke="#555" stroke-width="0.60"/><path d="M556.4 329.3L554.3 328.6L555.4 327.2Z" fill="#555"/><path d="M566.0 327.9L566.3 328.2" stroke="#555" stroke-width="0.60"/><path d="M567.5 329.3L565.4 328.6L566.5 327.2Z" fill="#555"/><path d="M577.1 327.9L577.4 328.2" stroke="#555" stroke-width="0.60"/><path d="M578.6 329.3L576.5 328.6L577.6 327.2Z" fill="#555"/><path d="M588.2 327.9L588.5 328.2" stroke="#555" stroke-width="0.60"/><path d="M589.8 329.3L587.6 328.6L588.7 327.2Z" fill="#555"/><path d="M599.2 327.9L599.6 328.2" stroke="#555" stroke-width="0.60"/><path d="M600.8 329.3L598.7 328.6L599.8 327.2Z" fill="#555"/><path d="M610.4 327.9L610.7 328.2" stroke="#555" stroke-width="0.60"/><path d="M611.9 329.3L609.8 328.6L610.9 327.2Z" fill="#555"/><path d="M621.5 327.9L621.8 328.2" stroke="#555" stroke-width="0.60"/><path d="M623.0 329.3L620.9 328.6L622.0 327.2Z" fill="#555"/><path d="M631.6 325.2L633.1 328.1" stroke="#000" stroke-width="1.24"/><path d="M635.1 332.0L631.1 328.6L634.6 326.7Z"/><path d="M643.7 327.9L644.0 328.2" stroke="#555" stroke-width="0.60"/><path d="M645.2 329.3L643.1 328.6L644.2 327.2Z" fill="#555"/><path d="M654.8 327.9L655.1 328.2" stroke="#555" stroke-width="0.60"/><path d="M656.3 329.3L654.2 328.6L655.3 327.2Z" fill="#555"/><path d="M382.1 337.7L382.2 337.8" stroke="#999" stroke-width="0.60"/><path d="M383.1 338.3L381.4 338.1L382.1 336.9Z" fill="#999"/><path d="M393.2 337.7L393.3 337.8" stroke="#999" stroke-width="0.60"/><path d="M394.2 338.3L392.5 338.1L393.2 336.9Z" fill="#999"/><path d="M404.3 337.7L404.4 337.8" stroke="#999" stroke-width="0.60"/><path d="M405.3 338.3L403.6 338.1L404.3 336.9Z" fill="#999"/><path d="M415.4 337.7L415.5 337.8" stroke="#999" stroke-width="0.60"/><path d="M416.4 338.3L414.7 338.1L415.4 336.9Z" fill="#999"/><path d="M426.5 337.7L426.6 337.8" stroke="#999" stroke-width="0.60"/><path d="M427.5 338.3L425.8 338.1L426.5 336.9Z" fill="#999"/><path d="M437.6 337.7L437.7 337.8" stroke="#999" stroke-width="0.60"/><path d="M438.6 338.3L436.9 338.1L437.6 336.9Z" fill="#999"/><path d="M448.8 337.7L448.8 337.8" stroke="#999" stroke-width="0.60"/><path d="M449.8 338.3L448.0 338.1L448.7 336.9Z" fill="#999"/><path d="M459.8 337.7L459.9 337.8" stroke="#999" stroke-width="0.60"/><path d="M460.8 338.3L459.1 338.1L459.8 336.9Z" fill="#999"/><path d="M470.9 337.7L471.0 337.8" stroke="#999" stroke-width="0.60"/><path d="M471.9 338.3L470.2 338.1L470.9 336.9Z" fill="#999"/><path d="M482.0 337.7L482.1 337.8" stroke="#999" stroke-width="0.60"/><path d="M483.0 338.3L481.3 338.1L482.0 336.9Z" fill="#999"/><path d="M493.1 337.7L493.2 337.8" stroke="#999" stroke-width="0.60"/><path d="M494.1 338.3L492.4 338.1L493.1 336.9Z" fill="#999"/><path d="M504.2 337.7L504.3 337.8" stroke="#999" stroke-width="0.60"/><path d="M505.2 338.3L503.5 338.1L504.2 336.9Z" fill="#999"/><path d="M515.3 337.7L515.4 337.8" stroke="#999" stroke-width="0.60"/><path d="M516.3 338.3L514.6 338.1L515.3 336.9Z" fill="#999"/><path d="M526.4 337.7L526.5 337.8" stroke="#999" stroke-width="0.60"/><path d="M527.4 338.3L525.7 338.1L526.4 336.9Z" fill="#999"/><path d="M537.5 337.7L537.6 337.8" stroke="#999" stroke-width="0.60"/><path d="M538.5 338.3L536.8 338.1L537.5 336.9Z" fill="#999"/><path d="M548.4 337.3L548.7 337.7" stroke="#555" stroke-width="0.60"/><path d="M549.9 338.7L547.8 338.0L548.9 336.7Z" fill="#555"/><path d="M559.5 337.3L559.8 337.7" stroke="#555" stroke-width="0.60"/><path d="M561.0 338.7L558.9 338.0L560.0 336.7Z" fill="#555"/><path d="M570.5 337.3L570.9 337.7" stroke="#555" stroke-width="0.60"/><path d="M572.1 338.7L570.0 338.0L571.1 336.7Z" fill="#555"/><path d="M581.6 337.3L582.0 337.7" stroke="#555" stroke-width="0.60"/><path d="M583.2 338.7L581.1 338.0L582.2 336.7Z" fill="#555"/><path d="M592.8 337.3L593.1 337.7" stroke="#555" stroke-width="0.60"/><path d="M594.3 338.7L592.2 338.0L593.3 336.7Z" fill="#555"/><path d="M603.9 337.3L604.2 337.7" stroke="#555" stroke-width="0.60"/><path d="M605.4 338.7L603.3 338.0L604.4 336.7Z" fill="#555"/><path d="M615.0 337.3L615.3 337.7" stroke="#555" stroke-width="0.60"/><path d="M616.5 338.7L614.4 338.0L615.5 336.7Z" fill="#555"/><path d="M626.0 337.3L626.4 337.7" stroke="#555" stroke-width="0.60"/><path d="M627.6 338.7L625.5 338.0L626.6 336.7Z" fill="#555"/><path d="M637.1 337.3L637.5 337.7" stroke="#555" stroke-width="0.60"/><path d="M638.7 338.7L636.6 338.0L637.7 336.7Z" fill="#555"/><path d="M648.2 337.3L648.6 337.7" stroke="#555" stroke-width="0.60"/><path d="M649.8 338.7L647.7 338.0L648.8 336.7Z" fill="#555"/><path d="M374.4 347.9L377.4 347.6" stroke="#000" stroke-width="1.23"/><path d="M381.7 347.1L377.1 349.6L376.7 345.7Z"/><path d="M392.2 347.5L390.1 347.5" stroke="#000" stroke-width="1.14"/><path d="M386.2 347.5L390.6 345.7L390.6 349.3Z"/><path d="M400.2 351.1L400.2 348.2" stroke="#000" stroke-width="1.22"/><path d="M400.2 343.9L402.2 348.7L398.3 348.7Z"/><path d="M410.2 347.3L410.7 347.4" stroke="#555" stroke-width="0.60"/><path d="M412.5 347.7L410.1 348.2L410.4 346.4Z" fill="#555"/><path d="M421.3 347.3L421.8 347.4" stroke="#555" stroke-width="0.60"/><path d="M423.6 347.7L421.2 348.2L421.5 346.4Z" fill="#555"/><path d="M432.4 347.3L432.9 347.4" stroke="#555" stroke-width="0.60"/><path d="M434.7 347.7L432.3 348.2L432.6 346.4Z" fill="#555"/><path d="M443.5 347.3L444.0 347.4" stroke="#555" stroke-width="0.60"/><path d="M445.8 347.7L443.4 348.2L443.7 346.4Z" fill="#555"/><path d="M454.6 347.3L455.1 347.4" stroke="#555" stroke-width="0.60"/><path d="M456.9 347.7L454.5 348.2L454.8 346.4Z" fill="#555"/><path d="M466.1 345.1L466.5 346.4" stroke="#000" stroke-width="1.08"/><path d="M467.6 349.9L464.7 346.4L468.0 345.4Z"/><path d="M476.8 347.3L477.3 347.4" stroke="#555" stroke-width="0.60"/><path d="M479.1 347.7L476.7 348.2L477.0 346.4Z" fill="#555"/><path d="M487.9 347.3L488.4 347.4" stroke="#555" stroke-width="0.60"/><path d="M490.2 347.7L487.8 348.2L488.1 346.4Z" fill="#555"/><path d="M499.0 347.3L499.5 347.4" stroke="#555" stroke-width="0.60"/><path d="M501.2 347.7L498.9 348.2L499.2 346.4Z" fill="#555"/><path d="M510.1 347.3L510.6 347.4" stroke="#555" stroke-width="0.60"/><path d="M512.4 347.7L510.0 348.2L510.3 346.4Z" fill="#555"/><path d="M521.2 347.3L521.7 347.4" stroke="#555" stroke-width="0.60"/><path d="M523.5 347.7L521.1 348.2L521.4 346.4Z" fill="#555"/><path d="M532.4 347.3L532.8 347.4" stroke="#555" stroke-width="0.60"/><path d="M534.6 347.7L532.2 348.2L532.5 346.4Z" fill="#555"/><path d="M543.4 347.3L543.9 347.4" stroke="#555" stroke-width="0.60"/><path d="M545.6 347.7L543.3 348.2L543.6 346.4Z" fill="#555"/><path d="M554.5 347.3L555.0 347.4" stroke="#555" stroke-width="0.60"/><path d="M556.8 347.7L554.4 348.2L554.7 346.4Z" fill="#555"/><path d="M565.6 347.3L566.1 347.4" stroke="#555" stroke-width="0.60"/><path d="M567.9 347.7L565.5 348.2L565.8 346.4Z" fill="#555"/><path d="M576.8 347.3L577.2 347.4" stroke="#555" stroke-width="0.60"/><path d="M579.0 347.7L576.6 348.2L576.9 346.4Z" fill="#555"/><path d="M587.9 347.3L588.3 347.4" stroke="#555" stroke-width="0.60"/><path d="M590.1 347.7L587.7 348.2L588.0 346.4Z" fill="#555"/><path d="M598.9 347.3L599.4 347.4" stroke="#555" stroke-width="0.60"/><path d="M601.1 347.7L598.8 348.2L599.1 346.4Z" fill="#555"/><path d="M610.0 347.3L610.5 347.4" stroke="#555" stroke-width="0.60"/><path d="M612.2 347.7L609.9 348.2L610.2 346.4Z" fill="#555"/><path d="M621.1 347.3L621.6 347.4" stroke="#555" stroke-width="0.60"/><path d="M623.4 347.7L621.0 348.2L621.3 346.4Z" fill="#555"/><path d="M632.2 347.3L632.7 347.4" stroke="#555" stroke-width="0.60"/><path d="M634.5 347.7L632.1 348.2L632.4 346.4Z" fill="#555"/><path d="M643.4 347.3L643.8 347.4" stroke="#555" stroke-width="0.60"/><path d="M645.6 347.7L643.2 348.2L643.5 346.4Z" fill="#555"/><path d="M654.8 343.9L655.4 346.9" stroke="#000" stroke-width="1.23"/><path d="M656.3 351.1L653.4 346.8L657.3 346.0Z"/><path d="M564.5 243.8L571.4 244.4L571.3 246.3L578.1 244.1L571.7 240.9L571.6 242.8L564.7 242.1Z" stroke="#fff" stroke-width="0.35"/><path d="M472.4 253.0L477.5 253.7L477.3 255.4L483.4 253.7L477.9 250.5L477.7 252.2L472.5 251.6Z" stroke="#fff" stroke-width="0.35"/><path d="M480.5 253.6L490.5 254.0L490.5 255.9L497.6 253.3L490.7 250.2L490.6 252.1L480.6 251.8Z" stroke="#fff" stroke-width="0.35"/><path d="M491.6 253.7L501.6 254.0L501.6 255.9L508.6 253.2L501.7 250.2L501.7 252.1L491.7 251.8Z" stroke="#fff" stroke-width="0.35"/><path d="M502.2 253.7L513.2 254.0L513.2 255.9L520.2 253.2L513.3 250.2L513.3 252.1L502.3 251.8Z" stroke="#fff" stroke-width="0.35"/><path d="M512.4 254.0L525.4 254.0L525.4 255.9L532.4 253.0L525.4 250.1L525.4 252.0L512.4 252.0Z" stroke="#fff" stroke-width="0.35"/><path d="M521.4 253.6L538.4 254.3L538.3 256.1L545.5 253.5L538.6 250.3L538.5 252.1L521.5 251.4Z" stroke="#fff" stroke-width="0.35"/><path d="M531.9 252.1L550.0 255.0L549.7 256.7L557.0 255.0L550.6 251.1L550.3 252.8L532.2 249.9Z" stroke="#fff" stroke-width="0.35"/><path d="M537.5 251.3L566.6 255.8L566.3 257.5L573.6 255.8L567.2 251.9L566.9 253.6L537.8 249.2Z" stroke="#fff" stroke-width="0.35"/><path d="M554.1 251.8L572.2 255.1L571.8 256.9L579.2 255.3L572.9 251.2L572.6 253.0L554.4 249.6Z" stroke="#fff" stroke-width="0.35"/><path d="M375.0 264.6L383.7 263.2L384.0 265.1L390.4 261.2L383.1 259.5L383.4 261.4L374.7 262.8Z" stroke="#fff" stroke-width="0.35"/><path d="M386.6 264.3L394.3 263.2L394.5 265.2L401.1 261.4L393.8 259.6L394.0 261.6L386.3 262.6Z" stroke="#fff" stroke-width="0.35"/><path d="M396.1 264.1L406.8 263.2L407.0 265.2L413.7 261.7L406.5 259.4L406.6 261.3L395.9 262.3Z" stroke="#fff" stroke-width="0.35"/><path d="M453.5 262.8L460.4 263.3L460.3 265.2L467.1 262.9L460.7 259.8L460.6 261.6L453.7 261.1Z" stroke="#fff" stroke-width="0.35"/><path d="M462.3 260.2L473.4 264.2L472.7 266.0L480.3 265.6L474.7 260.5L474.0 262.3L462.9 258.4Z" stroke="#fff" stroke-width="0.35"/><path d="M475.9 259.5L482.4 263.4L481.4 265.1L488.8 266.1L484.3 260.2L483.3 261.9L476.7 258.1Z" stroke="#fff" stroke-width="0.35"/><path d="M486.1 263.3L494.1 263.3L494.1 265.3L501.1 262.4L494.1 259.6L494.1 261.6L486.1 261.6Z" stroke="#fff" stroke-width="0.35"/><path d="M496.2 263.4L506.2 263.4L506.2 265.3L513.2 262.4L506.2 259.6L506.2 261.5L496.2 261.5Z" stroke="#fff" stroke-width="0.35"/><path d="M506.8 263.2L517.8 263.5L517.8 265.4L524.8 262.7L517.9 259.6L517.9 261.5L506.9 261.2Z" stroke="#fff" stroke-width="0.35"/><path d="M515.9 262.5L530.9 263.9L530.7 265.7L537.9 263.4L531.2 260.0L531.1 261.7L516.0 260.4Z" stroke="#fff" stroke-width="0.35"/><path d="M522.9 262.0L546.0 264.3L545.8 266.1L553.0 263.9L546.4 260.4L546.2 262.2L523.2 259.9Z" stroke="#fff" stroke-width="0.35"/><path d="M529.0 261.0L562.1 265.2L561.8 266.9L569.1 264.9L562.6 261.2L562.3 263.0L529.3 258.9Z" stroke="#fff" stroke-width="0.35"/><path d="M544.9 258.5L568.3 266.3L567.7 268.0L575.2 267.4L569.5 262.5L569.0 264.2L545.6 256.4Z" stroke="#fff" stroke-width="0.35"/><path d="M563.6 259.6L572.0 263.8L571.1 265.5L578.6 266.1L573.7 260.4L572.8 262.2L564.5 258.0Z" stroke="#fff" stroke-width="0.35"/><path d="M372.5 274.0L378.0 272.7L378.4 274.4L383.8 270.5L377.3 269.5L377.7 271.2L372.1 272.5Z" stroke="#fff" stroke-width="0.35"/><path d="M394.0 273.1L400.2 272.7L400.3 274.5L406.5 271.5L400.0 269.3L400.1 271.1L394.0 271.5Z" stroke="#fff" stroke-width="0.35"/><path d="M403.6 273.0L412.2 272.8L412.2 274.7L419.2 271.7L412.1 269.0L412.1 271.0L403.5 271.2Z" stroke="#fff" stroke-width="0.35"/><path d="M495.0 269.2L499.5 272.4L498.5 273.8L504.8 275.2L501.4 269.7L500.4 271.1L495.9 267.9Z" stroke="#fff" stroke-width="0.35"/><path d="M506.0 268.3L510.7 272.5L509.5 273.8L516.0 276.1L512.9 269.9L511.7 271.3L507.1 267.1Z" stroke="#fff" stroke-width="0.35"/><path d="M527.6 266.7L533.3 273.0L531.8 274.4L538.7 277.6L536.1 270.5L534.6 271.9L528.9 265.6Z" stroke="#fff" stroke-width="0.35"/><path d="M537.8 268.2L544.6 273.0L543.4 274.6L550.8 276.3L546.7 269.9L545.6 271.6L538.8 266.8Z" stroke="#fff" stroke-width="0.35"/><path d="M547.4 268.3L556.9 273.7L555.9 275.4L563.4 276.3L558.8 270.4L557.8 272.0L548.3 266.7Z" stroke="#fff" stroke-width="0.35"/><path d="M610.0 282.1L615.5 282.1L615.5 283.8L621.5 281.4L615.5 278.9L615.5 280.6L610.0 280.6Z" stroke="#fff" stroke-width="0.35"/><path d="M393.7 289.2L400.1 291.6L399.4 293.4L406.5 293.2L401.3 288.3L400.6 290.1L394.3 287.6Z" stroke="#fff" stroke-width="0.35"/><path d="M551.9 286.3L554.9 291.0L553.4 291.9L558.8 295.7L557.6 289.2L556.1 290.2L553.1 285.5Z" stroke="#fff" stroke-width="0.35"/><path d="M389.2 296.4L393.1 300.6L391.7 301.8L397.8 304.6L395.5 298.4L394.2 299.6L390.3 295.3Z" stroke="#fff" stroke-width="0.35"/><path d="M399.8 296.2L404.3 300.8L403.0 302.1L409.3 304.9L406.7 298.4L405.4 299.7L400.9 295.1Z" stroke="#fff" stroke-width="0.35"/>
<path d="M501.6 288.5C500.6 288.4 496.8 288.2 495.4 288.5C493.9 288.7 493.7 289.5 492.9 290.0C492.1 290.5 491.2 291.0 490.4 291.4C489.6 291.9 488.6 292.2 487.9 292.6C487.3 293.1 486.7 293.6 486.5 294.1C486.4 294.7 487.1 295.3 486.9 295.9C486.8 296.5 485.7 297.1 485.5 297.6C485.4 298.1 485.6 298.8 486.1 299.1C486.7 299.4 488.0 299.2 488.9 299.3C489.9 299.4 491.0 299.6 491.9 299.9C492.8 300.2 493.6 300.7 494.4 301.3C495.2 301.9 496.0 302.7 496.9 303.5C497.8 304.2 498.7 305.0 499.8 305.7C501.0 306.5 502.5 307.4 503.8 308.1C505.1 308.8 506.5 309.5 507.8 310.0C509.1 310.5 510.3 310.9 511.8 311.2C513.3 311.5 515.2 311.6 516.7 311.6C518.3 311.6 520.0 311.3 521.2 311.0C522.4 310.7 522.9 310.1 523.7 309.7C524.4 309.4 525.0 308.8 525.7 308.8C526.3 308.8 526.9 309.2 527.7 309.6C528.4 310.0 529.2 310.7 530.1 311.1C531.0 311.5 532.2 312.0 533.1 312.1C534.0 312.2 534.9 312.0 535.6 311.5C536.3 311.0 536.9 310.0 537.4 309.2C537.8 308.4 538.0 307.5 538.4 306.6C538.8 305.8 539.6 304.9 539.8 304.1C539.9 303.2 539.7 302.4 539.4 301.6C539.0 300.8 538.0 299.9 537.6 299.1C537.2 298.3 537.4 297.4 536.8 296.6C536.2 295.9 535.1 295.1 534.1 294.5C533.2 293.9 532.2 293.2 531.1 292.9C530.1 292.7 528.7 292.6 527.7 292.8C526.6 293.0 525.5 293.5 525.1 294.1C524.6 294.7 525.5 296.1 525.1 296.5C524.6 296.9 523.0 297.0 522.3 296.6C521.6 296.3 521.5 294.9 520.9 294.4C520.3 294.0 519.7 293.8 518.7 293.8C517.7 293.8 516.2 294.1 514.7 294.4C513.3 294.8 511.4 295.5 509.8 295.9C508.1 296.4 506.5 296.9 504.8 297.1C503.2 297.3 501.2 297.2 499.8 296.9C498.5 296.6 497.4 296.1 496.6 295.5C495.7 294.9 495.0 293.9 494.7 293.1C494.3 292.4 494.3 291.6 494.5 291.0C494.7 290.3 494.7 289.5 495.9 289.2C497.1 288.8 500.7 289.0 501.6 288.9C502.6 288.8 502.7 288.5 501.6 288.5Z" fill="none" stroke="#A020F0" stroke-width="1.75" stroke-linejoin="round"/>
<ellipse cx="481.3" cy="301.1" rx="2.0" ry="1.1" fill="#A020F0"/>
</g>
<path d="M375.20 355.60v7.5M391.05 355.60v3.4M406.90 355.60v3.4M422.75 355.60v7.5M438.60 355.60v3.4M454.45 355.60v3.4M470.30 355.60v7.5M486.15 355.60v3.4M502.00 355.60v3.4M517.85 355.60v7.5M533.70 355.60v3.4M549.55 355.60v3.4M565.40 355.60v7.5M581.25 355.60v3.4M597.10 355.60v3.4M612.95 355.60v7.5M628.80 355.60v3.4M644.65 355.60v3.4M660.50 355.60v7.5M375.20 355.60h-7.5M375.20 339.77h-3.7M375.20 323.95h-7.5M375.20 308.12h-3.7M375.20 292.30h-7.5M375.20 276.48h-3.7M375.20 260.65h-7.5M375.20 244.82h-3.7M375.20 229.00h-7.5" stroke="#000" stroke-width="1.1" fill="none"/>
<rect x="375.20" y="229.00" width="285.30" height="126.60" fill="none" stroke="#000" stroke-width="1.3"/>
<text x="364.7" y="233.7" text-anchor="end" font-size="13">80<tspan font-size="6.5" dy="-5.5">o</tspan><tspan dy="5.5">N</tspan></text>
<text x="364.7" y="265.3" text-anchor="end" font-size="13">60<tspan font-size="6.5" dy="-5.5">o</tspan><tspan dy="5.5">N</tspan></text>
<text x="364.7" y="297.0" text-anchor="end" font-size="13">40<tspan font-size="6.5" dy="-5.5">o</tspan><tspan dy="5.5">N</tspan></text>
<text x="364.7" y="328.6" text-anchor="end" font-size="13">20<tspan font-size="6.5" dy="-5.5">o</tspan><tspan dy="5.5">N</tspan></text>
<text x="364.7" y="360.3" text-anchor="end" font-size="13">EQ</text>
<text x="375.2" y="376.9" text-anchor="middle" font-size="13">0<tspan font-size="6.5" dy="-5.5">o</tspan></text>
<text x="422.8" y="376.9" text-anchor="middle" font-size="13">30<tspan font-size="6.5" dy="-5.5">o</tspan><tspan dy="5.5">E</tspan></text>
<text x="470.3" y="376.9" text-anchor="middle" font-size="13">60<tspan font-size="6.5" dy="-5.5">o</tspan><tspan dy="5.5">E</tspan></text>
<text x="517.9" y="376.9" text-anchor="middle" font-size="13">90<tspan font-size="6.5" dy="-5.5">o</tspan><tspan dy="5.5">E</tspan></text>
<text x="565.4" y="376.9" text-anchor="middle" font-size="13">120<tspan font-size="6.5" dy="-5.5">o</tspan><tspan dy="5.5">E</tspan></text>
<text x="613.0" y="376.9" text-anchor="middle" font-size="13">150<tspan font-size="6.5" dy="-5.5">o</tspan><tspan dy="5.5">E</tspan></text>
<text x="660.5" y="376.9" text-anchor="middle" font-size="13">180<tspan font-size="6.5" dy="-5.5">o</tspan></text>
<text x="374.7" y="226.1" font-size="12.4">(d) SF&amp;WAF 300hPa</text>
<clipPath id="clipe"><rect x="204.80" y="444.30" width="285.30" height="126.60"/></clipPath>
<g clip-path="url(#clipe)">
<path d="M202.9 470.7C204.7 474.9 209.9 468.3 213.4 467.0C216.8 465.6 220.3 464.1 223.8 462.8C227.3 461.5 230.4 460.1 234.2 459.0C238.1 458.0 241.9 457.1 246.8 456.5C251.6 455.9 257.9 455.7 263.5 455.5C269.0 455.3 274.6 455.5 280.2 455.5C285.7 455.5 291.3 455.5 296.9 455.5C302.4 455.5 308.7 455.8 313.6 455.5C318.4 455.1 322.6 454.4 326.1 453.4C329.6 452.4 332.3 451.1 334.4 449.2C336.5 447.3 360.5 443.1 338.6 441.9C316.7 440.7 225.5 437.1 202.9 441.9C180.3 446.7 201.2 466.5 202.9 470.7Z" fill="#E3F3FB" />
<path d="M202.9 465.3C205.0 468.6 211.6 463.0 215.4 461.7C219.3 460.5 222.0 458.9 225.9 457.6C229.7 456.3 233.9 454.9 238.4 454.0C242.9 453.2 247.4 452.7 253.0 452.4C258.6 452.0 265.2 452.0 271.8 451.9C278.4 451.9 286.4 452.0 292.7 451.9C298.9 451.8 304.5 451.9 309.4 451.3C314.3 450.7 319.1 449.7 321.9 448.2C324.7 446.6 345.9 443.0 326.1 441.9C306.3 440.9 223.4 438.0 202.9 441.9C182.4 445.8 200.8 462.0 202.9 465.3Z" fill="#C9E9F8" />
<path d="M202.9 461.1C204.7 463.7 209.9 458.9 213.4 457.6C216.8 456.3 220.3 454.6 223.8 453.4C227.3 452.2 230.4 451.1 234.2 450.3C238.1 449.5 242.6 449.0 246.8 448.6C250.9 448.2 255.8 448.9 259.3 447.8C262.8 446.6 277.0 442.9 267.6 441.9C258.2 440.9 213.7 438.7 202.9 441.9C192.1 445.1 201.2 458.5 202.9 461.1Z" fill="#A1D8F4" />
<path d="M202.9 456.1C204.3 458.1 208.5 454.9 211.3 454.0C214.0 453.1 216.8 451.7 219.6 450.7C222.4 449.7 225.2 448.9 228.0 448.2C230.7 447.4 234.1 447.1 236.3 446.1C238.6 445.0 247.1 442.6 241.5 441.9C236.0 441.2 209.3 439.5 202.9 441.9C196.5 444.3 201.5 454.1 202.9 456.1Z" fill="#6DB2E0" />
<path d="M202.9 451.5C204.1 452.8 208.0 450.6 210.2 449.8C212.5 449.1 214.7 448.2 216.5 446.9C218.2 445.6 222.9 442.7 220.7 441.9C218.4 441.1 205.9 440.3 202.9 441.9C200.0 443.5 201.7 450.2 202.9 451.5Z" fill="#448ACA" />
<path d="M287.5 512.9C288.2 510.5 291.8 508.7 294.8 506.6C297.7 504.5 301.7 502.3 305.2 500.4C308.7 498.5 312.2 496.7 315.6 495.1C319.1 493.6 322.6 492.5 326.1 491.0C329.6 489.4 332.9 487.3 336.5 485.8C340.2 484.2 344.7 484.4 348.0 481.6C351.3 478.8 352.9 471.0 356.4 469.1C359.8 467.1 365.0 469.4 368.9 470.1C372.7 470.8 376.4 471.7 379.3 473.2C382.3 474.8 385.2 477.1 386.6 479.5C388.0 481.9 388.2 485.1 387.7 487.8C387.1 490.6 385.6 493.8 383.5 496.2C381.4 498.6 377.1 499.7 375.1 502.5C373.2 505.2 373.1 509.6 372.0 512.9C371.0 516.2 370.8 519.9 368.9 522.3C367.0 524.7 364.0 526.2 360.5 527.1C357.0 528.0 350.1 527.7 348.0 527.9C345.9 528.2 349.6 528.2 348.0 528.6C346.4 528.9 342.3 529.3 338.6 530.0C335.0 530.7 329.9 532.1 326.1 532.7C322.3 533.4 319.1 533.9 315.6 533.8C312.2 533.6 308.3 532.7 305.2 531.7C302.1 530.6 299.3 529.2 296.9 527.5C294.4 525.8 292.2 523.7 290.6 521.2C289.0 518.8 286.8 515.3 287.5 512.9Z" fill="#E3F3FB" />
<path d="M313.6 506.6C314.8 504.3 318.8 502.0 321.9 499.9C325.0 497.9 328.9 495.7 332.3 494.1C335.8 492.5 339.8 493.9 342.8 490.3C345.8 486.7 347.9 475.6 350.3 472.5C352.7 469.4 354.6 471.7 357.3 471.6C360.0 471.6 363.8 471.6 366.7 472.2C369.6 472.8 372.6 473.9 374.9 475.0C377.2 476.1 379.5 477.4 380.7 479.0C381.9 480.6 382.3 482.9 381.9 484.9C381.5 486.8 380.1 489.1 378.4 490.7C376.6 492.2 374.1 493.4 371.4 494.2C368.7 495.0 364.9 495.4 362.0 495.4C359.1 495.4 356.3 494.6 353.8 494.1C351.3 493.6 349.5 489.4 347.0 492.5C344.5 495.6 341.4 508.8 338.6 512.9C335.8 517.0 333.0 516.3 330.3 517.1C327.5 517.8 324.5 518.0 321.9 517.5C319.3 517.0 316.0 515.7 314.6 513.9C313.2 512.1 312.3 509.0 313.6 506.6Z" fill="#C9E9F8" />
<path d="M358.5 482.6C358.9 481.0 360.2 478.9 362.0 477.9C363.8 476.9 366.9 476.5 369.0 476.7C371.1 476.9 373.7 477.8 374.9 479.0C376.1 480.2 376.4 482.1 376.0 483.7C375.6 485.3 374.2 487.3 372.5 488.4C370.8 489.5 367.6 490.2 365.5 490.1C363.4 490.0 360.9 489.1 359.7 487.8C358.5 486.6 358.1 484.2 358.5 482.6Z" fill="#A1D8F4" />
<path d="M240.5 526.5C240.8 525.1 244.3 523.1 246.8 522.3C249.2 521.5 253.2 521.1 255.1 521.7C257.0 522.2 258.6 524.1 258.2 525.4C257.9 526.7 255.3 528.7 253.0 529.6C250.8 530.5 246.8 531.2 244.7 530.6C242.6 530.1 240.1 527.9 240.5 526.5Z" fill="#E3F3FB" />
<path d="M217.5 546.3C217.9 544.9 221.4 542.3 223.8 541.7C226.2 541.1 230.1 541.8 232.1 542.5C234.2 543.3 236.7 545.0 236.3 546.3C236.0 547.5 232.5 549.4 230.1 550.1C227.6 550.7 223.8 550.7 221.7 550.1C219.6 549.4 217.2 547.7 217.5 546.3Z" fill="#E3F3FB" />
<path d="M377.2 533.8C380.4 531.3 385.6 527.5 389.8 525.4C393.9 523.3 397.8 521.9 402.3 521.2C406.8 520.5 412.7 520.7 416.9 521.2C421.1 521.8 425.1 522.6 427.3 524.4C429.6 526.1 430.8 529.4 430.5 531.7C430.1 533.9 428.2 536.2 425.2 537.9C422.3 539.7 416.9 540.7 412.7 542.1C408.5 543.5 404.4 544.9 400.2 546.3C396.0 547.7 391.5 549.4 387.7 550.5C383.8 551.5 380.4 552.9 377.2 552.6C374.1 552.2 369.9 550.5 368.9 548.4C367.8 546.3 369.6 542.5 371.0 540.0C372.4 537.6 374.1 536.2 377.2 533.8Z" fill="#E3F3FB" />
<path d="M451.5 458.0C444.8 459.3 452.8 463.3 453.5 466.0C454.2 468.7 454.9 472.0 456.0 474.0C457.1 476.0 458.5 476.8 460.0 478.0C461.5 479.2 463.0 480.0 465.0 481.0C467.0 482.0 469.7 483.2 472.0 484.0C474.3 484.8 476.7 485.4 479.0 486.0C481.3 486.6 483.5 487.0 486.0 487.5C488.5 488.0 492.7 493.7 494.0 488.8C495.3 483.9 501.1 463.1 494.0 458.0C486.9 452.9 458.2 456.7 451.5 458.0Z" fill="#E3F3FB" />
<path d="M455.0 458.0C449.0 460.3 456.8 468.8 458.0 472.0C459.2 475.2 460.8 476.0 462.5 477.5C464.2 479.0 465.8 479.8 468.0 480.8C470.2 481.8 473.3 482.8 476.0 483.6C478.7 484.4 481.0 484.9 484.0 485.4C487.0 485.9 492.3 491.4 494.0 486.8C495.7 482.2 500.5 462.8 494.0 458.0C487.5 453.2 461.0 455.7 455.0 458.0Z" fill="#C9E9F8" />
<path d="M458.0 458.0C452.5 460.4 459.8 469.3 461.0 472.5C462.2 475.7 463.7 475.8 465.5 477.0C467.3 478.2 469.6 479.1 472.0 480.0C474.4 480.9 476.3 481.6 480.0 482.4C483.7 483.2 491.7 488.9 494.0 484.8C496.3 480.7 500.0 462.5 494.0 458.0C488.0 453.5 463.5 455.6 458.0 458.0Z" fill="#A1D8F4" />
<path d="M461.0 458.0C456.0 460.4 462.7 469.4 464.0 472.5C465.3 475.6 467.0 475.5 469.0 476.6C471.0 477.7 473.5 478.3 476.0 479.0C478.5 479.7 481.0 480.2 484.0 480.8C487.0 481.4 492.3 486.4 494.0 482.6C495.7 478.8 499.5 462.1 494.0 458.0C488.5 453.9 466.0 455.6 461.0 458.0Z" fill="#6DB2E0" />
<path d="M464.0 458.0C459.6 460.5 466.0 469.8 467.5 472.8C469.0 475.8 470.9 475.3 473.0 476.2C475.1 477.1 476.5 477.3 480.0 478.0C483.5 478.7 491.7 483.7 494.0 480.4C496.3 477.1 499.0 461.7 494.0 458.0C489.0 454.3 468.4 455.5 464.0 458.0Z" fill="#448ACA" />
<path d="M468.0 458.0C464.3 460.5 470.3 470.1 472.0 473.0C473.7 475.9 475.8 475.0 478.0 475.6C480.2 476.2 482.3 476.2 485.0 476.6C487.7 477.0 492.5 481.1 494.0 478.0C495.5 474.9 498.3 461.3 494.0 458.0C489.7 454.7 471.7 455.5 468.0 458.0Z" fill="#2A5CAA" />
<path d="M224.8 480.5C225.0 477.6 226.1 475.5 228.0 473.2C229.9 471.0 232.8 468.7 236.3 467.0C239.8 465.2 244.0 463.8 248.8 462.8C253.7 461.8 259.6 461.2 265.5 461.1C271.5 461.0 278.4 461.7 284.3 462.4C290.2 463.0 295.8 463.9 301.0 464.9C306.3 465.8 311.5 467.0 315.6 468.0C319.8 469.1 323.6 469.9 326.1 471.1C328.5 472.4 329.9 473.7 330.3 475.3C330.6 476.9 329.9 478.8 328.2 480.5C326.4 482.3 323.0 484.0 319.8 485.8C316.7 487.5 313.2 489.2 309.4 491.0C305.6 492.7 301.4 494.6 296.9 496.2C292.3 497.8 287.1 499.1 282.2 500.4C277.4 501.6 272.5 502.6 267.6 503.5C262.8 504.4 257.5 505.4 253.0 505.6C248.5 505.8 244.0 505.6 240.5 504.5C237.0 503.5 234.4 501.6 232.1 499.3C229.9 497.1 228.1 494.1 226.9 491.0C225.7 487.8 224.7 483.5 224.8 480.5Z" fill="#FEF0B8" />
<path d="M229.0 481.6C229.2 479.1 230.2 476.5 232.1 474.3C234.1 472.0 237.0 469.6 240.5 468.0C244.0 466.4 248.5 465.6 253.0 464.9C257.5 464.2 262.4 463.8 267.6 463.8C272.8 463.8 279.1 464.3 284.3 464.9C289.6 465.5 294.4 466.4 298.9 467.4C303.5 468.4 308.0 469.6 311.5 470.7C315.0 471.9 318.8 472.8 319.8 474.3C320.9 475.7 319.5 477.8 317.7 479.5C316.0 481.2 312.9 482.8 309.4 484.7C305.9 486.6 301.4 489.1 296.9 491.0C292.3 492.9 287.1 494.7 282.2 496.2C277.4 497.7 272.5 499.0 267.6 499.9C262.8 500.9 257.2 502.0 253.0 502.0C248.8 502.1 245.5 501.5 242.6 500.4C239.6 499.2 237.2 497.1 235.3 495.1C233.4 493.2 232.1 491.1 231.1 488.9C230.1 486.6 228.8 484.0 229.0 481.6Z" fill="#FDD772" />
<path d="M233.2 481.6C233.4 479.7 234.6 477.2 236.3 475.3C238.1 473.4 240.5 471.5 243.6 470.1C246.8 468.7 250.8 467.7 255.1 467.0C259.5 466.3 264.8 465.9 269.7 465.9C274.6 466.0 279.8 466.7 284.3 467.4C288.9 468.1 293.0 469.1 296.9 470.1C300.7 471.1 304.9 472.1 307.3 473.2C309.7 474.4 311.5 475.6 311.5 477.0C311.5 478.4 309.7 479.9 307.3 481.6C304.9 483.2 300.7 485.0 296.9 486.8C293.0 488.6 288.9 490.8 284.3 492.4C279.8 494.1 274.2 495.6 269.7 496.6C265.2 497.7 261.0 498.6 257.2 498.7C253.4 498.8 249.7 498.3 246.8 497.2C243.8 496.2 241.4 494.2 239.4 492.4C237.5 490.7 236.3 488.6 235.3 486.8C234.2 485.0 233.0 483.5 233.2 481.6Z" fill="#FDAE35" />
<path d="M238.4 481.6C238.6 480.0 240.0 477.9 241.5 476.4C243.1 474.8 245.0 473.3 247.8 472.2C250.6 471.0 254.4 470.1 258.2 469.5C262.1 468.9 266.6 468.5 270.8 468.6C274.9 468.7 279.5 469.4 283.3 470.1C287.1 470.8 290.8 471.9 293.7 472.8C296.7 473.7 299.6 474.6 301.0 475.7C302.4 476.8 302.8 478.1 302.1 479.5C301.4 480.9 299.5 482.5 296.9 484.1C294.2 485.6 290.2 487.3 286.4 488.9C282.6 490.5 278.1 492.5 273.9 493.7C269.7 494.8 265.0 495.7 261.4 495.8C257.7 495.8 254.8 495.1 252.0 494.1C249.2 493.1 246.6 491.3 244.7 489.9C242.8 488.5 241.5 487.1 240.5 485.8C239.4 484.4 238.2 483.1 238.4 481.6Z" fill="#F68329" />
<path d="M244.7 481.6C244.9 480.3 246.2 478.3 247.8 477.0C249.4 475.7 251.6 474.5 254.1 473.6C256.5 472.7 259.3 472.0 262.4 471.6C265.5 471.1 269.4 470.9 272.8 471.1C276.3 471.3 280.2 472.1 283.3 472.8C286.4 473.5 289.6 474.4 291.6 475.3C293.7 476.3 295.5 477.2 295.8 478.4C296.2 479.7 295.3 481.2 293.7 482.6C292.2 484.0 289.4 485.5 286.4 486.8C283.5 488.1 279.5 489.4 276.0 490.3C272.5 491.3 268.8 492.3 265.5 492.4C262.2 492.5 258.8 491.8 256.1 491.0C253.5 490.1 251.5 488.5 249.9 487.4C248.2 486.4 247.2 485.7 246.3 484.7C245.5 483.7 244.4 482.9 244.7 481.6Z" fill="#E84F26" />
<path d="M252.0 481.2C252.0 479.8 253.5 478.4 255.1 477.4C256.7 476.4 258.6 475.5 261.4 474.9C264.2 474.3 268.3 473.8 271.8 473.9C275.3 473.9 279.5 474.7 282.2 475.3C285.0 476.0 287.3 476.8 288.5 477.8C289.7 478.8 290.1 480.0 289.6 481.2C289.0 482.3 287.5 483.6 285.4 484.7C283.3 485.8 280.0 487.0 277.0 487.8C274.1 488.6 270.4 489.4 267.6 489.5C264.8 489.6 262.4 489.0 260.3 488.3C258.2 487.6 256.5 486.5 255.1 485.3C253.7 484.2 252.0 482.5 252.0 481.2Z" fill="#D01F27" />
<path d="M202.9 508.3C204.3 505.4 208.8 508.8 211.3 509.8C213.7 510.7 216.1 512.4 217.5 513.9C219.0 515.5 220.0 517.4 220.0 519.2C220.0 520.9 219.0 523.2 217.5 524.4C216.1 525.6 213.7 526.0 211.3 526.5C208.8 526.9 204.3 529.9 202.9 526.9C201.5 523.9 201.5 511.2 202.9 508.3Z" fill="#FEF0B8" />
<path d="M202.9 512.5C204.1 510.8 208.3 513.0 210.2 513.9C212.1 514.9 214.0 516.7 214.4 518.1C214.7 519.5 214.2 521.3 212.3 522.3C210.4 523.2 204.5 525.4 202.9 523.7C201.3 522.1 201.7 514.1 202.9 512.5Z" fill="#FDD772" />
<path d="M358.4 441.9C342.6 443.4 363.8 448.3 365.5 451.0C367.3 453.7 367.4 455.9 369.0 458.0C370.6 460.0 372.6 461.9 374.9 463.3C377.2 464.7 380.1 465.2 383.0 466.2C385.9 467.2 389.7 467.7 392.4 469.1C395.1 470.5 397.6 472.1 399.4 474.4C401.1 476.7 401.9 479.9 402.9 482.6C403.9 485.3 404.0 488.4 405.2 490.7C406.4 493.0 407.7 494.9 409.9 496.6C412.1 498.4 415.1 500.0 418.1 501.2C421.1 502.4 424.3 502.7 428.0 503.9C431.6 505.2 436.5 506.7 439.9 508.7C443.2 510.7 445.1 514.6 448.2 516.0C451.3 517.5 454.8 517.7 458.6 517.5C462.5 517.3 467.3 515.7 471.2 515.0C475.0 514.2 477.8 513.5 481.6 512.9C485.4 512.3 492.1 513.6 494.1 511.2C496.2 508.9 495.9 501.2 494.1 498.7C492.4 496.2 487.2 497.1 483.7 496.2C480.2 495.3 477.1 494.3 473.3 493.1C469.4 491.8 464.6 490.6 460.7 488.9C456.9 487.1 453.8 485.2 450.3 482.6C446.8 480.0 443.0 476.3 439.9 473.2C436.7 470.2 431.5 467.2 431.5 464.5C431.5 461.7 436.7 458.8 439.9 456.9C443.0 455.1 446.8 454.2 450.3 453.4C453.8 452.6 459.0 453.8 460.7 451.9C462.5 450.0 477.8 443.6 460.7 441.9C443.7 440.2 374.3 440.4 358.4 441.9Z" fill="#FEF0B8" />
<path d="M367.8 441.9C352.9 443.2 370.0 447.3 371.4 449.8C372.7 452.4 374.2 455.0 376.0 456.9C377.7 458.9 379.5 460.2 381.8 461.5C384.2 462.9 387.0 463.8 390.0 465.1C392.9 466.3 396.8 467.5 399.4 469.1C401.9 470.6 403.6 472.2 405.2 474.5C406.8 476.7 407.8 480.1 408.8 482.6C409.7 485.1 409.9 487.6 411.0 489.5C412.2 491.4 413.9 492.5 415.8 494.1C417.8 495.7 419.8 497.7 422.7 498.9C425.7 500.1 430.2 500.2 433.6 501.4C437.0 502.6 440.2 504.3 443.0 506.0C445.8 507.7 447.7 510.5 450.3 511.8C452.9 513.2 455.3 514.0 458.6 513.9C462.0 513.8 466.8 512.4 470.1 511.2C473.4 510.0 476.8 508.1 478.5 506.6C480.1 505.2 480.8 504.0 479.9 502.5C479.1 500.9 476.1 498.8 473.3 497.2C470.4 495.7 466.3 494.6 462.8 493.1C459.3 491.5 455.7 489.9 452.4 487.8C449.1 485.8 445.9 483.1 443.0 480.5C440.0 477.9 437.1 474.8 434.6 472.2C432.2 469.6 428.0 467.7 428.4 464.9C428.7 462.1 433.4 457.7 436.7 455.5C440.0 453.3 444.2 452.4 448.2 451.5C452.2 450.6 458.6 451.9 460.7 450.3C462.8 448.7 476.2 443.3 460.7 441.9C445.3 440.5 382.7 440.6 367.8 441.9Z" fill="#FDD772" />
<path d="M374.3 441.9C360.6 443.2 376.8 447.5 378.3 449.8C379.7 452.1 381.3 454.0 383.1 455.7C384.8 457.4 386.6 458.9 388.9 460.3C391.2 461.6 394.3 462.6 397.1 463.8C399.8 465.0 402.9 465.8 405.2 467.4C407.5 468.9 409.5 470.9 411.0 473.2C412.6 475.6 413.4 478.8 414.6 481.4C415.8 483.9 416.6 486.5 418.1 488.5C419.7 490.4 421.8 491.8 424.0 493.1C426.2 494.3 428.9 495.1 431.5 495.8C434.2 496.5 437.5 497.2 439.9 497.2C442.2 497.3 444.3 496.9 445.7 496.2C447.1 495.5 448.1 494.5 448.2 493.1C448.3 491.7 447.5 489.8 446.1 487.8C444.7 485.9 441.4 483.3 439.9 481.6C438.3 479.8 438.3 479.3 436.7 477.4C435.2 475.5 432.4 472.5 430.5 470.1C428.5 467.7 424.7 465.9 425.2 463.2C425.8 460.5 430.1 456.2 433.6 454.0C437.1 451.8 441.6 450.8 446.1 449.8C450.6 448.9 458.3 449.9 460.7 448.6C463.2 447.3 475.1 443.0 460.7 441.9C446.3 440.8 388.0 440.6 374.3 441.9Z" fill="#FDAE35" />
<ellipse cx="458.2" cy="501.2" rx="8.8" ry="5.0" fill="#FDAE35" transform="rotate(22 458.2 501.2)"/>
<path d="M381.8 441.9C369.3 443.0 383.6 446.5 385.4 448.6C387.1 450.7 389.9 452.9 392.5 454.4C395.0 456.0 397.9 457.1 400.6 458.0C403.3 458.9 405.8 459.3 408.8 459.9C411.7 460.5 415.2 461.1 418.1 461.5C421.1 462.0 424.2 462.9 426.3 462.4C428.3 461.9 428.9 460.1 430.5 458.6C432.0 457.1 433.1 454.9 435.7 453.4C438.3 451.9 441.9 450.4 446.1 449.4C450.3 448.5 458.3 449.0 460.7 447.8C463.2 446.5 473.9 442.9 460.7 441.9C447.6 440.9 394.4 440.8 381.8 441.9Z" fill="#F68329" />
<ellipse cx="429.8" cy="482.0" rx="6.0" ry="3.8" fill="#F68329" transform="rotate(45 429.8 482.0)"/>
<ellipse cx="458.6" cy="501.0" rx="6.0" ry="3.4" fill="#F68329" transform="rotate(22 458.6 501.0)"/>
<path d="M394.8 441.9C384.4 442.9 396.7 446.1 398.3 447.5C399.9 449.0 402.0 449.7 404.2 450.5C406.3 451.2 408.3 451.6 411.0 452.1C413.8 452.7 417.6 453.6 420.4 454.0C423.3 454.5 425.8 455.2 428.4 454.9C430.9 454.5 432.7 453.0 435.7 451.9C438.6 450.9 441.9 449.4 446.1 448.6C450.3 447.8 458.3 448.0 460.7 446.9C463.2 445.8 471.7 442.7 460.7 441.9C449.7 441.1 405.2 441.0 394.8 441.9Z" fill="#E84F26" />
<path d="M405.2 441.9C396.7 442.7 407.8 445.7 410.0 446.9C412.2 448.1 415.2 448.5 418.1 449.2C421.1 449.9 425.0 451.0 428.0 451.1C430.9 451.2 432.7 450.5 435.7 449.8C438.7 449.2 441.9 448.0 446.1 447.3C450.3 446.6 458.3 446.6 460.7 445.7C463.2 444.8 470.0 442.5 460.7 441.9C451.5 441.3 413.7 441.1 405.2 441.9Z" fill="#D01F27" />
<path d="M377.2 506.6C378.3 505.7 380.7 504.9 383.5 504.5C386.3 504.2 390.6 504.2 393.9 504.5C397.2 504.9 401.2 505.8 403.3 506.6C405.4 507.5 407.0 508.5 406.5 509.8C405.9 511.0 403.0 512.9 400.2 513.9C397.4 515.0 392.9 516.0 389.8 516.0C386.6 516.0 383.5 514.9 381.4 513.9C379.3 513.0 377.9 511.6 377.2 510.4C376.5 509.2 376.2 507.6 377.2 506.6Z" fill="#FEF0B8" />
<path d="M202.9 441.9L335.5 441.9L331.3 451.3L321.9 454.0L313.6 456.5L288.5 454.9L263.5 454.4L246.8 456.5L234.2 459.7L221.7 464.9L211.3 467.4L202.9 466.5Z" fill="url(#hatch)" />
<path d="M231.7 482.6L234.2 475.3L241.5 469.1L254.1 465.3L268.7 464.3L284.3 465.5L298.9 468.0L311.5 471.1L318.8 474.9L316.7 479.1L309.0 484.3L296.9 490.3L282.2 495.8L267.6 499.5L253.4 501.4L243.0 499.7L236.3 494.7L232.6 488.9Z" fill="url(#hatch)" />
<path d="M202.9 510.4L210.8 511.2L216.5 515.0L218.4 519.2L216.5 523.3L210.8 525.4L202.9 525.8Z" fill="url(#hatch)" />
<path d="M286.4 512.9L296.9 504.5L309.4 497.2L321.9 491.0L334.4 485.8L348.0 481.6L348.0 471.1L360.5 470.1L375.1 473.2L385.6 480.5L385.6 492.0L377.2 501.4L371.4 512.9L368.5 521.7L360.5 526.3L348.0 527.1L348.0 531.7L330.3 533.8L313.6 533.8L298.9 529.6L290.6 522.3Z" fill="url(#hatch)" />
<path d="M202.9 536.9L217.5 535.9L230.1 527.5L236.3 523.3L246.8 520.2L257.2 516.0L262.4 517.1L261.4 523.3L255.1 531.7L246.8 537.9L255.1 544.2L267.6 548.4L280.2 549.4L292.7 552.6L305.2 550.5L317.7 548.4L330.3 542.1L340.7 537.9L348.0 536.9L348.0 523.3L360.5 527.5L371.0 533.8L381.4 529.6L393.9 523.3L406.5 520.2L419.0 520.8L429.4 525.4L430.5 533.8L423.2 539.0L410.6 543.2L406.5 548.4L416.9 556.7L425.2 565.1L430.5 573.4L201.9 573.4Z" fill="url(#hatch)" />
<path d="M371.0 441.9L460.7 441.9L460.7 450.3L431.5 464.9L441.9 475.3L454.5 485.8L467.0 493.1L481.6 498.3L481.6 512.9L469.1 515.0L456.6 516.0L446.1 513.9L437.8 506.6L427.3 502.5L416.9 499.3L410.6 494.1L407.5 484.7L403.3 475.3L392.9 467.0L381.4 461.7L374.1 452.4Z" fill="url(#hatch)" />
<path d="M378.3 506.6L383.5 505.2L393.9 505.2L402.7 507.0L405.4 509.8L399.8 513.3L389.8 515.2L381.8 513.3L378.3 510.4Z" fill="url(#hatch)" />
<path d="M456.0 466.0L458.0 474.0L463.0 479.0L470.0 482.5L479.0 485.0L494.0 487.5L494.0 466.0Z" fill="url(#hatch)" />
<path d="M205.7 449.3L207.5 447.7" stroke="#000" stroke-width="1.16"/><path d="M209.6 445.9L208.1 449.2L206.2 446.9Z"/><path d="M216.3 449.8L218.9 447.5" stroke="#000" stroke-width="1.29"/><path d="M221.2 445.4L219.6 449.0L217.4 446.6Z"/><path d="M227.5 450.0L230.0 447.4" stroke="#000" stroke-width="1.31"/><path d="M232.2 445.2L230.9 449.0L228.4 446.6Z"/><path d="M239.2 450.0L241.0 447.6" stroke="#000" stroke-width="1.24"/><path d="M242.7 445.2L242.0 448.9L239.4 447.1Z"/><path d="M251.8 450.0L252.0 447.8" stroke="#000" stroke-width="1.13"/><path d="M252.3 445.2L253.4 448.5L250.5 448.2Z"/><path d="M265.2 449.0L263.3 447.7" stroke="#000" stroke-width="1.14"/><path d="M261.1 446.2L264.6 446.8L262.9 449.2Z"/><path d="M277.2 448.1L274.2 447.6" stroke="#000" stroke-width="1.23"/><path d="M271.3 447.1L275.0 446.1L274.5 449.2Z"/><path d="M288.8 447.8L285.1 447.6" stroke="#000" stroke-width="1.32"/><path d="M281.9 447.4L285.7 445.9L285.5 449.3Z"/><path d="M300.2 447.7L296.0 447.6" stroke="#000" stroke-width="1.38"/><path d="M292.7 447.5L296.6 445.8L296.5 449.4Z"/><path d="M311.5 447.8L307.0 447.6" stroke="#000" stroke-width="1.42"/><path d="M303.6 447.4L307.6 445.8L307.4 449.4Z"/><path d="M322.8 448.0L318.1 447.5" stroke="#000" stroke-width="1.45"/><path d="M314.5 447.2L318.8 445.7L318.4 449.4Z"/><path d="M334.0 448.3L329.1 447.5" stroke="#000" stroke-width="1.47"/><path d="M325.5 446.9L329.9 445.7L329.3 449.4Z"/><path d="M345.2 448.7L340.1 447.4" stroke="#000" stroke-width="1.51"/><path d="M336.5 446.5L341.1 445.6L340.1 449.4Z"/><path d="M355.9 449.6L351.3 447.3" stroke="#000" stroke-width="1.50"/><path d="M347.9 445.6L352.6 445.8L350.9 449.2Z"/><path d="M367.9 449.3L362.0 447.2" stroke="#000" stroke-width="1.63"/><path d="M358.2 445.9L363.2 445.4L361.8 449.4Z"/><path d="M375.6 451.9L373.9 446.9" stroke="#000" stroke-width="1.51"/><path d="M372.6 443.4L375.9 446.7L372.2 448.0Z"/><path d="M389.9 450.0L384.3 447.1" stroke="#000" stroke-width="1.64"/><path d="M380.6 445.2L385.7 445.4L383.8 449.2Z"/><path d="M402.3 449.8L394.8 447.0" stroke="#000" stroke-width="1.84"/><path d="M390.4 445.4L396.1 445.0L394.4 449.4Z"/><path d="M412.4 448.0L406.4 447.5" stroke="#000" stroke-width="1.60"/><path d="M402.4 447.2L407.1 445.5L406.8 449.6Z"/><path d="M422.6 447.6L418.0 447.6" stroke="#000" stroke-width="1.42"/><path d="M414.6 447.6L418.5 445.8L418.5 449.4Z"/><path d="M435.6 447.9L428.2 447.5" stroke="#000" stroke-width="1.78"/><path d="M423.6 447.4L428.8 445.3L428.6 449.9Z"/><path d="M449.2 448.0L437.3 447.5" stroke="#000" stroke-width="2.00"/><path d="M432.2 447.2L438.0 444.9L437.7 450.1Z"/><path d="M458.9 446.9L449.9 447.8" stroke="#000" stroke-width="1.97"/><path d="M444.9 448.4L450.1 445.2L450.7 450.3Z"/><path d="M207.4 460.2L213.2 458.6" stroke="#000" stroke-width="1.60"/><path d="M217.1 457.5L213.3 460.7L212.2 456.7Z"/><path d="M218.5 460.2L224.3 458.6" stroke="#000" stroke-width="1.60"/><path d="M228.2 457.5L224.4 460.7L223.3 456.7Z"/><path d="M229.6 459.9L235.4 458.6" stroke="#000" stroke-width="1.60"/><path d="M239.3 457.8L235.4 460.8L234.5 456.7Z"/><path d="M240.6 459.5L246.5 458.7" stroke="#000" stroke-width="1.60"/><path d="M250.5 458.2L246.3 460.8L245.8 456.7Z"/><path d="M251.7 459.2L257.6 458.8" stroke="#000" stroke-width="1.60"/><path d="M261.6 458.5L257.3 460.9L257.0 456.8Z"/><path d="M262.8 459.0L268.7 458.8" stroke="#000" stroke-width="1.60"/><path d="M272.7 458.7L268.3 460.9L268.2 456.8Z"/><path d="M273.9 458.8L279.8 458.9" stroke="#000" stroke-width="1.60"/><path d="M283.8 458.9L279.3 460.9L279.4 456.8Z"/><path d="M285.0 458.7L290.9 458.9" stroke="#000" stroke-width="1.60"/><path d="M294.9 459.0L290.4 460.9L290.5 456.8Z"/><path d="M296.1 458.6L302.0 458.9" stroke="#000" stroke-width="1.60"/><path d="M306.0 459.1L301.5 460.9L301.6 456.8Z"/><path d="M307.2 458.6L313.1 458.9" stroke="#000" stroke-width="1.60"/><path d="M317.1 459.1L312.6 460.9L312.7 456.8Z"/><path d="M318.3 458.7L324.2 458.9" stroke="#000" stroke-width="1.60"/><path d="M328.2 459.0L323.7 460.9L323.8 456.8Z"/><path d="M329.4 458.8L335.3 458.9" stroke="#000" stroke-width="1.59"/><path d="M339.3 458.9L334.8 460.9L334.8 456.8Z"/><path d="M341.6 458.9L345.9 458.8" stroke="#000" stroke-width="1.39"/><path d="M349.3 458.8L345.4 460.6L345.4 457.1Z"/><path d="M356.5 461.1L356.5 459.2" stroke="#000" stroke-width="1.10"/><path d="M356.5 456.6L358.0 459.7L355.1 459.7Z"/><path d="M369.1 463.4L367.4 458.0" stroke="#000" stroke-width="1.55"/><path d="M366.1 454.4L369.4 457.9L365.6 459.1Z"/><path d="M382.8 460.6L378.1 458.6" stroke="#000" stroke-width="1.49"/><path d="M374.8 457.1L379.3 457.0L377.8 460.5Z"/><path d="M392.6 461.1L389.6 458.7" stroke="#000" stroke-width="1.34"/><path d="M387.1 456.6L391.1 457.7L388.9 460.3Z"/><path d="M404.0 461.1L400.6 458.6" stroke="#000" stroke-width="1.39"/><path d="M397.9 456.6L402.1 457.4L399.9 460.3Z"/><path d="M415.4 460.9L411.6 458.6" stroke="#000" stroke-width="1.41"/><path d="M408.7 456.8L413.0 457.3L411.1 460.4Z"/><path d="M427.0 459.9L422.7 458.7" stroke="#000" stroke-width="1.42"/><path d="M419.3 457.8L423.6 457.1L422.6 460.6Z"/><path d="M440.8 455.6L432.3 459.8" stroke="#000" stroke-width="2.00"/><path d="M427.8 462.2L431.6 457.3L433.9 461.9Z"/><path d="M453.4 456.0L442.1 460.0" stroke="#000" stroke-width="2.00"/><path d="M437.4 461.8L441.7 457.4L443.5 462.3Z"/><path d="M462.5 457.7L454.9 459.1" stroke="#000" stroke-width="1.81"/><path d="M450.4 460.0L455.0 456.7L455.8 461.4Z"/><path d="M203.0 470.0L208.6 468.0" stroke="#000" stroke-width="1.60"/><path d="M212.3 466.6L208.8 470.1L207.4 466.2Z"/><path d="M214.1 470.2L219.7 467.9" stroke="#000" stroke-width="1.60"/><path d="M223.4 466.4L220.0 470.0L218.4 466.2Z"/><path d="M225.2 470.1L230.8 467.9" stroke="#000" stroke-width="1.60"/><path d="M234.5 466.5L231.0 470.1L229.6 466.2Z"/><path d="M236.1 469.5L241.9 468.1" stroke="#000" stroke-width="1.60"/><path d="M245.8 467.1L241.9 470.2L240.9 466.2Z"/><path d="M247.1 468.9L253.0 468.2" stroke="#000" stroke-width="1.60"/><path d="M257.0 467.7L252.8 470.3L252.3 466.2Z"/><path d="M258.2 468.5L264.1 468.3" stroke="#000" stroke-width="1.60"/><path d="M268.1 468.1L263.8 470.3L263.5 466.2Z"/><path d="M269.3 468.3L275.2 468.3" stroke="#000" stroke-width="1.60"/><path d="M279.2 468.3L274.8 470.4L274.7 466.2Z"/><path d="M280.4 468.0L286.3 468.4" stroke="#000" stroke-width="1.60"/><path d="M290.3 468.6L285.7 470.4L286.0 466.3Z"/><path d="M291.5 467.6L297.4 468.4" stroke="#000" stroke-width="1.60"/><path d="M301.4 469.0L296.6 470.4L297.2 466.3Z"/><path d="M302.7 467.1L308.5 468.5" stroke="#000" stroke-width="1.60"/><path d="M312.4 469.5L307.6 470.4L308.5 466.4Z"/><path d="M314.1 466.8L319.5 468.6" stroke="#000" stroke-width="1.57"/><path d="M323.2 469.8L318.4 470.4L319.7 466.5Z"/><path d="M326.2 466.7L330.2 468.5" stroke="#000" stroke-width="1.40"/><path d="M333.3 469.9L329.0 469.9L330.5 466.6Z"/><path d="M338.6 466.2L340.9 468.3" stroke="#000" stroke-width="1.25"/><path d="M343.1 470.4L339.4 469.2L341.6 466.8Z"/><path d="M352.0 465.7L352.0 468.1" stroke="#000" stroke-width="1.16"/><path d="M351.9 470.9L350.5 467.6L353.5 467.7Z"/><path d="M366.8 468.3L362.7 468.3" stroke="#000" stroke-width="1.38"/><path d="M359.3 468.3L363.2 466.5L363.2 470.1Z"/><path d="M379.6 469.6L372.9 468.0" stroke="#000" stroke-width="1.72"/><path d="M368.6 467.1L373.9 466.0L372.9 470.3Z"/><path d="M389.9 470.3L384.3 467.9" stroke="#000" stroke-width="1.61"/><path d="M380.6 466.3L385.6 466.2L383.9 470.0Z"/><path d="M400.5 470.7L395.6 467.9" stroke="#000" stroke-width="1.55"/><path d="M392.2 465.9L397.0 466.4L395.0 469.9Z"/><path d="M407.9 471.3L407.4 468.2" stroke="#000" stroke-width="1.25"/><path d="M407.0 465.3L409.1 468.5L405.9 469.0Z"/><path d="M417.9 470.8L418.5 468.4" stroke="#000" stroke-width="1.17"/><path d="M419.2 465.8L419.9 469.3L416.9 468.6Z"/><path d="M433.3 463.6L428.8 469.5" stroke="#000" stroke-width="1.78"/><path d="M426.0 473.1L427.2 467.7L430.9 470.5Z"/><path d="M436.4 463.9L441.9 469.4" stroke="#000" stroke-width="1.82"/><path d="M445.1 472.7L439.8 470.7L443.2 467.4Z"/><path d="M449.0 462.4L452.6 469.9" stroke="#000" stroke-width="1.88"/><path d="M454.8 474.2L450.2 470.5L454.6 468.3Z"/><path d="M208.7 480.4L212.8 477.3" stroke="#000" stroke-width="1.49"/><path d="M215.8 475.1L213.6 479.2L211.2 476.1Z"/><path d="M219.6 481.1L224.1 477.1" stroke="#000" stroke-width="1.60"/><path d="M227.1 474.4L225.1 479.0L222.3 475.9Z"/><path d="M230.4 480.7L235.3 477.2" stroke="#000" stroke-width="1.60"/><path d="M238.5 474.8L236.1 479.1L233.6 475.8Z"/><path d="M240.9 479.6L246.5 477.4" stroke="#000" stroke-width="1.60"/><path d="M250.2 475.9L246.8 479.5L245.3 475.6Z"/><path d="M251.7 478.2L257.6 477.7" stroke="#000" stroke-width="1.60"/><path d="M261.6 477.3L257.3 479.8L257.0 475.6Z"/><path d="M263.1 477.3L268.6 477.8" stroke="#000" stroke-width="1.55"/><path d="M272.4 478.2L267.9 479.8L268.3 475.8Z"/><path d="M275.1 476.5L279.3 477.9" stroke="#000" stroke-width="1.41"/><path d="M282.6 479.0L278.3 479.5L279.4 476.0Z"/><path d="M287.4 475.4L290.1 477.9" stroke="#000" stroke-width="1.32"/><path d="M292.5 480.1L288.6 478.9L290.9 476.3Z"/><path d="M299.7 474.7L301.1 477.9" stroke="#000" stroke-width="1.30"/><path d="M302.4 480.8L299.4 478.2L302.5 476.8Z"/><path d="M311.8 474.5L312.2 477.9" stroke="#000" stroke-width="1.29"/><path d="M312.5 481.0L310.5 477.6L313.8 477.2Z"/><path d="M323.7 474.6L323.2 477.9" stroke="#000" stroke-width="1.28"/><path d="M322.8 480.9L321.7 477.2L324.9 477.6Z"/><path d="M335.6 474.6L334.3 478.0" stroke="#000" stroke-width="1.31"/><path d="M333.1 480.9L332.9 476.9L336.0 478.1Z"/><path d="M347.5 474.7L345.2 478.1" stroke="#000" stroke-width="1.36"/><path d="M343.4 480.8L344.1 476.6L347.0 478.6Z"/><path d="M359.3 475.4L356.3 478.0" stroke="#000" stroke-width="1.34"/><path d="M353.8 480.1L355.6 476.3L357.8 479.0Z"/><path d="M370.6 477.6L367.6 477.8" stroke="#000" stroke-width="1.24"/><path d="M364.7 477.9L368.0 476.1L368.2 479.3Z"/><path d="M380.6 480.1L378.7 477.7" stroke="#000" stroke-width="1.24"/><path d="M376.9 475.4L380.3 477.1L377.8 479.1Z"/><path d="M390.6 481.0L389.8 477.6" stroke="#000" stroke-width="1.29"/><path d="M389.1 474.5L391.5 477.7L388.3 478.4Z"/><path d="M402.7 482.8L400.6 476.7" stroke="#000" stroke-width="1.65"/><path d="M399.2 472.8L402.8 476.4L398.7 477.9Z"/><path d="M411.5 481.0L412.1 477.6" stroke="#000" stroke-width="1.30"/><path d="M412.6 474.5L413.6 478.3L410.4 477.8Z"/><path d="M421.7 480.0L423.1 477.9" stroke="#000" stroke-width="1.18"/><path d="M424.6 475.5L424.1 479.1L421.5 477.4Z"/><path d="M432.0 476.2L434.2 477.7" stroke="#000" stroke-width="1.20"/><path d="M436.5 479.3L432.9 478.7L434.7 476.2Z"/><path d="M440.2 472.7L446.8 479.2" stroke="#000" stroke-width="2.00"/><path d="M450.5 482.9L444.7 480.7L448.3 477.1Z"/><path d="M451.3 474.5L457.7 478.6" stroke="#000" stroke-width="1.79"/><path d="M461.6 481.1L456.0 480.3L458.6 476.3Z"/><path d="M461.5 475.3L469.1 478.4" stroke="#000" stroke-width="1.87"/><path d="M473.5 480.3L467.7 480.5L469.6 476.0Z"/><path d="M469.9 475.2L482.5 478.9" stroke="#000" stroke-width="2.00"/><path d="M487.4 480.3L481.3 481.2L482.7 476.3Z"/><path d="M206.6 490.1L207.7 487.1" stroke="#000" stroke-width="1.25"/><path d="M208.7 484.3L209.0 488.2L206.0 487.0Z"/><path d="M218.5 491.0L218.8 486.8" stroke="#000" stroke-width="1.39"/><path d="M219.0 483.4L220.5 487.4L217.0 487.1Z"/><path d="M230.5 491.6L229.7 486.5" stroke="#000" stroke-width="1.50"/><path d="M229.2 482.8L231.7 486.7L227.9 487.2Z"/><path d="M242.8 490.7L240.7 486.8" stroke="#000" stroke-width="1.40"/><path d="M239.1 483.7L242.6 486.4L239.4 488.1Z"/><path d="M255.5 487.8L251.8 487.2" stroke="#000" stroke-width="1.32"/><path d="M248.6 486.6L252.6 485.6L252.0 488.9Z"/><path d="M267.2 485.9L262.5 487.4" stroke="#000" stroke-width="1.47"/><path d="M259.1 488.5L262.4 485.4L263.6 489.0Z"/><path d="M278.7 485.5L273.4 487.5" stroke="#000" stroke-width="1.57"/><path d="M269.8 488.9L273.1 485.5L274.6 489.2Z"/><path d="M289.9 485.2L284.4 487.6" stroke="#000" stroke-width="1.60"/><path d="M280.8 489.2L284.0 485.5L285.7 489.3Z"/><path d="M300.7 484.8L295.6 487.7" stroke="#000" stroke-width="1.58"/><path d="M292.2 489.6L295.1 485.6L297.1 489.2Z"/><path d="M311.3 484.6L306.9 487.6" stroke="#000" stroke-width="1.51"/><path d="M303.8 489.8L306.2 485.7L308.4 489.0Z"/><path d="M321.9 484.6L318.2 487.6" stroke="#000" stroke-width="1.45"/><path d="M315.4 489.8L317.4 485.8L319.7 488.7Z"/><path d="M332.7 484.4L329.3 487.6" stroke="#000" stroke-width="1.44"/><path d="M326.8 490.0L328.4 485.9L331.0 488.6Z"/><path d="M343.5 484.2L340.5 487.6" stroke="#000" stroke-width="1.43"/><path d="M338.2 490.2L339.5 486.0L342.2 488.5Z"/><path d="M354.0 484.5L351.8 487.4" stroke="#000" stroke-width="1.31"/><path d="M349.9 489.9L350.8 485.9L353.4 488.0Z"/><path d="M364.7 486.2L363.4 487.0" stroke="#000" stroke-width="1.06"/><path d="M361.4 488.2L363.1 485.6L364.6 487.8Z"/><path d="M373.5 489.9L374.1 487.3" stroke="#000" stroke-width="1.19"/><path d="M374.8 484.5L375.5 488.1L372.5 487.4Z"/><path d="M384.8 491.5L385.3 486.6" stroke="#000" stroke-width="1.47"/><path d="M385.8 483.0L387.2 487.3L383.4 486.8Z"/><path d="M396.4 491.7L396.4 486.4" stroke="#000" stroke-width="1.51"/><path d="M396.4 482.7L398.3 486.9L394.4 486.9Z"/><path d="M407.7 490.6L407.4 487.0" stroke="#000" stroke-width="1.31"/><path d="M407.2 483.8L409.2 487.3L405.8 487.6Z"/><path d="M419.4 490.2L418.5 487.1" stroke="#000" stroke-width="1.26"/><path d="M417.7 484.2L420.2 487.1L417.1 488.0Z"/><path d="M430.6 489.0L429.8 487.6" stroke="#000" stroke-width="1.07"/><path d="M428.7 485.4L431.3 487.4L428.8 488.6Z"/><path d="M439.0 485.2L440.7 487.1" stroke="#000" stroke-width="1.19"/><path d="M442.5 489.2L439.2 487.7L441.5 485.7Z"/><path d="M448.9 484.7L452.2 487.5" stroke="#000" stroke-width="1.39"/><path d="M454.8 489.7L450.6 488.5L453.0 485.8Z"/><path d="M458.4 484.7L463.9 487.7" stroke="#000" stroke-width="1.63"/><path d="M467.4 489.7L462.4 489.3L464.5 485.6Z"/><path d="M466.7 485.0L476.5 487.9" stroke="#000" stroke-width="2.00"/><path d="M481.3 489.4L475.2 490.3L476.7 485.3Z"/><path d="M480.1 485.7L486.2 487.5" stroke="#000" stroke-width="1.64"/><path d="M490.1 488.7L485.1 489.4L486.3 485.3Z"/><path d="M213.7 499.1L212.3 496.7" stroke="#000" stroke-width="1.21"/><path d="M210.8 494.2L213.9 496.3L211.2 497.9Z"/><path d="M226.6 499.3L222.9 496.3" stroke="#000" stroke-width="1.46"/><path d="M220.1 494.0L224.4 495.1L222.1 498.0Z"/><path d="M239.0 498.7L233.5 496.2" stroke="#000" stroke-width="1.60"/><path d="M229.9 494.6L234.9 494.6L233.1 498.3Z"/><path d="M250.5 497.3L244.6 496.5" stroke="#000" stroke-width="1.60"/><path d="M240.6 496.0L245.3 494.5L244.8 498.6Z"/><path d="M261.6 496.1L255.7 496.8" stroke="#000" stroke-width="1.60"/><path d="M251.7 497.2L255.9 494.6L256.4 498.8Z"/><path d="M272.6 495.7L266.8 496.8" stroke="#000" stroke-width="1.60"/><path d="M262.9 497.6L266.8 494.7L267.7 498.8Z"/><path d="M283.7 495.5L277.9 496.9" stroke="#000" stroke-width="1.60"/><path d="M274.0 497.8L277.9 494.7L278.8 498.8Z"/><path d="M294.8 495.3L289.0 496.9" stroke="#000" stroke-width="1.60"/><path d="M285.1 498.0L288.9 494.8L290.0 498.8Z"/><path d="M305.4 495.0L300.3 496.9" stroke="#000" stroke-width="1.54"/><path d="M296.7 498.3L300.0 494.9L301.4 498.6Z"/><path d="M315.9 494.7L311.6 496.9" stroke="#000" stroke-width="1.47"/><path d="M308.4 498.6L311.1 495.0L312.9 498.4Z"/><path d="M326.7 494.3L322.8 497.0" stroke="#000" stroke-width="1.45"/><path d="M319.8 499.0L322.1 495.2L324.2 498.2Z"/><path d="M337.2 494.2L334.0 496.9" stroke="#000" stroke-width="1.38"/><path d="M331.5 499.1L333.3 495.2L335.6 498.0Z"/><path d="M347.0 494.4L345.5 496.6" stroke="#000" stroke-width="1.19"/><path d="M343.9 498.9L344.5 495.3L347.0 497.0Z"/><path d="M354.3 496.3L356.2 496.6" stroke="#000" stroke-width="1.10"/><path d="M358.8 497.0L355.5 497.9L356.0 495.1Z"/><path d="M364.9 498.3L367.8 496.6" stroke="#000" stroke-width="1.27"/><path d="M370.4 495.0L368.2 498.2L366.5 495.4Z"/><path d="M376.3 499.2L379.0 496.4" stroke="#000" stroke-width="1.34"/><path d="M381.2 494.1L379.8 498.0L377.4 495.6Z"/><path d="M387.9 499.3L390.0 496.5" stroke="#000" stroke-width="1.30"/><path d="M391.8 494.0L391.0 497.9L388.3 495.9Z"/><path d="M400.3 499.4L400.9 496.7" stroke="#000" stroke-width="1.21"/><path d="M401.6 493.9L402.3 497.5L399.3 496.8Z"/><path d="M413.7 499.1L412.0 496.6" stroke="#000" stroke-width="1.24"/><path d="M410.4 494.2L413.6 496.2L411.0 497.9Z"/><path d="M426.2 498.3L422.9 496.5" stroke="#000" stroke-width="1.32"/><path d="M420.1 495.0L424.2 495.3L422.5 498.3Z"/><path d="M437.6 497.6L434.0 496.6" stroke="#000" stroke-width="1.33"/><path d="M430.9 495.7L434.9 495.1L434.0 498.4Z"/><path d="M447.8 496.9L445.5 496.7" stroke="#000" stroke-width="1.15"/><path d="M442.9 496.4L446.2 495.3L445.9 498.2Z"/><path d="M454.4 495.0L456.3 496.6" stroke="#000" stroke-width="1.18"/><path d="M458.5 498.3L455.0 497.4L456.9 495.1Z"/><path d="M464.4 494.5L467.9 496.9" stroke="#000" stroke-width="1.40"/><path d="M470.7 498.8L466.5 498.1L468.5 495.1Z"/><path d="M475.7 494.6L478.9 496.8" stroke="#000" stroke-width="1.35"/><path d="M481.6 498.7L477.5 498.0L479.5 495.1Z"/><path d="M205.2 507.0L207.5 506.1" stroke="#000" stroke-width="1.18"/><path d="M210.1 505.2L207.6 507.7L206.5 504.9Z"/><path d="M220.8 505.5L219.1 506.0" stroke="#000" stroke-width="1.09"/><path d="M216.7 506.7L219.2 504.5L220.0 507.2Z"/><path d="M233.6 507.0L229.4 506.0" stroke="#000" stroke-width="1.40"/><path d="M226.1 505.2L230.3 504.4L229.5 507.9Z"/><path d="M245.7 506.6L240.1 506.0" stroke="#000" stroke-width="1.56"/><path d="M236.2 505.6L240.8 504.1L240.3 508.1Z"/><path d="M257.0 505.8L251.1 506.2" stroke="#000" stroke-width="1.60"/><path d="M247.1 506.4L251.4 504.1L251.7 508.2Z"/><path d="M267.7 505.4L262.3 506.2" stroke="#000" stroke-width="1.53"/><path d="M258.6 506.8L262.5 504.2L263.1 508.1Z"/><path d="M278.2 505.3L273.7 506.2" stroke="#000" stroke-width="1.43"/><path d="M270.3 506.9L273.9 504.3L274.6 507.9Z"/><path d="M288.8 505.3L285.1 506.2" stroke="#000" stroke-width="1.34"/><path d="M281.9 506.9L285.2 504.4L285.9 507.7Z"/><path d="M299.5 504.9L296.3 506.2" stroke="#000" stroke-width="1.28"/><path d="M293.4 507.3L296.2 504.4L297.4 507.5Z"/><path d="M310.3 504.3L307.4 506.2" stroke="#000" stroke-width="1.30"/><path d="M304.8 507.9L306.9 504.5L308.7 507.3Z"/><path d="M321.2 503.8L318.5 506.3" stroke="#000" stroke-width="1.32"/><path d="M316.1 508.4L317.7 504.7L320.0 507.2Z"/><path d="M331.7 504.0L329.8 506.1" stroke="#000" stroke-width="1.21"/><path d="M327.8 508.2L329.0 504.6L331.3 506.8Z"/><path d="M339.2 505.3L340.4 505.9" stroke="#000" stroke-width="1.04"/><path d="M342.5 506.9L339.4 506.9L340.5 504.5Z"/><path d="M349.1 507.1L352.0 506.1" stroke="#000" stroke-width="1.24"/><path d="M354.8 505.1L352.0 507.8L351.0 504.8Z"/><path d="M359.9 507.5L363.3 506.0" stroke="#000" stroke-width="1.32"/><path d="M366.2 504.7L363.5 507.7L362.1 504.7Z"/><path d="M371.5 508.2L374.3 506.0" stroke="#000" stroke-width="1.31"/><path d="M376.8 504.0L375.0 507.6L372.9 504.9Z"/><path d="M383.3 508.8L385.4 505.9" stroke="#000" stroke-width="1.30"/><path d="M387.2 503.4L386.4 507.3L383.7 505.4Z"/><path d="M394.7 507.7L396.2 506.3" stroke="#000" stroke-width="1.12"/><path d="M398.0 504.5L396.8 507.7L394.8 505.6Z"/><path d="M409.5 506.1L407.9 506.1" stroke="#000" stroke-width="1.06"/><path d="M405.4 506.1L408.4 504.7L408.4 507.5Z"/><path d="M421.4 506.6L418.5 506.1" stroke="#000" stroke-width="1.23"/><path d="M415.7 505.6L419.3 504.6L418.8 507.7Z"/><path d="M433.3 506.5L429.3 506.1" stroke="#000" stroke-width="1.35"/><path d="M426.0 505.7L430.0 504.4L429.6 507.8Z"/><path d="M444.9 506.9L440.1 506.0" stroke="#000" stroke-width="1.46"/><path d="M436.6 505.3L441.0 504.2L440.3 507.9Z"/><path d="M456.1 507.3L451.2 505.9" stroke="#000" stroke-width="1.49"/><path d="M447.6 504.9L452.1 504.2L451.1 507.9Z"/><path d="M466.4 506.4L462.7 506.1" stroke="#000" stroke-width="1.32"/><path d="M459.5 505.8L463.4 504.4L463.1 507.8Z"/><path d="M475.0 503.8L474.1 505.9" stroke="#000" stroke-width="1.15"/><path d="M473.1 508.4L473.0 504.9L475.7 506.0Z"/><path d="M484.0 503.5L485.1 506.1" stroke="#000" stroke-width="1.21"/><path d="M486.3 508.7L483.5 506.2L486.4 505.0Z"/><path d="M211.2 512.9L212.2 515.5" stroke="#000" stroke-width="1.22"/><path d="M213.3 518.2L210.6 515.6L213.5 514.5Z"/><path d="M224.3 513.0L223.4 515.4" stroke="#000" stroke-width="1.18"/><path d="M222.4 518.1L222.2 514.4L225.0 515.5Z"/><path d="M236.9 515.6L234.7 515.6" stroke="#000" stroke-width="1.15"/><path d="M232.0 515.5L235.2 514.1L235.1 517.0Z"/><path d="M248.2 515.6L245.7 515.6" stroke="#000" stroke-width="1.18"/><path d="M242.9 515.5L246.2 514.0L246.2 517.1Z"/><path d="M259.2 515.3L256.8 515.5" stroke="#000" stroke-width="1.17"/><path d="M254.1 515.8L257.1 514.0L257.5 517.0Z"/><path d="M270.1 515.1L268.0 515.5" stroke="#000" stroke-width="1.13"/><path d="M265.4 516.0L268.2 514.0L268.8 516.8Z"/><path d="M280.9 515.0L279.2 515.5" stroke="#000" stroke-width="1.09"/><path d="M276.8 516.1L279.3 514.0L280.1 516.7Z"/><path d="M291.8 514.3L290.2 515.4" stroke="#000" stroke-width="1.09"/><path d="M288.1 516.8L289.9 513.9L291.4 516.2Z"/><path d="M302.4 513.5L301.2 515.4" stroke="#000" stroke-width="1.14"/><path d="M299.7 517.6L300.3 514.1L302.7 515.8Z"/><path d="M313.0 513.1L312.2 515.4" stroke="#000" stroke-width="1.17"/><path d="M311.3 518.0L310.9 514.5L313.8 515.4Z"/><path d="M322.4 513.5L323.1 515.3" stroke="#000" stroke-width="1.11"/><path d="M324.1 517.6L321.6 515.3L324.2 514.3Z"/><path d="M331.7 516.1L334.2 515.6" stroke="#000" stroke-width="1.18"/><path d="M337.0 515.0L334.1 517.2L333.4 514.2Z"/><path d="M342.5 516.9L345.6 515.5" stroke="#000" stroke-width="1.28"/><path d="M348.4 514.2L345.8 517.2L344.4 514.2Z"/><path d="M353.7 516.9L356.6 515.5" stroke="#000" stroke-width="1.26"/><path d="M359.4 514.2L356.9 517.2L355.5 514.3Z"/><path d="M365.3 516.7L367.5 515.6" stroke="#000" stroke-width="1.18"/><path d="M370.0 514.4L367.7 517.2L366.4 514.5Z"/><path d="M377.8 517.4L378.6 515.9" stroke="#000" stroke-width="1.08"/><path d="M379.7 513.7L379.6 517.0L377.1 515.7Z"/><path d="M394.1 513.3L389.0 516.0" stroke="#000" stroke-width="1.57"/><path d="M385.6 517.8L388.5 514.0L390.4 517.5Z"/><path d="M405.4 513.3L400.0 516.0" stroke="#000" stroke-width="1.61"/><path d="M396.4 517.8L399.6 513.9L401.4 517.6Z"/><path d="M414.8 515.1L412.1 515.5" stroke="#000" stroke-width="1.20"/><path d="M409.3 516.1L412.3 513.9L412.9 517.0Z"/><path d="M426.1 515.4L423.1 515.6" stroke="#000" stroke-width="1.24"/><path d="M420.2 515.7L423.5 513.9L423.7 517.1Z"/><path d="M437.2 515.5L434.2 515.6" stroke="#000" stroke-width="1.23"/><path d="M431.3 515.6L434.7 514.0L434.7 517.1Z"/><path d="M448.3 516.2L445.3 515.5" stroke="#000" stroke-width="1.24"/><path d="M442.4 514.9L446.2 514.1L445.4 517.2Z"/><path d="M459.8 516.7L456.2 515.5" stroke="#000" stroke-width="1.33"/><path d="M453.1 514.4L457.2 514.0L456.1 517.2Z"/><path d="M471.2 516.3L467.2 515.5" stroke="#000" stroke-width="1.37"/><path d="M463.9 514.8L468.0 513.8L467.3 517.3Z"/><path d="M481.9 515.2L478.5 515.6" stroke="#000" stroke-width="1.28"/><path d="M475.4 515.9L478.8 513.9L479.1 517.2Z"/><path d="M211.1 525.1L207.4 525.0" stroke="#000" stroke-width="1.32"/><path d="M204.2 524.9L207.9 523.3L207.9 526.7Z"/><path d="M220.6 522.3L218.7 525.1" stroke="#000" stroke-width="1.29"/><path d="M216.9 527.7L217.6 523.8L220.3 525.7Z"/><path d="M231.2 523.5L230.2 524.7" stroke="#000" stroke-width="1.05"/><path d="M228.5 526.5L229.5 523.4L231.5 525.2Z"/><path d="M242.8 525.0L241.5 525.0" stroke="#000" stroke-width="1.02"/><path d="M239.1 525.0L242.0 523.7L242.0 526.3Z"/><path d="M253.8 524.9L252.6 525.0" stroke="#000" stroke-width="1.02"/><path d="M250.3 525.1L253.0 523.6L253.2 526.2Z"/><path d="M264.5 524.7L264.0 524.8" stroke="#000" stroke-width="0.60"/><path d="M261.8 525.3L264.3 523.5L264.8 526.0Z"/><path d="M275.5 524.3L275.0 524.6" stroke="#000" stroke-width="0.60"/><path d="M273.0 525.7L274.8 523.2L276.1 525.4Z"/><path d="M286.1 523.3L285.6 524.5" stroke="#000" stroke-width="1.03"/><path d="M284.6 526.7L284.6 523.5L287.0 524.6Z"/><path d="M296.5 522.9L296.5 524.6" stroke="#000" stroke-width="1.07"/><path d="M296.4 527.1L295.1 524.1L297.8 524.1Z"/><path d="M306.5 523.0L307.4 524.7" stroke="#000" stroke-width="1.11"/><path d="M308.6 527.0L305.9 525.0L308.4 523.6Z"/><path d="M316.2 524.2L318.5 524.9" stroke="#000" stroke-width="1.16"/><path d="M321.1 525.8L317.6 526.2L318.4 523.4Z"/><path d="M326.9 525.7L329.8 525.0" stroke="#000" stroke-width="1.23"/><path d="M332.6 524.3L329.6 526.6L328.9 523.6Z"/><path d="M338.2 526.2L340.9 525.0" stroke="#000" stroke-width="1.23"/><path d="M343.5 523.8L341.1 526.6L339.7 523.8Z"/><path d="M349.7 526.1L351.8 525.1" stroke="#000" stroke-width="1.15"/><path d="M354.2 523.9L352.0 526.6L350.7 524.0Z"/><path d="M361.2 525.8L362.7 525.2" stroke="#000" stroke-width="1.06"/><path d="M364.9 524.2L362.7 526.6L361.7 524.1Z"/><path d="M375.3 524.2L374.9 524.5" stroke="#000" stroke-width="0.60"/><path d="M373.0 525.8L374.6 523.2L376.0 525.3Z"/><path d="M387.2 524.3L385.6 524.9" stroke="#000" stroke-width="1.08"/><path d="M383.3 525.7L385.7 523.4L386.5 526.0Z"/><path d="M398.8 524.3L396.5 525.0" stroke="#000" stroke-width="1.16"/><path d="M393.9 525.7L396.6 523.4L397.4 526.3Z"/><path d="M410.1 524.6L407.5 525.0" stroke="#000" stroke-width="1.19"/><path d="M404.8 525.4L407.8 523.4L408.3 526.4Z"/><path d="M421.0 525.2L418.8 525.0" stroke="#000" stroke-width="1.14"/><path d="M416.1 524.8L419.4 523.6L419.2 526.5Z"/><path d="M431.2 526.2L430.0 525.3" stroke="#000" stroke-width="1.06"/><path d="M428.1 523.8L431.2 524.5L429.6 526.6Z"/><path d="M440.9 526.9L440.8 525.5" stroke="#000" stroke-width="1.04"/><path d="M440.6 523.1L442.2 525.9L439.5 526.1Z"/><path d="M452.5 526.7L452.0 525.5" stroke="#000" stroke-width="1.03"/><path d="M451.2 523.3L453.4 525.4L451.0 526.4Z"/><path d="M464.8 525.9L463.3 525.2" stroke="#000" stroke-width="1.07"/><path d="M461.1 524.1L464.4 524.2L463.2 526.6Z"/><path d="M476.4 525.4L474.3 525.1" stroke="#000" stroke-width="1.12"/><path d="M471.7 524.6L475.1 523.7L474.5 526.6Z"/><path d="M487.5 525.0L485.4 525.0" stroke="#000" stroke-width="1.13"/><path d="M482.8 525.0L485.9 523.6L485.9 526.4Z"/><path d="M214.9 533.8L212.3 534.4" stroke="#000" stroke-width="1.19"/><path d="M209.6 535.1L212.4 532.8L213.2 535.8Z"/><path d="M225.1 533.3L223.7 534.2" stroke="#000" stroke-width="1.07"/><path d="M221.6 535.6L223.4 532.8L224.9 535.1Z"/><path d="M235.8 534.2L235.3 534.3" stroke="#000" stroke-width="0.60"/><path d="M233.1 534.7L235.6 533.0L236.0 535.5Z"/><path d="M246.9 534.4L246.4 534.4" stroke="#000" stroke-width="0.60"/><path d="M244.2 534.5L246.9 533.2L247.0 535.7Z"/><path d="M258.0 534.4L257.5 534.4" stroke="#000" stroke-width="0.60"/><path d="M255.3 534.5L258.0 533.1L258.1 535.7Z"/><path d="M269.1 534.2L268.6 534.3" stroke="#000" stroke-width="0.60"/><path d="M266.4 534.7L268.9 533.0L269.3 535.5Z"/><path d="M280.0 533.7L279.6 534.0" stroke="#000" stroke-width="0.60"/><path d="M277.7 535.2L279.3 532.6L280.7 534.7Z"/><path d="M290.2 532.7L290.0 533.9" stroke="#000" stroke-width="1.03"/><path d="M289.7 536.2L288.8 533.2L291.4 533.6Z"/><path d="M299.8 533.0L300.7 534.1" stroke="#000" stroke-width="1.05"/><path d="M302.3 535.9L299.4 534.6L301.4 532.8Z"/><path d="M310.0 534.0L311.8 534.4" stroke="#000" stroke-width="1.10"/><path d="M314.3 534.9L311.0 535.7L311.6 532.9Z"/><path d="M320.9 534.9L323.0 534.5" stroke="#000" stroke-width="1.13"/><path d="M325.6 534.0L322.8 536.0L322.2 533.2Z"/><path d="M332.3 535.3L334.1 534.6" stroke="#000" stroke-width="1.11"/><path d="M336.4 533.6L334.2 536.1L333.0 533.5Z"/><path d="M343.8 535.4L345.0 534.7" stroke="#000" stroke-width="1.05"/><path d="M347.1 533.5L345.3 536.1L343.9 533.8Z"/><path d="M357.8 533.9L357.4 534.1" stroke="#000" stroke-width="0.60"/><path d="M355.3 535.0L357.3 532.7L358.3 535.0Z"/><path d="M369.4 533.4L368.0 534.2" stroke="#000" stroke-width="1.07"/><path d="M365.9 535.5L367.7 532.8L369.1 535.2Z"/><path d="M380.9 533.2L378.9 534.3" stroke="#000" stroke-width="1.14"/><path d="M376.6 535.7L378.7 532.8L380.1 535.4Z"/><path d="M392.0 533.4L390.1 534.3" stroke="#000" stroke-width="1.14"/><path d="M387.7 535.5L389.9 532.8L391.2 535.4Z"/><path d="M402.8 534.2L401.4 534.4" stroke="#000" stroke-width="1.04"/><path d="M399.1 534.7L401.8 533.0L402.1 535.6Z"/><path d="M410.7 536.0L411.8 534.8" stroke="#000" stroke-width="1.07"/><path d="M413.4 532.9L412.5 536.0L410.4 534.2Z"/><path d="M421.4 535.9L422.9 534.6" stroke="#000" stroke-width="1.12"/><path d="M424.9 533.0L423.5 536.1L421.6 533.9Z"/><path d="M432.5 535.7L433.9 534.7" stroke="#000" stroke-width="1.08"/><path d="M436.0 533.2L434.4 536.1L432.7 533.9Z"/><path d="M443.8 535.5L444.9 534.7" stroke="#000" stroke-width="1.03"/><path d="M446.9 533.4L445.2 536.1L443.8 533.9Z"/><path d="M455.3 535.2L455.7 535.0" stroke="#000" stroke-width="0.60"/><path d="M457.6 533.7L456.0 536.3L454.6 534.2Z"/><path d="M468.3 535.6L468.1 535.2" stroke="#000" stroke-width="0.60"/><path d="M466.8 533.3L469.4 534.9L467.3 536.3Z"/><path d="M480.0 534.8L479.5 534.6" stroke="#000" stroke-width="0.60"/><path d="M477.3 534.1L480.3 533.5L479.7 536.0Z"/><path d="M209.7 543.8L208.1 543.9" stroke="#000" stroke-width="1.07"/><path d="M205.6 544.0L208.5 542.5L208.6 545.2Z"/><path d="M220.8 543.6L219.2 543.8" stroke="#000" stroke-width="1.07"/><path d="M216.7 544.2L219.5 542.4L219.8 545.1Z"/><path d="M231.8 543.8L230.3 543.9" stroke="#000" stroke-width="1.06"/><path d="M227.9 544.0L230.7 542.5L230.9 545.2Z"/><path d="M243.0 543.8L241.4 543.9" stroke="#000" stroke-width="1.06"/><path d="M238.9 544.0L241.8 542.5L241.9 545.2Z"/><path d="M254.1 543.9L252.5 543.9" stroke="#000" stroke-width="1.07"/><path d="M250.0 543.9L252.9 542.5L253.0 545.2Z"/><path d="M265.2 543.9L263.6 543.9" stroke="#000" stroke-width="1.07"/><path d="M261.1 543.9L264.0 542.5L264.1 545.2Z"/><path d="M276.3 543.8L274.7 543.9" stroke="#000" stroke-width="1.06"/><path d="M272.2 544.0L275.1 542.5L275.3 545.2Z"/><path d="M287.3 543.6L285.8 543.8" stroke="#000" stroke-width="1.05"/><path d="M283.4 544.2L286.1 542.4L286.5 545.1Z"/><path d="M298.2 543.4L297.0 543.8" stroke="#000" stroke-width="1.03"/><path d="M294.7 544.4L297.1 542.4L297.8 544.9Z"/><path d="M308.9 543.8L308.4 543.9" stroke="#000" stroke-width="0.60"/><path d="M306.2 544.0L308.9 542.6L309.0 545.1Z"/><path d="M318.1 545.2L318.3 544.7" stroke="#000" stroke-width="0.60"/><path d="M319.2 542.6L319.3 545.7L317.0 544.7Z"/><path d="M330.3 545.2L330.1 544.7" stroke="#000" stroke-width="0.60"/><path d="M329.2 542.6L331.5 544.6L329.2 545.7Z"/><path d="M342.6 543.9L341.4 543.9" stroke="#000" stroke-width="1.02"/><path d="M339.1 543.9L341.9 542.6L341.9 545.2Z"/><path d="M353.8 543.1L352.3 543.7" stroke="#000" stroke-width="1.06"/><path d="M350.1 544.7L352.2 542.3L353.4 544.7Z"/><path d="M364.8 542.6L363.3 543.7" stroke="#000" stroke-width="1.09"/><path d="M361.3 545.2L362.9 542.3L364.6 544.5Z"/><path d="M375.2 542.2L374.4 543.5" stroke="#000" stroke-width="1.06"/><path d="M373.1 545.6L373.5 542.4L375.8 543.8Z"/><path d="M383.3 543.6L384.8 543.8" stroke="#000" stroke-width="1.05"/><path d="M387.2 544.2L384.1 545.1L384.5 542.4Z"/><path d="M393.9 544.7L396.2 544.0" stroke="#000" stroke-width="1.16"/><path d="M398.8 543.1L396.2 545.5L395.3 542.7Z"/><path d="M404.9 544.9L407.4 543.9" stroke="#000" stroke-width="1.20"/><path d="M410.0 542.9L407.5 545.5L406.3 542.7Z"/><path d="M416.2 544.8L418.4 544.0" stroke="#000" stroke-width="1.15"/><path d="M420.9 543.0L418.4 545.5L417.3 542.8Z"/><path d="M427.6 544.5L429.3 544.0" stroke="#000" stroke-width="1.09"/><path d="M431.7 543.3L429.2 545.5L428.4 542.8Z"/><path d="M438.8 544.2L440.3 544.0" stroke="#000" stroke-width="1.05"/><path d="M442.7 543.6L440.0 545.4L439.6 542.7Z"/><path d="M449.9 544.0L451.4 543.9" stroke="#000" stroke-width="1.04"/><path d="M453.8 543.8L450.9 545.3L450.8 542.6Z"/><path d="M461.1 543.9L462.5 543.9" stroke="#000" stroke-width="1.04"/><path d="M464.8 543.9L461.9 545.2L462.0 542.6Z"/><path d="M472.2 543.8L473.5 543.9" stroke="#000" stroke-width="1.03"/><path d="M475.9 544.0L473.0 545.2L473.1 542.5Z"/><path d="M483.3 543.8L484.6 543.9" stroke="#000" stroke-width="1.03"/><path d="M487.0 544.0L484.0 545.1L484.2 542.5Z"/><path d="M214.2 553.0L212.7 553.3" stroke="#000" stroke-width="1.06"/><path d="M210.3 553.7L212.9 551.9L213.4 554.5Z"/><path d="M225.4 553.1L223.8 553.3" stroke="#000" stroke-width="1.07"/><path d="M221.3 553.6L224.1 551.9L224.4 554.6Z"/><path d="M236.5 553.1L234.8 553.3" stroke="#000" stroke-width="1.08"/><path d="M232.4 553.6L235.2 551.9L235.5 554.6Z"/><path d="M247.7 553.2L245.9 553.3" stroke="#000" stroke-width="1.08"/><path d="M243.4 553.5L246.3 551.9L246.5 554.7Z"/><path d="M258.8 553.3L257.0 553.3" stroke="#000" stroke-width="1.08"/><path d="M254.5 553.4L257.5 551.9L257.6 554.7Z"/><path d="M269.9 553.4L268.1 553.4" stroke="#000" stroke-width="1.08"/><path d="M265.6 553.3L268.6 552.0L268.6 554.7Z"/><path d="M280.9 553.4L279.2 553.4" stroke="#000" stroke-width="1.08"/><path d="M276.8 553.3L279.8 552.0L279.7 554.7Z"/><path d="M292.0 553.5L290.4 553.4" stroke="#000" stroke-width="1.07"/><path d="M287.9 553.2L291.0 552.1L290.8 554.8Z"/><path d="M303.0 553.6L301.5 553.4" stroke="#000" stroke-width="1.05"/><path d="M299.1 553.1L302.2 552.2L301.8 554.8Z"/><path d="M314.0 553.8L312.6 553.5" stroke="#000" stroke-width="1.05"/><path d="M310.3 552.9L313.4 552.3L312.8 554.9Z"/><path d="M325.1 553.8L323.7 553.5" stroke="#000" stroke-width="1.04"/><path d="M321.4 552.9L324.5 552.3L323.9 554.9Z"/><path d="M336.2 553.4L334.8 553.4" stroke="#000" stroke-width="1.04"/><path d="M332.5 553.3L335.4 552.1L335.3 554.7Z"/><path d="M347.2 552.7L345.9 553.2" stroke="#000" stroke-width="1.03"/><path d="M343.7 554.0L345.9 551.8L346.9 554.2Z"/><path d="M356.0 552.1L356.2 552.5" stroke="#000" stroke-width="0.60"/><path d="M357.1 554.6L354.9 552.5L357.2 551.6Z"/><path d="M365.5 553.4L367.3 553.4" stroke="#000" stroke-width="1.08"/><path d="M369.8 553.3L366.8 554.8L366.7 552.0Z"/><path d="M376.2 553.9L378.6 553.4" stroke="#000" stroke-width="1.17"/><path d="M381.3 552.8L378.5 555.0L377.8 552.0Z"/><path d="M387.1 554.2L389.8 553.4" stroke="#000" stroke-width="1.21"/><path d="M392.6 552.5L389.8 555.0L388.9 552.0Z"/><path d="M398.3 554.1L400.9 553.4" stroke="#000" stroke-width="1.20"/><path d="M403.6 552.6L400.8 555.0L400.0 552.0Z"/><path d="M409.5 553.9L411.9 553.4" stroke="#000" stroke-width="1.17"/><path d="M414.6 552.8L411.7 555.0L411.1 552.0Z"/><path d="M420.7 553.7L423.0 553.4" stroke="#000" stroke-width="1.15"/><path d="M425.6 553.0L422.7 554.9L422.3 552.0Z"/><path d="M431.7 553.5L434.1 553.4" stroke="#000" stroke-width="1.15"/><path d="M436.8 553.2L433.6 554.9L433.5 551.9Z"/><path d="M442.8 553.4L445.2 553.4" stroke="#000" stroke-width="1.15"/><path d="M447.9 553.3L444.7 554.8L444.6 551.9Z"/><path d="M453.9 553.3L456.3 553.3" stroke="#000" stroke-width="1.15"/><path d="M459.0 553.4L455.7 554.8L455.8 551.9Z"/><path d="M465.1 553.2L467.3 553.3" stroke="#000" stroke-width="1.14"/><path d="M470.0 553.5L466.7 554.8L466.9 551.8Z"/><path d="M476.3 553.1L478.4 553.3" stroke="#000" stroke-width="1.12"/><path d="M481.0 553.6L477.7 554.7L478.0 551.8Z"/><path d="M203.9 562.8L208.1 562.8" stroke="#000" stroke-width="1.38"/><path d="M211.4 562.8L207.6 564.6L207.6 561.0Z"/><path d="M215.0 562.8L219.2 562.8" stroke="#000" stroke-width="1.38"/><path d="M222.5 562.8L218.7 564.6L218.7 561.0Z"/><path d="M226.1 562.8L230.2 562.8" stroke="#000" stroke-width="1.38"/><path d="M233.6 562.8L229.8 564.6L229.8 561.0Z"/><path d="M238.9 562.6L240.5 562.7" stroke="#000" stroke-width="1.06"/><path d="M242.9 563.1L239.9 564.0L240.2 561.3Z"/><path d="M250.9 562.0L251.3 562.3" stroke="#000" stroke-width="0.60"/><path d="M253.2 563.6L250.2 563.0L251.7 561.0Z"/><path d="M261.8 562.7L262.3 562.7" stroke="#000" stroke-width="0.60"/><path d="M264.5 562.9L261.7 563.9L261.9 561.4Z"/><path d="M273.0 563.4L273.4 563.2" stroke="#000" stroke-width="0.60"/><path d="M275.5 562.2L273.6 564.6L272.4 562.3Z"/><path d="M284.3 563.8L284.7 563.4" stroke="#000" stroke-width="0.60"/><path d="M286.4 561.8L285.2 564.7L283.5 562.9Z"/><path d="M295.6 563.9L295.9 563.5" stroke="#000" stroke-width="0.60"/><path d="M297.3 561.7L296.6 564.7L294.6 563.2Z"/><path d="M306.8 564.0L307.1 563.6" stroke="#000" stroke-width="0.60"/><path d="M308.3 561.6L307.9 564.6L305.8 563.4Z"/><path d="M318.0 564.0L318.2 563.6" stroke="#000" stroke-width="0.60"/><path d="M319.3 561.6L319.1 564.6L316.9 563.4Z"/><path d="M328.8 563.8L329.1 563.4" stroke="#000" stroke-width="0.60"/><path d="M330.7 561.8L329.7 564.7L327.9 562.9Z"/><path d="M339.2 563.6L340.4 563.0" stroke="#000" stroke-width="1.02"/><path d="M342.5 562.0L340.5 564.4L339.4 562.0Z"/><path d="M350.1 563.5L351.5 563.0" stroke="#000" stroke-width="1.06"/><path d="M353.8 562.1L351.6 564.4L350.6 561.9Z"/><path d="M361.0 563.7L362.7 562.9" stroke="#000" stroke-width="1.10"/><path d="M365.1 561.9L362.9 564.4L361.7 561.9Z"/><path d="M372.1 563.9L373.9 562.9" stroke="#000" stroke-width="1.11"/><path d="M376.2 561.7L374.1 564.4L372.8 561.9Z"/><path d="M383.3 563.9L385.0 563.0" stroke="#000" stroke-width="1.10"/><path d="M387.2 561.7L385.3 564.4L383.8 562.0Z"/><path d="M394.5 563.9L396.0 563.0" stroke="#000" stroke-width="1.09"/><path d="M398.2 561.7L396.3 564.4L394.9 562.0Z"/><path d="M409.7 562.7L407.8 562.8" stroke="#000" stroke-width="1.11"/><path d="M405.2 563.0L408.2 561.3L408.4 564.2Z"/><path d="M422.8 562.7L417.9 562.8" stroke="#000" stroke-width="1.47"/><path d="M414.3 563.0L418.3 560.9L418.5 564.7Z"/><path d="M433.9 562.7L429.0 562.8" stroke="#000" stroke-width="1.47"/><path d="M425.4 563.0L429.4 560.9L429.6 564.7Z"/><path d="M445.0 562.7L440.1 562.8" stroke="#000" stroke-width="1.47"/><path d="M436.5 563.0L440.5 560.9L440.7 564.7Z"/><path d="M456.1 562.7L451.2 562.8" stroke="#000" stroke-width="1.47"/><path d="M447.6 563.0L451.6 560.9L451.8 564.7Z"/><path d="M467.2 562.7L462.3 562.8" stroke="#000" stroke-width="1.47"/><path d="M458.7 563.0L462.7 560.9L462.9 564.7Z"/><path d="M478.3 562.7L473.4 562.8" stroke="#000" stroke-width="1.47"/><path d="M469.8 563.0L473.8 560.9L474.0 564.7Z"/><path d="M487.1 562.8L485.6 562.8" stroke="#000" stroke-width="1.06"/><path d="M483.1 562.8L486.1 561.4L486.1 564.2Z"/>
</g>
<clipPath id="clipe"><rect x="204.80" y="444.30" width="285.30" height="126.60"/></clipPath>
<g clip-path="url(#clipe)">
<path d="M331.2 503.8C330.2 503.7 326.4 503.5 325.0 503.8C323.5 504.0 323.3 504.8 322.5 505.3C321.7 505.8 320.8 506.3 320.0 506.7C319.2 507.2 318.2 507.5 317.5 507.9C316.9 508.4 316.3 508.9 316.1 509.4C316.0 510.0 316.7 510.6 316.5 511.2C316.4 511.8 315.3 512.4 315.1 512.9C315.0 513.4 315.2 514.1 315.7 514.4C316.3 514.7 317.6 514.5 318.5 514.6C319.5 514.7 320.6 514.9 321.5 515.2C322.4 515.5 323.2 516.0 324.0 516.6C324.8 517.2 325.6 518.0 326.5 518.8C327.4 519.5 328.3 520.3 329.4 521.0C330.6 521.8 332.1 522.7 333.4 523.4C334.7 524.1 336.1 524.8 337.4 525.3C338.7 525.8 339.9 526.2 341.4 526.5C342.9 526.8 344.8 526.9 346.3 526.9C347.9 526.9 349.6 526.6 350.8 526.3C352.0 526.0 352.5 525.4 353.3 525.0C354.0 524.7 354.6 524.1 355.3 524.1C355.9 524.1 356.5 524.5 357.3 524.9C358.0 525.3 358.8 526.0 359.7 526.4C360.6 526.8 361.8 527.3 362.7 527.4C363.6 527.5 364.5 527.3 365.2 526.8C365.9 526.3 366.5 525.3 367.0 524.5C367.4 523.7 367.6 522.8 368.0 521.9C368.4 521.1 369.2 520.2 369.4 519.4C369.5 518.5 369.3 517.7 369.0 516.9C368.6 516.1 367.6 515.2 367.2 514.4C366.8 513.6 367.0 512.7 366.4 511.9C365.8 511.2 364.7 510.4 363.7 509.8C362.8 509.2 361.8 508.5 360.7 508.2C359.7 508.0 358.3 507.9 357.3 508.1C356.2 508.3 355.1 508.8 354.7 509.4C354.2 510.0 355.1 511.4 354.7 511.8C354.2 512.2 352.6 512.3 351.9 511.9C351.2 511.6 351.1 510.2 350.5 509.7C349.9 509.3 349.3 509.1 348.3 509.1C347.3 509.1 345.8 509.4 344.3 509.7C342.9 510.1 341.0 510.8 339.4 511.2C337.7 511.7 336.1 512.2 334.4 512.4C332.8 512.6 330.8 512.5 329.4 512.2C328.1 511.9 327.0 511.4 326.2 510.8C325.3 510.2 324.6 509.2 324.3 508.4C323.9 507.7 323.9 506.9 324.1 506.3C324.3 505.6 324.3 504.8 325.5 504.5C326.7 504.1 330.3 504.3 331.2 504.2C332.2 504.1 332.3 503.8 331.2 503.8Z" fill="none" stroke="#A020F0" stroke-width="1.75" stroke-linejoin="round"/>
<ellipse cx="310.9" cy="516.4" rx="2.0" ry="1.1" fill="#A020F0"/>
</g>
<path d="M204.80 570.90v7.5M220.65 570.90v3.4M236.50 570.90v3.4M252.35 570.90v7.5M268.20 570.90v3.4M284.05 570.90v3.4M299.90 570.90v7.5M315.75 570.90v3.4M331.60 570.90v3.4M347.45 570.90v7.5M363.30 570.90v3.4M379.15 570.90v3.4M395.00 570.90v7.5M410.85 570.90v3.4M426.70 570.90v3.4M442.55 570.90v7.5M458.40 570.90v3.4M474.25 570.90v3.4M490.10 570.90v7.5M204.80 570.90h-7.5M204.80 555.08h-3.7M204.80 539.25h-7.5M204.80 523.42h-3.7M204.80 507.60h-7.5M204.80 491.78h-3.7M204.80 475.95h-7.5M204.80 460.12h-3.7M204.80 444.30h-7.5" stroke="#000" stroke-width="1.1" fill="none"/>
<rect x="204.80" y="444.30" width="285.30" height="126.60" fill="none" stroke="#000" stroke-width="1.3"/>
<text x="194.3" y="449.0" text-anchor="end" font-size="13">80<tspan font-size="6.5" dy="-5.5">o</tspan><tspan dy="5.5">N</tspan></text>
<text x="194.3" y="480.6" text-anchor="end" font-size="13">60<tspan font-size="6.5" dy="-5.5">o</tspan><tspan dy="5.5">N</tspan></text>
<text x="194.3" y="512.3" text-anchor="end" font-size="13">40<tspan font-size="6.5" dy="-5.5">o</tspan><tspan dy="5.5">N</tspan></text>
<text x="194.3" y="544.0" text-anchor="end" font-size="13">20<tspan font-size="6.5" dy="-5.5">o</tspan><tspan dy="5.5">N</tspan></text>
<text x="194.3" y="575.6" text-anchor="end" font-size="13">EQ</text>
<text x="204.8" y="592.2" text-anchor="middle" font-size="13">0<tspan font-size="6.5" dy="-5.5">o</tspan></text>
<text x="252.4" y="592.2" text-anchor="middle" font-size="13">30<tspan font-size="6.5" dy="-5.5">o</tspan><tspan dy="5.5">E</tspan></text>
<text x="299.9" y="592.2" text-anchor="middle" font-size="13">60<tspan font-size="6.5" dy="-5.5">o</tspan><tspan dy="5.5">E</tspan></text>
<text x="347.5" y="592.2" text-anchor="middle" font-size="13">90<tspan font-size="6.5" dy="-5.5">o</tspan><tspan dy="5.5">E</tspan></text>
<text x="395.0" y="592.2" text-anchor="middle" font-size="13">120<tspan font-size="6.5" dy="-5.5">o</tspan><tspan dy="5.5">E</tspan></text>
<text x="442.6" y="592.2" text-anchor="middle" font-size="13">150<tspan font-size="6.5" dy="-5.5">o</tspan><tspan dy="5.5">E</tspan></text>
<text x="490.1" y="592.2" text-anchor="middle" font-size="13">180<tspan font-size="6.5" dy="-5.5">o</tspan></text>
<text x="204.3" y="441.4" font-size="12.4">(e) Regressed hgt&amp;winds</text>
<rect x="636.50" y="13.80" width="24.00" height="29.6" fill="#fff" stroke="#000" stroke-width="1.0"/>
<path d="M639.3 24.8L651.6 24.8" stroke="#000" stroke-width="1.70"/><path d="M656.9 24.8L651.1 27.6L651.1 22.0Z"/>
<text x="648.4" y="40.6" text-anchor="middle" font-size="10.2">0.2</text>
<rect x="636.50" y="229.00" width="24.00" height="29.6" fill="#fff" stroke="#000" stroke-width="1.0"/>
<path d="M639.3 240.0L651.6 240.0" stroke="#000" stroke-width="1.70"/><path d="M656.9 240.0L651.1 242.8L651.1 237.2Z"/>
<text x="648.4" y="255.8" text-anchor="middle" font-size="10.2">0.2</text>
<rect x="458.10" y="444.30" width="32.00" height="29.6" fill="#fff" stroke="#000" stroke-width="1.0"/>
<path d="M464.9 455.3L477.2 455.3" stroke="#000" stroke-width="1.70"/><path d="M482.5 455.3L476.7 458.1L476.7 452.5Z"/>
<text x="474.0" y="471.1" text-anchor="middle" font-size="10.2">0.003</text>
<rect x="43.20" y="176.60" width="30.53" height="10.40" fill="#FEF4CF" stroke="#000" stroke-width="0.7"/>
<rect x="73.73" y="176.60" width="30.53" height="10.40" fill="#FBE89A" stroke="#000" stroke-width="0.7"/>
<rect x="104.27" y="176.60" width="30.53" height="10.40" fill="#FDC55B" stroke="#000" stroke-width="0.7"/>
<rect x="134.80" y="176.60" width="30.53" height="10.40" fill="#FDA32E" stroke="#000" stroke-width="0.7"/>
<rect x="165.33" y="176.60" width="30.53" height="10.40" fill="#F9842D" stroke="#000" stroke-width="0.7"/>
<rect x="195.87" y="176.60" width="30.53" height="10.40" fill="#F0622A" stroke="#000" stroke-width="0.7"/>
<rect x="226.40" y="176.60" width="30.53" height="10.40" fill="#DE3B27" stroke="#000" stroke-width="0.7"/>
<rect x="256.93" y="176.60" width="30.53" height="10.40" fill="#C61D27" stroke="#000" stroke-width="0.7"/>
<rect x="287.47" y="176.60" width="30.53" height="10.40" fill="#A5151F" stroke="#000" stroke-width="0.7"/>
<text x="73.7" y="202.1" text-anchor="middle" font-size="12.3">50</text>
<text x="104.3" y="202.1" text-anchor="middle" font-size="12.3">100</text>
<text x="134.8" y="202.1" text-anchor="middle" font-size="12.3">150</text>
<text x="165.3" y="202.1" text-anchor="middle" font-size="12.3">200</text>
<text x="195.9" y="202.1" text-anchor="middle" font-size="12.3">250</text>
<text x="226.4" y="202.1" text-anchor="middle" font-size="12.3">300</text>
<text x="256.9" y="202.1" text-anchor="middle" font-size="12.3">350</text>
<text x="287.5" y="202.1" text-anchor="middle" font-size="12.3">400</text>
<rect x="380.10" y="176.20" width="19.64" height="10.40" fill="#2A5CAA" stroke="#000" stroke-width="0.7"/>
<rect x="399.74" y="176.20" width="19.64" height="10.40" fill="#448ACA" stroke="#000" stroke-width="0.7"/>
<rect x="419.39" y="176.20" width="19.64" height="10.40" fill="#6DB2E0" stroke="#000" stroke-width="0.7"/>
<rect x="439.03" y="176.20" width="19.64" height="10.40" fill="#A1D8F4" stroke="#000" stroke-width="0.7"/>
<rect x="458.67" y="176.20" width="19.64" height="10.40" fill="#C9E9F8" stroke="#000" stroke-width="0.7"/>
<rect x="478.31" y="176.20" width="19.64" height="10.40" fill="#E3F3FB" stroke="#000" stroke-width="0.7"/>
<rect x="497.96" y="176.20" width="19.64" height="10.40" fill="#FFFFFF" stroke="#000" stroke-width="0.7"/>
<rect x="517.60" y="176.20" width="19.64" height="10.40" fill="#FFFFFF" stroke="#000" stroke-width="0.7"/>
<rect x="537.24" y="176.20" width="19.64" height="10.40" fill="#FEF0B8" stroke="#000" stroke-width="0.7"/>
<rect x="556.89" y="176.20" width="19.64" height="10.40" fill="#FDD772" stroke="#000" stroke-width="0.7"/>
<rect x="576.53" y="176.20" width="19.64" height="10.40" fill="#FDAE35" stroke="#000" stroke-width="0.7"/>
<rect x="596.17" y="176.20" width="19.64" height="10.40" fill="#F68329" stroke="#000" stroke-width="0.7"/>
<rect x="615.81" y="176.20" width="19.64" height="10.40" fill="#E84F26" stroke="#000" stroke-width="0.7"/>
<rect x="635.46" y="176.20" width="19.64" height="10.40" fill="#D01F27" stroke="#000" stroke-width="0.7"/>
<text x="399.7" y="201.7" text-anchor="middle" font-size="12.3">-1.2</text>
<text x="439.0" y="201.7" text-anchor="middle" font-size="12.3">-0.8</text>
<text x="478.3" y="201.7" text-anchor="middle" font-size="12.3">-0.4</text>
<text x="517.6" y="201.7" text-anchor="middle" font-size="12.3">0</text>
<text x="556.9" y="201.7" text-anchor="middle" font-size="12.3">0.4</text>
<text x="596.2" y="201.7" text-anchor="middle" font-size="12.3">0.8</text>
<text x="635.5" y="201.7" text-anchor="middle" font-size="12.3">1.2</text>
<text x="651.9" y="201.7" font-size="12.3">(×10<tspan font-size="6.5" dy="-6.2">6</tspan><tspan dy="6.2">)</tspan></text>
<rect x="43.20" y="391.80" width="39.26" height="10.40" fill="#FEF4CF" stroke="#000" stroke-width="0.7"/>
<rect x="82.46" y="391.80" width="39.26" height="10.40" fill="#FCDD85" stroke="#000" stroke-width="0.7"/>
<rect x="121.71" y="391.80" width="39.26" height="10.40" fill="#FDB442" stroke="#000" stroke-width="0.7"/>
<rect x="160.97" y="391.80" width="39.26" height="10.40" fill="#F98B2B" stroke="#000" stroke-width="0.7"/>
<rect x="200.23" y="391.80" width="39.26" height="10.40" fill="#EE5F29" stroke="#000" stroke-width="0.7"/>
<rect x="239.49" y="391.80" width="39.26" height="10.40" fill="#DA3327" stroke="#000" stroke-width="0.7"/>
<rect x="278.74" y="391.80" width="39.26" height="10.40" fill="#AE1620" stroke="#000" stroke-width="0.7"/>
<text x="82.5" y="417.3" text-anchor="middle" font-size="12.3">100</text>
<text x="121.7" y="417.3" text-anchor="middle" font-size="12.3">200</text>
<text x="161.0" y="417.3" text-anchor="middle" font-size="12.3">300</text>
<text x="200.2" y="417.3" text-anchor="middle" font-size="12.3">400</text>
<text x="239.5" y="417.3" text-anchor="middle" font-size="12.3">500</text>
<text x="278.7" y="417.3" text-anchor="middle" font-size="12.3">600</text>
<rect x="380.10" y="391.40" width="19.64" height="10.40" fill="#2A5CAA" stroke="#000" stroke-width="0.7"/>
<rect x="399.74" y="391.40" width="19.64" height="10.40" fill="#448ACA" stroke="#000" stroke-width="0.7"/>
<rect x="419.39" y="391.40" width="19.64" height="10.40" fill="#6DB2E0" stroke="#000" stroke-width="0.7"/>
<rect x="439.03" y="391.40" width="19.64" height="10.40" fill="#A1D8F4" stroke="#000" stroke-width="0.7"/>
<rect x="458.67" y="391.40" width="19.64" height="10.40" fill="#C9E9F8" stroke="#000" stroke-width="0.7"/>
<rect x="478.31" y="391.40" width="19.64" height="10.40" fill="#E3F3FB" stroke="#000" stroke-width="0.7"/>
<rect x="497.96" y="391.40" width="19.64" height="10.40" fill="#FFFFFF" stroke="#000" stroke-width="0.7"/>
<rect x="517.60" y="391.40" width="19.64" height="10.40" fill="#FFFFFF" stroke="#000" stroke-width="0.7"/>
<rect x="537.24" y="391.40" width="19.64" height="10.40" fill="#FEF0B8" stroke="#000" stroke-width="0.7"/>
<rect x="556.89" y="391.40" width="19.64" height="10.40" fill="#FDD772" stroke="#000" stroke-width="0.7"/>
<rect x="576.53" y="391.40" width="19.64" height="10.40" fill="#FDAE35" stroke="#000" stroke-width="0.7"/>
<rect x="596.17" y="391.40" width="19.64" height="10.40" fill="#F68329" stroke="#000" stroke-width="0.7"/>
<rect x="615.81" y="391.40" width="19.64" height="10.40" fill="#E84F26" stroke="#000" stroke-width="0.7"/>
<rect x="635.46" y="391.40" width="19.64" height="10.40" fill="#D01F27" stroke="#000" stroke-width="0.7"/>
<text x="399.7" y="416.9" text-anchor="middle" font-size="12.3">-1.8</text>
<text x="439.0" y="416.9" text-anchor="middle" font-size="12.3">-1.2</text>
<text x="478.3" y="416.9" text-anchor="middle" font-size="12.3">-0.6</text>
<text x="517.6" y="416.9" text-anchor="middle" font-size="12.3">0</text>
<text x="556.9" y="416.9" text-anchor="middle" font-size="12.3">0.6</text>
<text x="596.2" y="416.9" text-anchor="middle" font-size="12.3">1.2</text>
<text x="635.5" y="416.9" text-anchor="middle" font-size="12.3">1.8</text>
<text x="651.9" y="416.9" font-size="12.3">(×10<tspan font-size="6.5" dy="-6.2">6</tspan><tspan dy="6.2">)</tspan></text>
<rect x="210.00" y="607.20" width="19.63" height="10.20" fill="#2A5CAA" stroke="#000" stroke-width="0.7"/>
<rect x="229.63" y="607.20" width="19.63" height="10.20" fill="#448ACA" stroke="#000" stroke-width="0.7"/>
<rect x="249.26" y="607.20" width="19.63" height="10.20" fill="#6DB2E0" stroke="#000" stroke-width="0.7"/>
<rect x="268.89" y="607.20" width="19.63" height="10.20" fill="#A1D8F4" stroke="#000" stroke-width="0.7"/>
<rect x="288.51" y="607.20" width="19.63" height="10.20" fill="#C9E9F8" stroke="#000" stroke-width="0.7"/>
<rect x="308.14" y="607.20" width="19.63" height="10.20" fill="#E3F3FB" stroke="#000" stroke-width="0.7"/>
<rect x="327.77" y="607.20" width="19.63" height="10.20" fill="#FFFFFF" stroke="#000" stroke-width="0.7"/>
<rect x="347.40" y="607.20" width="19.63" height="10.20" fill="#FFFFFF" stroke="#000" stroke-width="0.7"/>
<rect x="367.03" y="607.20" width="19.63" height="10.20" fill="#FEF0B8" stroke="#000" stroke-width="0.7"/>
<rect x="386.66" y="607.20" width="19.63" height="10.20" fill="#FDD772" stroke="#000" stroke-width="0.7"/>
<rect x="406.29" y="607.20" width="19.63" height="10.20" fill="#FDAE35" stroke="#000" stroke-width="0.7"/>
<rect x="425.91" y="607.20" width="19.63" height="10.20" fill="#F68329" stroke="#000" stroke-width="0.7"/>
<rect x="445.54" y="607.20" width="19.63" height="10.20" fill="#E84F26" stroke="#000" stroke-width="0.7"/>
<rect x="465.17" y="607.20" width="19.63" height="10.20" fill="#D01F27" stroke="#000" stroke-width="0.7"/>
<text x="229.6" y="632.5" text-anchor="middle" font-size="12.3">-0.3</text>
<text x="268.9" y="632.5" text-anchor="middle" font-size="12.3">-0.2</text>
<text x="308.1" y="632.5" text-anchor="middle" font-size="12.3">-0.1</text>
<text x="347.4" y="632.5" text-anchor="middle" font-size="12.3">0</text>
<text x="386.7" y="632.5" text-anchor="middle" font-size="12.3">0.1</text>
<text x="425.9" y="632.5" text-anchor="middle" font-size="12.3">0.2</text>
<text x="465.2" y="632.5" text-anchor="middle" font-size="12.3">0.3</text>
</svg>
</body></html>
